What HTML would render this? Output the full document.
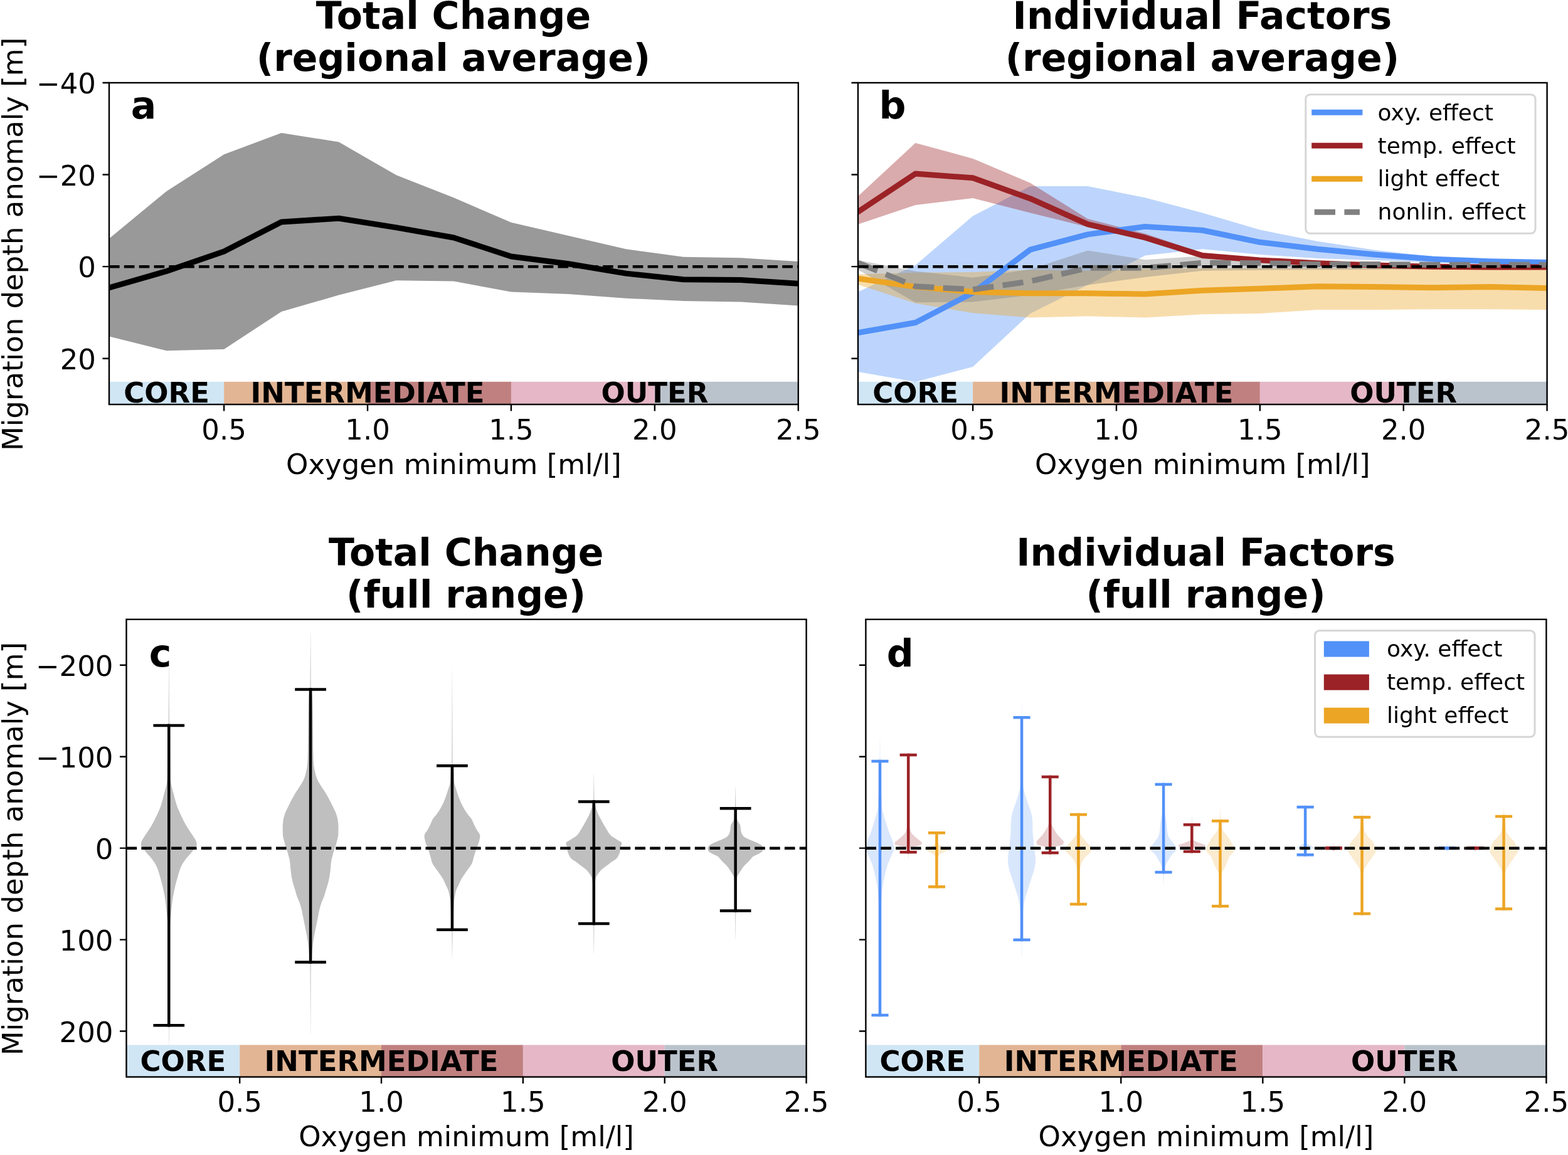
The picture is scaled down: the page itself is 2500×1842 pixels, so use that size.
<!DOCTYPE html>
<html><head><meta charset="utf-8"><title>Migration depth anomaly</title>
<style>html,body{margin:0;padding:0;background:#fff;overflow:hidden;width:2500px;height:1842px;}svg{display:block;}text{font-family:'DejaVu Sans', 'Liberation Sans', sans-serif;fill:#000;}</style>
</head><body>
<svg width="2500" height="1842" viewBox="0 0 2500 1842" font-family="'DejaVu Sans', 'Liberation Sans', sans-serif"><defs><clipPath id="clip_a"><rect x="174" y="132" width="1098.8" height="513"/></clipPath><clipPath id="clip_b"><rect x="1368" y="132" width="1098.6" height="513"/></clipPath><clipPath id="clip_c"><rect x="201.5" y="987.8" width="1084.1" height="729.7"/></clipPath><clipPath id="clip_d"><rect x="1380.4" y="987.8" width="1085" height="729.7"/></clipPath></defs><rect width="2500" height="1842" fill="#fff"/><g clip-path="url(#clip_a)">
<rect x="174" y="608.8" width="183.13" height="36.2" fill="#d0e6f5"/>
<rect x="357.13" y="608.8" width="228.92" height="36.2" fill="#e2b594"/>
<rect x="586.05" y="608.8" width="228.92" height="36.2" fill="#c08080"/>
<rect x="814.97" y="608.8" width="228.92" height="36.2" fill="#e5b7c7"/>
<rect x="1043.88" y="608.8" width="228.92" height="36.2" fill="#bac3cc"/>
<polygon points="174,380.44 265.57,304.95 357.13,246.33 448.7,211.88 540.27,226.54 631.83,279.3 723.4,315.21 814.97,354.79 906.53,376.04 998.1,397.29 1089.67,409.75 1181.23,411.22 1272.8,417.08 1272.8,487.44 1181.23,481.57 1089.67,480.11 998.1,475.71 906.53,469.11 814.97,465.45 723.4,448.59 631.83,447.13 540.27,470.58 448.7,496.96 357.13,557.06 265.57,559.26 174,536.54" fill="#999999" fill-opacity="1"/>
<polyline points="174,458.85 265.57,432.47 357.13,400.96 448.7,354.06 540.27,348.19 631.83,362.85 723.4,378.97 814.97,409.02 906.53,420.75 998.1,436.14 1089.67,445.66 1181.23,446.4 1272.8,452.26" fill="none" stroke="#000" stroke-width="9" stroke-linejoin="round" stroke-linecap="square"/>
<line x1="174" y1="425.14" x2="1272.8" y2="425.14" stroke="#000" stroke-width="4.5" stroke-dasharray="16.65 7.2"/>
<text x="265.57" y="642.3" font-size="45" text-anchor="middle" font-weight="bold">CORE</text>
<text x="586.05" y="642.3" font-size="45" text-anchor="middle" font-weight="bold">INTERMEDIATE</text>
<text x="1043.88" y="642.3" font-size="45" text-anchor="middle" font-weight="bold">OUTER</text>
</g>
<rect x="174" y="132" width="1098.8" height="513" fill="none" stroke="#000" stroke-width="2.4" stroke-linejoin="miter"/>
<path d="M357.13 645V655.5M586.05 645V655.5M814.97 645V655.5M1043.88 645V655.5M1272.8 645V655.5M174 132H163.5M174 278.57H163.5M174 425.14H163.5M174 571.71H163.5" stroke="#000" stroke-width="2.4" fill="none"/>
<text x="357.13" y="700.5" font-size="45" text-anchor="middle">0.5</text>
<text x="586.05" y="700.5" font-size="45" text-anchor="middle">1.0</text>
<text x="814.97" y="700.5" font-size="45" text-anchor="middle">1.5</text>
<text x="1043.88" y="700.5" font-size="45" text-anchor="middle">2.0</text>
<text x="1272.8" y="700.5" font-size="45" text-anchor="middle">2.5</text>
<text x="153" y="149" font-size="45" text-anchor="end">−40</text>
<text x="153" y="295.57" font-size="45" text-anchor="end">−20</text>
<text x="153" y="442.14" font-size="45" text-anchor="end">0</text>
<text x="153" y="588.71" font-size="45" text-anchor="end">20</text>
<text x="723.4" y="755.5" font-size="45" text-anchor="middle">Oxygen minimum [ml/l]</text>
<text x="36.2" y="389.4" font-size="45" text-anchor="middle" transform="rotate(-90 36.2 389.4)">Migration depth anomaly [m]</text>
<text x="723" y="46.1" font-size="60" text-anchor="middle" font-weight="bold">Total Change</text>
<text x="723" y="113.3" font-size="60" text-anchor="middle" font-weight="bold">(regional average)</text>
<text x="208.8" y="189.4" font-size="60" text-anchor="start" font-weight="bold">a</text>
<g clip-path="url(#clip_b)">
<rect x="1368" y="608.8" width="183.1" height="36.2" fill="#d0e6f5"/>
<rect x="1551.1" y="608.8" width="228.88" height="36.2" fill="#e2b594"/>
<rect x="1779.97" y="608.8" width="228.88" height="36.2" fill="#c08080"/>
<rect x="2008.85" y="608.8" width="228.88" height="36.2" fill="#e5b7c7"/>
<rect x="2237.72" y="608.8" width="228.88" height="36.2" fill="#bac3cc"/>
<polygon points="1368,465.45 1459.55,422.94 1551.1,344.53 1642.65,296.89 1734.2,296.89 1825.75,315.21 1917.3,339.4 2008.85,366.51 2100.4,384.84 2191.95,398.76 2283.5,409.02 2375.05,414.52 2466.6,416.35 2466.6,421.11 2375.05,419.65 2283.5,418.18 2191.95,414.88 2100.4,411.95 2008.85,406.09 1917.3,397.29 1825.75,407.55 1734.2,454.46 1642.65,499.89 1551.1,584.91 1459.55,609.09 1368,592.97" fill="#5291f8" fill-opacity="0.38"/>
<polygon points="1368,313.02 1459.55,228 1551.1,252.92 1642.65,291.76 1734.2,348.93 1825.75,372.38 1917.3,403.16 2008.85,411.95 2100.4,417.81 2191.95,421.48 2283.5,423.68 2375.05,424.41 2466.6,424.41 2466.6,426.61 2375.05,426.61 2283.5,425.88 2191.95,424.41 2100.4,421.48 2008.85,417.81 1917.3,411.95 1825.75,383.37 1734.2,362.12 1642.65,339.4 1551.1,315.95 1459.55,326.94 1368,357.72" fill="#9b2226" fill-opacity="0.38"/>
<polygon points="1368,437.6 1459.55,434.67 1551.1,433.94 1642.65,430.27 1734.2,431.74 1825.75,428.81 1917.3,428.07 2008.85,427.71 2100.4,427.71 2191.95,427.71 2283.5,427.71 2375.05,427.71 2466.6,427.71 2466.6,494.03 2375.05,493.3 2283.5,493.3 2191.95,494.03 2100.4,494.03 2008.85,499.89 1917.3,501.36 1825.75,506.49 1734.2,504.29 1642.65,506.49 1551.1,499.16 1459.55,483.77 1368,453.72" fill="#eca524" fill-opacity="0.38"/>
<polygon points="1368,414.88 1459.55,432.47 1551.1,442.73 1642.65,429.54 1734.2,399.49 1825.75,414.15 1917.3,408.29 2008.85,417.08 2100.4,419.28 2191.95,420.01 2283.5,420.75 2375.05,420.75 2466.6,420.75 2466.6,429.54 2375.05,429.54 2283.5,429.54 2191.95,429.91 2100.4,430.27 2008.85,430.64 1917.3,431.74 1825.75,442 1734.2,454.46 1642.65,470.58 1551.1,481.57 1459.55,482.31 1368,430.27" fill="#808080" fill-opacity="0.38"/>
<polyline points="1368,530.67 1459.55,514.55 1551.1,466.92 1642.65,398.03 1734.2,373.84 1825.75,361.38 1917.3,367.25 2008.85,386.3 2100.4,397.29 2191.95,406.09 2283.5,413.05 2375.05,416.72 2466.6,418.55" fill="none" stroke="#5291f8" stroke-width="9" stroke-linejoin="round" stroke-linecap="square"/>
<polyline points="1368,337.93 1459.55,277.11 1551.1,283.7 1642.65,316.68 1734.2,357.72 1825.75,378.97 1917.3,407.55 2008.85,414.88 2100.4,419.65 2191.95,422.94 2283.5,425.14 2375.05,425.88 2466.6,425.88" fill="none" stroke="#9b2226" stroke-width="9" stroke-linejoin="round" stroke-linecap="square"/>
<polyline points="1368,444.2 1459.55,457.39 1551.1,465.45 1642.65,467.65 1734.2,467.65 1825.75,469.11 1917.3,463.25 2008.85,460.32 2100.4,456.66 2191.95,457.39 2283.5,458.85 2375.05,457.39 2466.6,459.59" fill="none" stroke="#eca524" stroke-width="9" stroke-linejoin="round" stroke-linecap="square"/>
<polyline points="1368,419.28 1459.55,456.66 1551.1,461.79 1642.65,448.59 1734.2,427.34 1825.75,427.34 1917.3,419.28 2008.85,419.65 2100.4,421.48 2191.95,421.48 2283.5,422.21 2375.05,422.21 2466.6,422.21" fill="none" stroke="#808080" stroke-width="9" stroke-linejoin="round" stroke-dasharray="33.3 14.4" stroke-linecap="butt"/>
<line x1="1368" y1="425.14" x2="2466.6" y2="425.14" stroke="#000" stroke-width="4.5" stroke-dasharray="16.65 7.2"/>
<text x="1459.55" y="642.3" font-size="45" text-anchor="middle" font-weight="bold">CORE</text>
<text x="1779.97" y="642.3" font-size="45" text-anchor="middle" font-weight="bold">INTERMEDIATE</text>
<text x="2237.72" y="642.3" font-size="45" text-anchor="middle" font-weight="bold">OUTER</text>
</g>
<rect x="1368" y="132" width="1098.6" height="513" fill="none" stroke="#000" stroke-width="2.4" stroke-linejoin="miter"/>
<path d="M1551.1 645V655.5M1779.97 645V655.5M2008.85 645V655.5M2237.72 645V655.5M2466.6 645V655.5M1368 132H1357.5M1368 278.57H1357.5M1368 425.14H1357.5M1368 571.71H1357.5" stroke="#000" stroke-width="2.4" fill="none"/>
<text x="1551.1" y="700.5" font-size="45" text-anchor="middle">0.5</text>
<text x="1779.97" y="700.5" font-size="45" text-anchor="middle">1.0</text>
<text x="2008.85" y="700.5" font-size="45" text-anchor="middle">1.5</text>
<text x="2237.72" y="700.5" font-size="45" text-anchor="middle">2.0</text>
<text x="2466.6" y="700.5" font-size="45" text-anchor="middle">2.5</text>
<text x="1917.3" y="755.5" font-size="45" text-anchor="middle">Oxygen minimum [ml/l]</text>
<text x="1916.9" y="46.1" font-size="60" text-anchor="middle" font-weight="bold">Individual Factors</text>
<text x="1916.9" y="113.3" font-size="60" text-anchor="middle" font-weight="bold">(regional average)</text>
<text x="1401.6" y="189.4" font-size="60" text-anchor="start" font-weight="bold">b</text>
<g clip-path="url(#clip_c)">
<rect x="201.5" y="1666.5" width="180.68" height="51" fill="#d0e6f5"/>
<rect x="382.18" y="1666.5" width="225.85" height="51" fill="#e2b594"/>
<rect x="608.04" y="1666.5" width="225.85" height="51" fill="#c08080"/>
<rect x="833.89" y="1666.5" width="225.85" height="51" fill="#e5b7c7"/>
<rect x="1059.75" y="1666.5" width="225.85" height="51" fill="#bac3cc"/>
<polygon points="269.18,1056.39 269.17,1058.43 269.15,1060.47 269.14,1062.51 269.13,1064.55 269.12,1066.59 269.11,1068.63 269.1,1070.67 269.09,1072.71 269.08,1074.75 269.06,1076.79 269.05,1078.83 269.04,1080.87 269.03,1082.91 269.02,1084.96 269.01,1087 269,1089.04 268.99,1091.08 268.98,1093.12 268.96,1095.16 268.95,1097.2 268.94,1099.24 268.93,1101.28 268.92,1103.32 268.91,1105.36 268.9,1107.4 268.89,1109.44 268.87,1111.48 268.86,1113.52 268.85,1115.56 268.84,1117.6 268.83,1119.64 268.82,1121.68 268.81,1123.72 268.8,1125.76 268.79,1127.8 268.77,1129.84 268.76,1131.88 268.75,1133.92 268.74,1135.96 268.73,1138 268.72,1140.04 268.71,1142.08 268.7,1144.12 268.69,1146.16 268.67,1148.2 268.66,1150.24 268.65,1152.28 268.64,1154.32 268.63,1156.36 267.63,1158.4 267.6,1160.44 267.58,1162.48 267.56,1164.52 267.53,1166.56 267.51,1168.6 267.49,1170.64 267.47,1172.68 267.44,1174.73 267.42,1176.77 267.4,1178.81 267.38,1180.85 267.36,1182.89 267.33,1184.93 267.31,1186.97 267.29,1189.01 267.27,1191.05 267.25,1193.09 267.22,1195.13 267.2,1197.17 267.18,1199.21 267.16,1201.25 267.14,1203.29 267.12,1205.33 267.1,1207.37 267.08,1209.41 267.06,1211.45 267.04,1213.49 267.02,1215.53 267,1217.57 266.98,1219.61 266.95,1221.65 266.93,1223.69 266.91,1225.73 266.89,1227.77 266.87,1229.81 266.85,1231.85 266.83,1233.89 266.8,1235.93 266.76,1237.97 266.72,1240.01 266.66,1242.05 266.54,1244.09 266.28,1246.13 265.93,1248.17 265.56,1250.21 265.18,1252.25 264.75,1254.29 264.28,1256.33 263.77,1258.37 263.23,1260.41 262.68,1262.46 262.12,1264.5 261.57,1266.54 261.03,1268.58 260.51,1270.62 259.98,1272.66 259.45,1274.7 258.91,1276.74 258.35,1278.78 257.76,1280.82 257.14,1282.86 256.47,1284.9 255.75,1286.94 254.96,1288.98 254.13,1291.02 253.26,1293.06 252.36,1295.1 251.43,1297.14 250.48,1299.18 249.52,1301.22 248.55,1303.26 247.56,1305.3 246.54,1307.34 245.49,1309.38 244.42,1311.42 243.31,1313.46 242.18,1315.5 241.01,1317.54 239.81,1319.58 238.51,1321.62 237.16,1323.66 235.77,1325.7 234.37,1327.74 233.01,1329.78 231.71,1331.82 230.4,1333.86 229,1335.9 227.67,1337.94 226.53,1339.98 225.73,1342.02 225.21,1344.06 224.84,1346.1 224.86,1348.14 225.93,1350.19 227.46,1352.23 228.91,1354.27 230.55,1356.31 232.31,1358.35 234.07,1360.39 235.8,1362.43 237.58,1364.47 239.36,1366.51 241.06,1368.55 242.64,1370.59 244.18,1372.63 245.64,1374.67 246.97,1376.71 248.11,1378.75 249.13,1380.79 250.05,1382.83 250.89,1384.87 251.66,1386.91 252.37,1388.95 253.04,1390.99 253.68,1393.03 254.28,1395.07 254.86,1397.11 255.43,1399.15 255.99,1401.19 256.54,1403.23 257.09,1405.27 257.64,1407.31 258.18,1409.35 258.7,1411.39 259.21,1413.43 259.71,1415.47 260.17,1417.51 260.62,1419.55 261.04,1421.59 261.45,1423.63 261.85,1425.67 262.23,1427.71 262.6,1429.75 262.95,1431.79 263.27,1433.83 263.57,1435.87 263.83,1437.92 264.08,1439.96 264.3,1442 264.5,1444.04 264.69,1446.08 264.88,1448.12 265.07,1450.16 265.26,1452.2 265.46,1454.24 265.67,1456.28 265.9,1458.32 266.13,1460.36 266.36,1462.4 266.59,1464.44 266.79,1466.48 266.97,1468.52 267.12,1470.56 267.24,1472.6 267.35,1474.64 267.45,1476.68 267.55,1478.72 267.64,1480.76 267.72,1482.8 267.79,1484.84 267.86,1486.88 267.91,1488.92 267.95,1490.96 267.98,1493 268.02,1495.04 268.05,1497.08 268.08,1499.12 268.11,1501.16 268.13,1503.2 268.16,1505.24 268.18,1507.28 268.2,1509.32 268.22,1511.36 268.24,1513.4 268.26,1515.44 268.28,1517.48 268.3,1519.52 268.31,1521.56 268.33,1523.6 268.34,1525.65 268.36,1527.69 268.37,1529.73 268.39,1531.77 268.4,1533.81 268.41,1535.85 268.43,1537.89 268.44,1539.93 268.45,1541.97 268.47,1544.01 268.48,1546.05 268.49,1548.09 268.51,1550.13 268.52,1552.17 268.53,1554.21 268.54,1556.25 268.55,1558.29 268.56,1560.33 268.57,1562.37 268.59,1564.41 268.6,1566.45 268.61,1568.49 268.62,1570.53 268.63,1572.57 268.63,1574.61 268.64,1576.65 268.65,1578.69 268.66,1580.73 268.67,1582.77 268.68,1584.81 268.69,1586.85 268.7,1588.89 268.71,1590.93 268.72,1592.97 268.73,1595.01 268.74,1597.05 268.75,1599.09 268.76,1601.13 268.77,1603.17 268.78,1605.21 268.79,1607.25 268.8,1609.29 268.81,1611.33 268.82,1613.37 268.83,1615.42 268.84,1617.46 268.85,1619.5 268.86,1621.54 268.86,1623.58 268.87,1625.62 268.88,1627.66 268.89,1629.7 268.9,1631.74 268.91,1633.78 268.92,1635.82 268.93,1637.86 268.94,1639.9 268.95,1641.94 268.96,1643.98 268.97,1646.02 268.98,1648.06 268.99,1650.1 268.99,1652.14 269,1654.18 269.01,1656.22 269.03,1658.26 269.07,1660.3 269.1,1662.34 269.14,1664.38 269.18,1666.42 269.34,1666.42 269.37,1664.38 269.41,1662.34 269.44,1660.3 269.48,1658.26 269.5,1656.22 269.51,1654.18 269.52,1652.14 269.53,1650.1 269.54,1648.06 269.55,1646.02 269.55,1643.98 269.56,1641.94 269.57,1639.9 269.58,1637.86 269.59,1635.82 269.6,1633.78 269.61,1631.74 269.62,1629.7 269.63,1627.66 269.64,1625.62 269.65,1623.58 269.66,1621.54 269.67,1619.5 269.68,1617.46 269.69,1615.42 269.7,1613.37 269.71,1611.33 269.72,1609.29 269.72,1607.25 269.73,1605.21 269.74,1603.17 269.75,1601.13 269.76,1599.09 269.77,1597.05 269.78,1595.01 269.79,1592.97 269.8,1590.93 269.81,1588.89 269.82,1586.85 269.83,1584.81 269.84,1582.77 269.85,1580.73 269.86,1578.69 269.87,1576.65 269.88,1574.61 269.89,1572.57 269.9,1570.53 269.91,1568.49 269.92,1566.45 269.93,1564.41 269.94,1562.37 269.95,1560.33 269.96,1558.29 269.97,1556.25 269.98,1554.21 269.99,1552.17 270.01,1550.13 270.02,1548.09 270.03,1546.05 270.05,1544.01 270.06,1541.97 270.07,1539.93 270.09,1537.89 270.1,1535.85 270.11,1533.81 270.13,1531.77 270.14,1529.73 270.16,1527.69 270.17,1525.65 270.19,1523.6 270.2,1521.56 270.22,1519.52 270.23,1517.48 270.25,1515.44 270.27,1513.4 270.29,1511.36 270.31,1509.32 270.33,1507.28 270.36,1505.24 270.38,1503.2 270.41,1501.16 270.43,1499.12 270.46,1497.08 270.49,1495.04 270.53,1493 270.56,1490.96 270.6,1488.92 270.66,1486.88 270.72,1484.84 270.79,1482.8 270.87,1480.76 270.96,1478.72 271.06,1476.68 271.16,1474.64 271.27,1472.6 271.39,1470.56 271.54,1468.52 271.72,1466.48 271.93,1464.44 272.15,1462.4 272.38,1460.36 272.61,1458.32 272.84,1456.28 273.05,1454.24 273.25,1452.2 273.44,1450.16 273.63,1448.12 273.82,1446.08 274.01,1444.04 274.22,1442 274.44,1439.96 274.68,1437.92 274.95,1435.87 275.24,1433.83 275.57,1431.79 275.91,1429.75 276.28,1427.71 276.67,1425.67 277.06,1423.63 277.48,1421.59 277.9,1419.55 278.34,1417.51 278.81,1415.47 279.3,1413.43 279.81,1411.39 280.33,1409.35 280.87,1407.31 281.42,1405.27 281.97,1403.23 282.53,1401.19 283.08,1399.15 283.65,1397.11 284.23,1395.07 284.84,1393.03 285.47,1390.99 286.14,1388.95 286.86,1386.91 287.62,1384.87 288.46,1382.83 289.38,1380.79 290.4,1378.75 291.54,1376.71 292.87,1374.67 294.33,1372.63 295.87,1370.59 297.45,1368.55 299.15,1366.51 300.93,1364.47 302.72,1362.43 304.45,1360.39 306.21,1358.35 307.96,1356.31 309.6,1354.27 311.05,1352.23 312.58,1350.19 313.65,1348.14 313.67,1346.1 313.3,1344.06 312.78,1342.02 311.99,1339.98 310.85,1337.94 309.51,1335.9 308.12,1333.86 306.8,1331.82 305.5,1329.78 304.14,1327.74 302.75,1325.7 301.36,1323.66 300,1321.62 298.71,1319.58 297.5,1317.54 296.33,1315.5 295.2,1313.46 294.09,1311.42 293.02,1309.38 291.97,1307.34 290.95,1305.3 289.96,1303.26 288.99,1301.22 288.03,1299.18 287.09,1297.14 286.16,1295.1 285.25,1293.06 284.38,1291.02 283.55,1288.98 282.77,1286.94 282.04,1284.9 281.37,1282.86 280.75,1280.82 280.16,1278.78 279.6,1276.74 279.06,1274.7 278.53,1272.66 278.01,1270.62 277.48,1268.58 276.94,1266.54 276.39,1264.5 275.83,1262.46 275.28,1260.41 274.74,1258.37 274.23,1256.33 273.76,1254.29 273.33,1252.25 272.95,1250.21 272.58,1248.17 272.24,1246.13 271.97,1244.09 271.85,1242.05 271.8,1240.01 271.75,1237.97 271.72,1235.93 271.69,1233.89 271.66,1231.85 271.64,1229.81 271.62,1227.77 271.6,1225.73 271.58,1223.69 271.56,1221.65 271.54,1219.61 271.51,1217.57 271.49,1215.53 271.47,1213.49 271.45,1211.45 271.43,1209.41 271.41,1207.37 271.39,1205.33 271.37,1203.29 271.35,1201.25 271.33,1199.21 271.31,1197.17 271.29,1195.13 271.27,1193.09 271.24,1191.05 271.22,1189.01 271.2,1186.97 271.18,1184.93 271.16,1182.89 271.14,1180.85 271.11,1178.81 271.09,1176.77 271.07,1174.73 271.05,1172.68 271.02,1170.64 271,1168.6 270.98,1166.56 270.96,1164.52 270.93,1162.48 270.91,1160.44 270.88,1158.4 269.88,1156.36 269.87,1154.32 269.86,1152.28 269.85,1150.24 269.84,1148.2 269.83,1146.16 269.82,1144.12 269.8,1142.08 269.79,1140.04 269.78,1138 269.77,1135.96 269.76,1133.92 269.75,1131.88 269.74,1129.84 269.73,1127.8 269.72,1125.76 269.7,1123.72 269.69,1121.68 269.68,1119.64 269.67,1117.6 269.66,1115.56 269.65,1113.52 269.64,1111.48 269.63,1109.44 269.62,1107.4 269.6,1105.36 269.59,1103.32 269.58,1101.28 269.57,1099.24 269.56,1097.2 269.55,1095.16 269.54,1093.12 269.53,1091.08 269.51,1089.04 269.5,1087 269.49,1084.96 269.48,1082.91 269.47,1080.87 269.46,1078.83 269.45,1076.79 269.44,1074.75 269.43,1072.71 269.41,1070.67 269.4,1068.63 269.39,1066.59 269.38,1064.55 269.37,1062.51 269.36,1060.47 269.35,1058.43 269.34,1056.39" fill="#808080" fill-opacity="0.5"/>
<polygon points="495.03,1008.23 495.02,1010.37 495,1012.52 494.99,1014.66 494.98,1016.8 494.97,1018.94 494.95,1021.08 494.94,1023.22 494.93,1025.37 494.91,1027.51 494.9,1029.65 494.89,1031.79 494.88,1033.93 494.86,1036.07 494.85,1038.22 494.84,1040.36 494.82,1042.5 494.81,1044.64 494.8,1046.78 494.79,1048.92 494.77,1051.07 494.76,1053.21 494.75,1055.35 494.73,1057.49 494.72,1059.63 494.71,1061.78 494.69,1063.92 494.68,1066.06 494.67,1068.2 494.66,1070.34 494.64,1072.48 494.63,1074.63 494.62,1076.77 494.6,1078.91 494.59,1081.05 494.58,1083.19 494.57,1085.33 494.55,1087.48 494.54,1089.62 494.53,1091.76 494.51,1093.9 494.5,1096.04 494.49,1098.19 492.96,1100.33 492.83,1102.47 492.7,1104.61 492.56,1106.75 492.41,1108.89 492.28,1111.04 492.15,1113.18 492.05,1115.32 491.96,1117.46 491.9,1119.6 491.85,1121.74 491.81,1123.89 491.77,1126.03 491.73,1128.17 491.69,1130.31 491.66,1132.45 491.63,1134.6 491.6,1136.74 491.57,1138.88 491.55,1141.02 491.52,1143.16 491.5,1145.3 491.48,1147.45 491.46,1149.59 491.43,1151.73 491.41,1153.87 491.39,1156.01 491.37,1158.15 491.34,1160.3 491.32,1162.44 491.29,1164.58 491.27,1166.72 491.25,1168.86 491.23,1171 491.21,1173.15 491.19,1175.29 491.17,1177.43 491.15,1179.57 491.13,1181.71 491.12,1183.86 491.09,1186 491.07,1188.14 491.05,1190.28 491.02,1192.42 490.99,1194.56 490.96,1196.71 490.92,1198.85 490.88,1200.99 490.83,1203.13 490.76,1205.27 490.69,1207.41 490.6,1209.56 490.51,1211.7 490.39,1213.84 490.27,1215.98 490.13,1218.12 489.94,1220.27 489.67,1222.41 489.33,1224.55 488.92,1226.69 488.48,1228.83 488,1230.97 487.51,1233.12 486.96,1235.26 486.33,1237.4 485.62,1239.54 484.83,1241.68 483.97,1243.82 482.92,1245.97 481.7,1248.11 480.37,1250.25 479,1252.39 477.65,1254.53 476.28,1256.68 474.87,1258.82 473.43,1260.96 472.03,1263.1 470.69,1265.24 469.43,1267.38 468.21,1269.53 467.03,1271.67 465.87,1273.81 464.73,1275.95 463.61,1278.09 462.5,1280.23 461.42,1282.38 460.36,1284.52 459.33,1286.66 458.3,1288.8 457.25,1290.94 456.22,1293.09 455.27,1295.23 454.44,1297.37 453.75,1299.51 453.09,1301.65 452.49,1303.79 451.99,1305.94 451.61,1308.08 451.36,1310.22 451.13,1312.36 450.94,1314.5 450.8,1316.64 450.72,1318.79 450.71,1320.93 450.73,1323.07 450.76,1325.21 450.81,1327.35 450.87,1329.49 450.96,1331.64 451.23,1333.78 451.65,1335.92 452.18,1338.06 452.73,1340.2 453.27,1342.35 453.85,1344.49 454.5,1346.63 455.18,1348.77 455.87,1350.91 456.53,1353.05 457.21,1355.2 457.89,1357.34 458.57,1359.48 459.21,1361.62 459.79,1363.76 460.36,1365.9 460.92,1368.05 461.44,1370.19 461.88,1372.33 462.22,1374.47 462.47,1376.61 462.66,1378.76 462.83,1380.9 463,1383.04 463.21,1385.18 463.45,1387.32 463.7,1389.46 463.97,1391.61 464.26,1393.75 464.57,1395.89 464.92,1398.03 465.3,1400.17 465.72,1402.31 466.17,1404.46 466.66,1406.6 467.2,1408.74 467.83,1410.88 468.51,1413.02 469.21,1415.17 469.89,1417.31 470.52,1419.45 471.13,1421.59 471.72,1423.73 472.33,1425.87 472.99,1428.02 473.73,1430.16 474.59,1432.3 475.5,1434.44 476.42,1436.58 477.28,1438.72 478.03,1440.87 478.73,1443.01 479.4,1445.15 480.02,1447.29 480.59,1449.43 481.11,1451.57 481.57,1453.72 482,1455.86 482.4,1458 482.81,1460.14 483.23,1462.28 483.66,1464.43 484.09,1466.57 484.52,1468.71 484.95,1470.85 485.39,1472.99 485.82,1475.13 486.27,1477.28 486.71,1479.42 487.14,1481.56 487.57,1483.7 488,1485.84 488.43,1487.98 488.85,1490.13 489.25,1492.27 489.62,1494.41 489.97,1496.55 490.3,1498.69 490.61,1500.84 490.91,1502.98 491.19,1505.12 491.46,1507.26 491.72,1509.4 491.97,1511.54 492.19,1513.69 492.39,1515.83 492.56,1517.97 492.71,1520.11 492.86,1522.25 492.99,1524.39 493.11,1526.54 493.22,1528.68 493.32,1530.82 493.4,1532.96 494.48,1535.1 494.49,1537.25 494.5,1539.39 494.51,1541.53 494.52,1543.67 494.53,1545.81 494.55,1547.95 494.56,1550.1 494.57,1552.24 494.58,1554.38 494.59,1556.52 494.6,1558.66 494.61,1560.8 494.62,1562.95 494.63,1565.09 494.64,1567.23 494.65,1569.37 494.66,1571.51 494.67,1573.65 494.68,1575.8 494.69,1577.94 494.7,1580.08 494.71,1582.22 494.72,1584.36 494.73,1586.51 494.74,1588.65 494.75,1590.79 494.76,1592.93 494.77,1595.07 494.78,1597.21 494.79,1599.36 494.8,1601.5 494.81,1603.64 494.82,1605.78 494.83,1607.92 494.84,1610.06 494.85,1612.21 494.87,1614.35 494.88,1616.49 494.89,1618.63 494.9,1620.77 494.91,1622.92 494.92,1625.06 494.93,1627.2 494.94,1629.34 494.95,1631.48 494.96,1633.62 494.97,1635.77 494.98,1637.91 494.99,1640.05 495,1642.19 495.01,1644.33 495.02,1646.47 495.03,1648.62 495.19,1648.62 495.2,1646.47 495.21,1644.33 495.22,1642.19 495.23,1640.05 495.24,1637.91 495.25,1635.77 495.26,1633.62 495.27,1631.48 495.28,1629.34 495.29,1627.2 495.3,1625.06 495.31,1622.92 495.32,1620.77 495.33,1618.63 495.35,1616.49 495.36,1614.35 495.37,1612.21 495.38,1610.06 495.39,1607.92 495.4,1605.78 495.41,1603.64 495.42,1601.5 495.43,1599.36 495.44,1597.21 495.45,1595.07 495.46,1592.93 495.47,1590.79 495.48,1588.65 495.49,1586.51 495.5,1584.36 495.51,1582.22 495.52,1580.08 495.53,1577.94 495.54,1575.8 495.55,1573.65 495.56,1571.51 495.57,1569.37 495.58,1567.23 495.59,1565.09 495.6,1562.95 495.61,1560.8 495.62,1558.66 495.63,1556.52 495.64,1554.38 495.65,1552.24 495.67,1550.1 495.68,1547.95 495.69,1545.81 495.7,1543.67 495.71,1541.53 495.72,1539.39 495.73,1537.25 495.74,1535.1 496.82,1532.96 496.91,1530.82 497,1528.68 497.11,1526.54 497.23,1524.39 497.36,1522.25 497.51,1520.11 497.66,1517.97 497.83,1515.83 498.03,1513.69 498.25,1511.54 498.5,1509.4 498.76,1507.26 499.03,1505.12 499.31,1502.98 499.61,1500.84 499.92,1498.69 500.25,1496.55 500.6,1494.41 500.97,1492.27 501.38,1490.13 501.8,1487.98 502.22,1485.84 502.65,1483.7 503.08,1481.56 503.52,1479.42 503.96,1477.28 504.4,1475.13 504.83,1472.99 505.27,1470.85 505.7,1468.71 506.13,1466.57 506.56,1464.43 506.99,1462.28 507.41,1460.14 507.82,1458 508.22,1455.86 508.65,1453.72 509.11,1451.57 509.63,1449.43 510.2,1447.29 510.83,1445.15 511.49,1443.01 512.19,1440.87 512.94,1438.72 513.8,1436.58 514.72,1434.44 515.63,1432.3 516.49,1430.16 517.23,1428.02 517.89,1425.87 518.5,1423.73 519.1,1421.59 519.7,1419.45 520.33,1417.31 521.01,1415.17 521.71,1413.02 522.39,1410.88 523.02,1408.74 523.56,1406.6 524.05,1404.46 524.5,1402.31 524.92,1400.17 525.3,1398.03 525.65,1395.89 525.97,1393.75 526.26,1391.61 526.52,1389.46 526.78,1387.32 527.01,1385.18 527.22,1383.04 527.39,1380.9 527.56,1378.76 527.76,1376.61 528,1374.47 528.34,1372.33 528.78,1370.19 529.3,1368.05 529.86,1365.9 530.43,1363.76 531.01,1361.62 531.66,1359.48 532.33,1357.34 533.02,1355.2 533.69,1353.05 534.35,1350.91 535.04,1348.77 535.72,1346.63 536.37,1344.49 536.95,1342.35 537.49,1340.2 538.04,1338.06 538.57,1335.92 538.99,1333.78 539.26,1331.64 539.35,1329.49 539.41,1327.35 539.46,1325.21 539.49,1323.07 539.51,1320.93 539.5,1318.79 539.42,1316.64 539.28,1314.5 539.09,1312.36 538.86,1310.22 538.61,1308.08 538.23,1305.94 537.73,1303.79 537.13,1301.65 536.47,1299.51 535.78,1297.37 534.95,1295.23 534,1293.09 532.97,1290.94 531.92,1288.8 530.89,1286.66 529.86,1284.52 528.8,1282.38 527.72,1280.23 526.61,1278.09 525.49,1275.95 524.35,1273.81 523.19,1271.67 522.01,1269.53 520.79,1267.38 519.53,1265.24 518.19,1263.1 516.79,1260.96 515.35,1258.82 513.94,1256.68 512.57,1254.53 511.22,1252.39 509.85,1250.25 508.52,1248.11 507.3,1245.97 506.25,1243.82 505.39,1241.68 504.6,1239.54 503.89,1237.4 503.26,1235.26 502.71,1233.12 502.22,1230.97 501.74,1228.83 501.3,1226.69 500.89,1224.55 500.55,1222.41 500.28,1220.27 500.09,1218.12 499.95,1215.98 499.83,1213.84 499.71,1211.7 499.62,1209.56 499.53,1207.41 499.46,1205.27 499.39,1203.13 499.34,1200.99 499.3,1198.85 499.26,1196.71 499.23,1194.56 499.2,1192.42 499.17,1190.28 499.15,1188.14 499.13,1186 499.11,1183.86 499.09,1181.71 499.07,1179.57 499.05,1177.43 499.03,1175.29 499.01,1173.15 498.99,1171 498.97,1168.86 498.95,1166.72 498.93,1164.58 498.9,1162.44 498.88,1160.3 498.86,1158.15 498.83,1156.01 498.81,1153.87 498.79,1151.73 498.77,1149.59 498.74,1147.45 498.72,1145.3 498.7,1143.16 498.67,1141.02 498.65,1138.88 498.62,1136.74 498.59,1134.6 498.56,1132.45 498.53,1130.31 498.49,1128.17 498.45,1126.03 498.41,1123.89 498.37,1121.74 498.32,1119.6 498.26,1117.46 498.18,1115.32 498.07,1113.18 497.94,1111.04 497.81,1108.89 497.67,1106.75 497.52,1104.61 497.39,1102.47 497.26,1100.33 495.73,1098.19 495.72,1096.04 495.71,1093.9 495.69,1091.76 495.68,1089.62 495.67,1087.48 495.66,1085.33 495.64,1083.19 495.63,1081.05 495.62,1078.91 495.6,1076.77 495.59,1074.63 495.58,1072.48 495.56,1070.34 495.55,1068.2 495.54,1066.06 495.53,1063.92 495.51,1061.78 495.5,1059.63 495.49,1057.49 495.47,1055.35 495.46,1053.21 495.45,1051.07 495.44,1048.92 495.42,1046.78 495.41,1044.64 495.4,1042.5 495.38,1040.36 495.37,1038.22 495.36,1036.07 495.35,1033.93 495.33,1031.79 495.32,1029.65 495.31,1027.51 495.29,1025.37 495.28,1023.22 495.27,1021.08 495.25,1018.94 495.24,1016.8 495.23,1014.66 495.22,1012.52 495.2,1010.37 495.19,1008.23" fill="#808080" fill-opacity="0.5"/>
<polygon points="720.88,1069.53 720.88,1071.06 720.87,1072.6 720.87,1074.14 720.86,1075.68 720.86,1077.21 720.85,1078.75 720.85,1080.29 720.84,1081.83 720.83,1083.36 720.83,1084.9 720.82,1086.44 720.82,1087.98 720.81,1089.51 720.81,1091.05 720.8,1092.59 720.8,1094.13 720.79,1095.66 720.78,1097.2 720.78,1098.74 720.77,1100.28 720.77,1101.81 720.76,1103.35 720.76,1104.89 720.75,1106.43 720.75,1107.96 720.74,1109.5 720.73,1111.04 720.73,1112.58 720.72,1114.11 720.72,1115.65 720.71,1117.19 720.71,1118.73 720.7,1120.26 720.69,1121.8 720.69,1123.34 720.68,1124.88 720.68,1126.41 720.67,1127.95 720.67,1129.49 720.66,1131.03 720.66,1132.56 720.65,1134.1 720.64,1135.64 720.64,1137.18 720.63,1138.71 720.63,1140.25 720.62,1141.79 720.62,1143.33 720.61,1144.86 720.61,1146.4 720.6,1147.94 720.59,1149.48 720.59,1151.01 720.58,1152.55 720.58,1154.09 720.57,1155.63 720.57,1157.16 720.56,1158.7 720.56,1160.24 720.55,1161.78 720.54,1163.31 720.54,1164.85 720.53,1166.39 720.53,1167.93 720.52,1169.46 720.52,1171 720.51,1172.54 720.51,1174.08 720.5,1175.61 720.49,1177.15 720.49,1178.69 720.48,1180.23 720.48,1181.76 720.47,1183.3 720.47,1184.84 720.46,1186.38 720.46,1187.91 720.45,1189.45 720.44,1190.99 720.44,1192.53 720.43,1194.06 720.43,1195.6 720.42,1197.14 720.42,1198.68 720.41,1200.21 720.4,1201.75 720.4,1203.29 720.39,1204.83 720.39,1206.36 720.38,1207.9 720.38,1209.44 720.37,1210.98 720.37,1212.51 720.36,1214.05 720.35,1215.59 720.35,1217.13 720.34,1218.66 720.34,1220.2 718.75,1221.74 718.71,1223.28 718.68,1224.81 718.64,1226.35 718.6,1227.89 718.56,1229.43 718.52,1230.96 718.47,1232.5 718.43,1234.04 718.38,1235.58 718.32,1237.11 718.27,1238.65 718.22,1240.19 718.15,1241.73 718.08,1243.26 717.98,1244.8 717.85,1246.34 717.63,1247.88 717.34,1249.41 716.99,1250.95 716.59,1252.49 716.15,1254.03 715.68,1255.56 715.18,1257.1 714.68,1258.64 714.18,1260.18 713.69,1261.71 713.22,1263.25 712.74,1264.79 712.25,1266.33 711.73,1267.86 711.21,1269.4 710.66,1270.94 710.09,1272.48 709.51,1274.01 708.9,1275.55 708.27,1277.09 707.62,1278.63 706.94,1280.16 706.24,1281.7 705.49,1283.24 704.71,1284.78 703.9,1286.31 703.05,1287.85 702.17,1289.39 701.26,1290.93 700.32,1292.46 699.36,1294 698.36,1295.54 697.34,1297.08 696.25,1298.61 694.99,1300.15 693.64,1301.69 692.29,1303.23 691.05,1304.76 690.01,1306.3 689.19,1307.84 688.48,1309.38 687.83,1310.91 687.21,1312.45 686.56,1313.99 685.85,1315.53 685.09,1317.06 684.29,1318.6 683.48,1320.14 682.66,1321.68 681.83,1323.21 680.97,1324.75 679.91,1326.29 678.79,1327.83 677.76,1329.36 676.97,1330.9 676.58,1332.44 676.6,1333.98 676.76,1335.51 677,1337.05 677.31,1338.59 677.65,1340.13 677.99,1341.66 678.39,1343.2 678.88,1344.74 679.44,1346.28 680.03,1347.81 680.61,1349.35 681.17,1350.89 681.75,1352.43 682.34,1353.96 682.93,1355.5 683.51,1357.04 684.05,1358.58 684.54,1360.11 685.01,1361.65 685.45,1363.19 685.88,1364.73 686.31,1366.26 686.76,1367.8 687.19,1369.34 687.59,1370.88 688,1372.41 688.44,1373.95 688.95,1375.49 689.55,1377.03 690.35,1378.56 691.32,1380.1 692.4,1381.64 693.52,1383.18 694.63,1384.71 695.69,1386.25 696.78,1387.79 697.89,1389.33 699,1390.86 700.09,1392.4 701.16,1393.94 702.2,1395.48 703.24,1397.01 704.27,1398.55 705.26,1400.09 706.2,1401.63 707.05,1403.16 707.83,1404.7 708.55,1406.24 709.23,1407.78 709.89,1409.31 710.56,1410.85 711.26,1412.39 712,1413.93 712.76,1415.46 713.5,1417 714.17,1418.54 714.73,1420.08 715.17,1421.61 715.56,1423.15 715.91,1424.69 716.22,1426.23 716.5,1427.76 716.77,1429.3 717.03,1430.84 717.27,1432.38 717.51,1433.91 717.71,1435.45 717.88,1436.99 718,1438.53 718.11,1440.06 718.2,1441.6 718.28,1443.14 718.36,1444.68 718.43,1446.21 718.49,1447.75 718.55,1449.29 718.61,1450.83 718.67,1452.36 718.73,1453.9 718.79,1455.44 718.85,1456.98 718.91,1458.51 718.97,1460.05 719.03,1461.59 719.09,1463.13 719.14,1464.66 719.2,1466.2 719.25,1467.74 719.31,1469.28 719.36,1470.81 719.41,1472.35 719.46,1473.89 719.51,1475.43 719.56,1476.96 719.61,1478.5 719.65,1480.04 719.7,1481.58 720.34,1483.11 720.36,1484.65 720.37,1486.19 720.39,1487.73 720.41,1489.26 720.43,1490.8 720.45,1492.34 720.47,1493.88 720.48,1495.41 720.5,1496.95 720.52,1498.49 720.54,1500.02 720.56,1501.56 720.57,1503.1 720.59,1504.64 720.61,1506.17 720.63,1507.71 720.65,1509.25 720.67,1510.79 720.68,1512.32 720.7,1513.86 720.72,1515.4 720.74,1516.94 720.76,1518.47 720.78,1520.01 720.79,1521.55 720.81,1523.09 720.83,1524.62 720.85,1526.16 720.87,1527.7 720.88,1529.24 721.04,1529.24 721.06,1527.7 721.08,1526.16 721.1,1524.62 721.12,1523.09 721.14,1521.55 721.15,1520.01 721.17,1518.47 721.19,1516.94 721.21,1515.4 721.23,1513.86 721.25,1512.32 721.26,1510.79 721.28,1509.25 721.3,1507.71 721.32,1506.17 721.34,1504.64 721.35,1503.1 721.37,1501.56 721.39,1500.02 721.41,1498.49 721.43,1496.95 721.45,1495.41 721.46,1493.88 721.48,1492.34 721.5,1490.8 721.52,1489.26 721.54,1487.73 721.55,1486.19 721.57,1484.65 721.59,1483.11 722.23,1481.58 722.28,1480.04 722.32,1478.5 722.37,1476.96 722.42,1475.43 722.47,1473.89 722.52,1472.35 722.57,1470.81 722.62,1469.28 722.67,1467.74 722.73,1466.2 722.78,1464.66 722.84,1463.13 722.9,1461.59 722.96,1460.05 723.02,1458.51 723.08,1456.98 723.14,1455.44 723.2,1453.9 723.26,1452.36 723.32,1450.83 723.38,1449.29 723.44,1447.75 723.5,1446.21 723.57,1444.68 723.65,1443.14 723.73,1441.6 723.82,1440.06 723.93,1438.53 724.05,1436.99 724.22,1435.45 724.42,1433.91 724.65,1432.38 724.9,1430.84 725.16,1429.3 725.42,1427.76 725.71,1426.23 726.02,1424.69 726.37,1423.15 726.76,1421.61 727.2,1420.08 727.76,1418.54 728.43,1417 729.17,1415.46 729.93,1413.93 730.67,1412.39 731.37,1410.85 732.04,1409.31 732.7,1407.78 733.38,1406.24 734.1,1404.7 734.88,1403.16 735.73,1401.63 736.67,1400.09 737.66,1398.55 738.69,1397.01 739.73,1395.48 740.77,1393.94 741.83,1392.4 742.93,1390.86 744.04,1389.33 745.15,1387.79 746.24,1386.25 747.3,1384.71 748.41,1383.18 749.53,1381.64 750.6,1380.1 751.57,1378.56 752.37,1377.03 752.98,1375.49 753.49,1373.95 753.93,1372.41 754.34,1370.88 754.74,1369.34 755.17,1367.8 755.62,1366.26 756.05,1364.73 756.48,1363.19 756.92,1361.65 757.39,1360.11 757.88,1358.58 758.42,1357.04 758.99,1355.5 759.59,1353.96 760.18,1352.43 760.76,1350.89 761.32,1349.35 761.9,1347.81 762.49,1346.28 763.05,1344.74 763.54,1343.2 763.94,1341.66 764.28,1340.13 764.62,1338.59 764.93,1337.05 765.17,1335.51 765.33,1333.98 765.35,1332.44 764.96,1330.9 764.17,1329.36 763.14,1327.83 762.02,1326.29 760.96,1324.75 760.1,1323.21 759.27,1321.68 758.45,1320.14 757.64,1318.6 756.84,1317.06 756.08,1315.53 755.37,1313.99 754.72,1312.45 754.1,1310.91 753.45,1309.38 752.74,1307.84 751.91,1306.3 750.88,1304.76 749.64,1303.23 748.29,1301.69 746.94,1300.15 745.68,1298.61 744.59,1297.08 743.57,1295.54 742.57,1294 741.6,1292.46 740.67,1290.93 739.76,1289.39 738.88,1287.85 738.03,1286.31 737.22,1284.78 736.44,1283.24 735.69,1281.7 734.98,1280.16 734.31,1278.63 733.66,1277.09 733.03,1275.55 732.42,1274.01 731.84,1272.48 731.27,1270.94 730.72,1269.4 730.2,1267.86 729.68,1266.33 729.19,1264.79 728.71,1263.25 728.23,1261.71 727.75,1260.18 727.25,1258.64 726.74,1257.1 726.25,1255.56 725.78,1254.03 725.34,1252.49 724.94,1250.95 724.59,1249.41 724.3,1247.88 724.08,1246.34 723.94,1244.8 723.85,1243.26 723.78,1241.73 723.71,1240.19 723.66,1238.65 723.61,1237.11 723.55,1235.58 723.5,1234.04 723.46,1232.5 723.41,1230.96 723.37,1229.43 723.33,1227.89 723.29,1226.35 723.25,1224.81 723.21,1223.28 723.18,1221.74 721.59,1220.2 721.59,1218.66 721.58,1217.13 721.57,1215.59 721.57,1214.05 721.56,1212.51 721.56,1210.98 721.55,1209.44 721.55,1207.9 721.54,1206.36 721.54,1204.83 721.53,1203.29 721.52,1201.75 721.52,1200.21 721.51,1198.68 721.51,1197.14 721.5,1195.6 721.5,1194.06 721.49,1192.53 721.49,1190.99 721.48,1189.45 721.47,1187.91 721.47,1186.38 721.46,1184.84 721.46,1183.3 721.45,1181.76 721.45,1180.23 721.44,1178.69 721.43,1177.15 721.43,1175.61 721.42,1174.08 721.42,1172.54 721.41,1171 721.41,1169.46 721.4,1167.93 721.4,1166.39 721.39,1164.85 721.38,1163.31 721.38,1161.78 721.37,1160.24 721.37,1158.7 721.36,1157.16 721.36,1155.63 721.35,1154.09 721.35,1152.55 721.34,1151.01 721.33,1149.48 721.33,1147.94 721.32,1146.4 721.32,1144.86 721.31,1143.33 721.31,1141.79 721.3,1140.25 721.3,1138.71 721.29,1137.18 721.28,1135.64 721.28,1134.1 721.27,1132.56 721.27,1131.03 721.26,1129.49 721.26,1127.95 721.25,1126.41 721.25,1124.88 721.24,1123.34 721.23,1121.8 721.23,1120.26 721.22,1118.73 721.22,1117.19 721.21,1115.65 721.21,1114.11 721.2,1112.58 721.2,1111.04 721.19,1109.5 721.18,1107.96 721.18,1106.43 721.17,1104.89 721.17,1103.35 721.16,1101.81 721.16,1100.28 721.15,1098.74 721.14,1097.2 721.14,1095.66 721.13,1094.13 721.13,1092.59 721.12,1091.05 721.12,1089.51 721.11,1087.98 721.11,1086.44 721.1,1084.9 721.09,1083.36 721.09,1081.83 721.08,1080.29 721.08,1078.75 721.07,1077.21 721.07,1075.68 721.06,1074.14 721.06,1072.6 721.05,1071.06 721.04,1069.53" fill="#808080" fill-opacity="0.5"/>
<polygon points="946.74,1232.98 946.73,1233.94 946.72,1234.9 946.7,1235.86 946.69,1236.83 946.68,1237.79 946.67,1238.75 946.66,1239.71 946.65,1240.67 946.63,1241.63 946.62,1242.59 946.61,1243.56 946.6,1244.52 946.59,1245.48 946.58,1246.44 946.56,1247.4 946.55,1248.36 946.54,1249.33 946.53,1250.29 946.52,1251.25 946.51,1252.21 946.49,1253.17 946.48,1254.13 946.47,1255.09 946.46,1256.06 946.45,1257.02 946.44,1257.98 946.43,1258.94 946.41,1259.9 946.4,1260.86 946.39,1261.83 946.38,1262.79 946.37,1263.75 946.36,1264.71 946.34,1265.67 946.33,1266.63 946.32,1267.59 946.31,1268.56 946.3,1269.52 946.29,1270.48 946.27,1271.44 946.26,1272.4 946.25,1273.36 946.24,1274.33 946.23,1275.29 946.22,1276.25 946.2,1277.21 946.19,1278.17 944.84,1279.13 944.76,1280.09 944.67,1281.06 944.57,1282.02 944.46,1282.98 944.33,1283.94 944.19,1284.9 944.01,1285.86 943.81,1286.83 943.57,1287.79 943.32,1288.75 943.04,1289.71 942.74,1290.67 942.43,1291.63 942.1,1292.59 941.77,1293.56 941.42,1294.52 941.07,1295.48 940.72,1296.44 940.34,1297.4 939.93,1298.36 939.48,1299.33 939.02,1300.29 938.53,1301.25 938.03,1302.21 937.52,1303.17 936.99,1304.13 936.46,1305.1 935.93,1306.06 935.4,1307.02 934.88,1307.98 934.37,1308.94 933.85,1309.9 933.33,1310.86 932.8,1311.83 932.27,1312.79 931.73,1313.75 931.19,1314.71 930.64,1315.67 930.08,1316.63 929.51,1317.6 928.94,1318.56 928.36,1319.52 927.77,1320.48 927.19,1321.44 926.62,1322.4 926.07,1323.36 925.52,1324.33 924.95,1325.29 924.38,1326.25 923.77,1327.21 923.14,1328.17 922.46,1329.13 921.73,1330.1 920.94,1331.06 920.09,1332.02 919.13,1332.98 917.91,1333.94 916.49,1334.9 914.94,1335.86 913.35,1336.83 911.8,1337.79 910.36,1338.75 908.8,1339.71 907.06,1340.67 905.35,1341.63 903.86,1342.6 902.78,1343.56 902.32,1344.52 902.4,1345.48 902.64,1346.44 902.98,1347.4 903.37,1348.36 903.73,1349.33 904.02,1350.29 904.19,1351.25 904.31,1352.21 904.41,1353.17 904.49,1354.13 904.58,1355.1 904.69,1356.06 904.84,1357.02 905.05,1357.98 905.32,1358.94 905.64,1359.9 905.99,1360.86 906.38,1361.83 906.79,1362.79 907.21,1363.75 907.68,1364.71 908.2,1365.67 908.78,1366.63 909.43,1367.6 910.16,1368.56 911.02,1369.52 912.16,1370.48 913.54,1371.44 915.05,1372.4 916.6,1373.36 918.09,1374.33 919.44,1375.29 920.72,1376.25 921.98,1377.21 923.23,1378.17 924.46,1379.13 925.7,1380.1 926.94,1381.06 928.23,1382.02 929.55,1382.98 930.87,1383.94 932.15,1384.9 933.36,1385.86 934.44,1386.83 935.41,1387.79 936.3,1388.75 937.15,1389.71 937.94,1390.67 938.68,1391.63 939.38,1392.6 940.05,1393.56 940.72,1394.52 941.37,1395.48 941.99,1396.44 942.54,1397.4 943.01,1398.36 943.36,1399.33 943.64,1400.29 943.9,1401.25 944.13,1402.21 944.33,1403.17 944.48,1404.13 944.6,1405.1 944.68,1406.06 944.75,1407.02 944.82,1407.98 944.88,1408.94 944.94,1409.9 945,1410.86 945.05,1411.83 945.1,1412.79 945.14,1413.75 945.19,1414.71 945.22,1415.67 945.26,1416.63 945.29,1417.6 945.33,1418.56 945.36,1419.52 945.38,1420.48 945.41,1421.44 945.44,1422.4 945.46,1423.37 945.49,1424.33 945.51,1425.29 945.53,1426.25 945.56,1427.21 945.58,1428.17 945.6,1429.13 945.62,1430.1 945.65,1431.06 945.67,1432.02 945.69,1432.98 945.71,1433.94 945.73,1434.9 945.75,1435.87 945.76,1436.83 945.78,1437.79 945.8,1438.75 945.82,1439.71 945.84,1440.67 945.85,1441.63 945.87,1442.6 945.88,1443.56 945.9,1444.52 945.92,1445.48 945.93,1446.44 945.95,1447.4 945.96,1448.37 945.97,1449.33 945.99,1450.29 946,1451.25 946.01,1452.21 946.03,1453.17 946.04,1454.13 946.05,1455.1 946.07,1456.06 946.08,1457.02 946.09,1457.98 946.1,1458.94 946.11,1459.9 946.12,1460.87 946.14,1461.83 946.15,1462.79 946.16,1463.75 946.17,1464.71 946.18,1465.67 946.19,1466.63 946.2,1467.6 946.21,1468.56 946.22,1469.52 946.23,1470.48 946.24,1471.44 946.25,1472.4 946.26,1473.37 946.27,1474.33 946.28,1475.29 946.29,1476.25 946.3,1477.21 946.31,1478.17 946.32,1479.13 946.33,1480.1 946.34,1481.06 946.35,1482.02 946.36,1482.98 946.37,1483.94 946.38,1484.9 946.38,1485.87 946.39,1486.83 946.4,1487.79 946.41,1488.75 946.42,1489.71 946.43,1490.67 946.44,1491.63 946.44,1492.6 946.45,1493.56 946.46,1494.52 946.47,1495.48 946.48,1496.44 946.48,1497.4 946.49,1498.37 946.5,1499.33 946.51,1500.29 946.52,1501.25 946.53,1502.21 946.54,1503.17 946.55,1504.13 946.56,1505.1 946.57,1506.06 946.58,1507.02 946.59,1507.98 946.6,1508.94 946.62,1509.9 946.63,1510.87 946.64,1511.83 946.65,1512.79 946.66,1513.75 946.67,1514.71 946.68,1515.67 946.69,1516.63 946.71,1517.6 946.72,1518.56 946.73,1519.52 946.74,1520.48 946.9,1520.48 946.91,1519.52 946.92,1518.56 946.93,1517.6 946.94,1516.63 946.95,1515.67 946.97,1514.71 946.98,1513.75 946.99,1512.79 947,1511.83 947.01,1510.87 947.02,1509.9 947.03,1508.94 947.04,1507.98 947.05,1507.02 947.07,1506.06 947.08,1505.1 947.09,1504.13 947.1,1503.17 947.11,1502.21 947.12,1501.25 947.13,1500.29 947.14,1499.33 947.15,1498.37 947.15,1497.4 947.16,1496.44 947.17,1495.48 947.18,1494.52 947.18,1493.56 947.19,1492.6 947.2,1491.63 947.21,1490.67 947.22,1489.71 947.23,1488.75 947.24,1487.79 947.24,1486.83 947.25,1485.87 947.26,1484.9 947.27,1483.94 947.28,1482.98 947.29,1482.02 947.3,1481.06 947.31,1480.1 947.32,1479.13 947.33,1478.17 947.34,1477.21 947.35,1476.25 947.36,1475.29 947.37,1474.33 947.38,1473.37 947.39,1472.4 947.4,1471.44 947.41,1470.48 947.42,1469.52 947.43,1468.56 947.44,1467.6 947.45,1466.63 947.46,1465.67 947.47,1464.71 947.48,1463.75 947.49,1462.79 947.5,1461.83 947.51,1460.87 947.52,1459.9 947.54,1458.94 947.55,1457.98 947.56,1457.02 947.57,1456.06 947.58,1455.1 947.6,1454.13 947.61,1453.17 947.62,1452.21 947.64,1451.25 947.65,1450.29 947.66,1449.33 947.68,1448.37 947.69,1447.4 947.71,1446.44 947.72,1445.48 947.74,1444.52 947.75,1443.56 947.77,1442.6 947.79,1441.63 947.8,1440.67 947.82,1439.71 947.84,1438.75 947.85,1437.79 947.87,1436.83 947.89,1435.87 947.91,1434.9 947.93,1433.94 947.95,1432.98 947.97,1432.02 947.99,1431.06 948.01,1430.1 948.03,1429.13 948.06,1428.17 948.08,1427.21 948.1,1426.25 948.13,1425.29 948.15,1424.33 948.18,1423.37 948.2,1422.4 948.23,1421.44 948.25,1420.48 948.28,1419.52 948.31,1418.56 948.34,1417.6 948.38,1416.63 948.41,1415.67 948.45,1414.71 948.49,1413.75 948.54,1412.79 948.59,1411.83 948.64,1410.86 948.69,1409.9 948.75,1408.94 948.82,1407.98 948.89,1407.02 948.96,1406.06 949.04,1405.1 949.15,1404.13 949.31,1403.17 949.51,1402.21 949.74,1401.25 950,1400.29 950.28,1399.33 950.63,1398.36 951.09,1397.4 951.65,1396.44 952.26,1395.48 952.92,1394.52 953.59,1393.56 954.26,1392.6 954.96,1391.63 955.7,1390.67 956.49,1389.71 957.33,1388.75 958.23,1387.79 959.19,1386.83 960.28,1385.86 961.48,1384.9 962.77,1383.94 964.09,1382.98 965.41,1382.02 966.7,1381.06 967.94,1380.1 969.17,1379.13 970.41,1378.17 971.66,1377.21 972.92,1376.25 974.2,1375.29 975.55,1374.33 977.04,1373.36 978.59,1372.4 980.1,1371.44 981.47,1370.48 982.62,1369.52 983.48,1368.56 984.21,1367.6 984.86,1366.63 985.44,1365.67 985.96,1364.71 986.42,1363.75 986.85,1362.79 987.26,1361.83 987.65,1360.86 988,1359.9 988.32,1358.94 988.59,1357.98 988.79,1357.02 988.94,1356.06 989.05,1355.1 989.15,1354.13 989.23,1353.17 989.32,1352.21 989.44,1351.25 989.61,1350.29 989.9,1349.33 990.27,1348.36 990.66,1347.4 991,1346.44 991.24,1345.48 991.31,1344.52 990.85,1343.56 989.78,1342.6 988.29,1341.63 986.58,1340.67 984.84,1339.71 983.28,1338.75 981.84,1337.79 980.28,1336.83 978.69,1335.86 977.15,1334.9 975.73,1333.94 974.51,1332.98 973.55,1332.02 972.7,1331.06 971.91,1330.1 971.18,1329.13 970.5,1328.17 969.86,1327.21 969.26,1326.25 968.68,1325.29 968.12,1324.33 967.57,1323.36 967.01,1322.4 966.45,1321.44 965.87,1320.48 965.28,1319.52 964.7,1318.56 964.12,1317.6 963.56,1316.63 963,1315.67 962.45,1314.71 961.91,1313.75 961.37,1312.79 960.84,1311.83 960.31,1310.86 959.79,1309.9 959.27,1308.94 958.76,1307.98 958.23,1307.02 957.71,1306.06 957.17,1305.1 956.65,1304.13 956.12,1303.17 955.61,1302.21 955.1,1301.25 954.62,1300.29 954.15,1299.33 953.71,1298.36 953.3,1297.4 952.92,1296.44 952.57,1295.48 952.22,1294.52 951.87,1293.56 951.53,1292.59 951.21,1291.63 950.9,1290.67 950.6,1289.71 950.32,1288.75 950.06,1287.79 949.83,1286.83 949.63,1285.86 949.45,1284.9 949.3,1283.94 949.18,1282.98 949.07,1282.02 948.97,1281.06 948.88,1280.09 948.8,1279.13 947.44,1278.17 947.43,1277.21 947.42,1276.25 947.41,1275.29 947.4,1274.33 947.39,1273.36 947.37,1272.4 947.36,1271.44 947.35,1270.48 947.34,1269.52 947.33,1268.56 947.32,1267.59 947.31,1266.63 947.29,1265.67 947.28,1264.71 947.27,1263.75 947.26,1262.79 947.25,1261.83 947.24,1260.86 947.22,1259.9 947.21,1258.94 947.2,1257.98 947.19,1257.02 947.18,1256.06 947.17,1255.09 947.15,1254.13 947.14,1253.17 947.13,1252.21 947.12,1251.25 947.11,1250.29 947.1,1249.33 947.08,1248.36 947.07,1247.4 947.06,1246.44 947.05,1245.48 947.04,1244.52 947.03,1243.56 947.01,1242.59 947,1241.63 946.99,1240.67 946.98,1239.71 946.97,1238.75 946.96,1237.79 946.95,1236.83 946.93,1235.86 946.92,1234.9 946.91,1233.94 946.9,1232.98" fill="#808080" fill-opacity="0.5"/>
<polygon points="1172.59,1254.87 1172.58,1255.68 1172.57,1256.5 1172.55,1257.31 1172.54,1258.12 1172.53,1258.94 1172.51,1259.75 1172.5,1260.56 1172.49,1261.38 1172.48,1262.19 1172.46,1263 1172.45,1263.82 1172.44,1264.63 1172.42,1265.44 1172.41,1266.25 1172.4,1267.07 1172.38,1267.88 1172.37,1268.69 1172.36,1269.51 1172.35,1270.32 1172.33,1271.13 1172.32,1271.95 1172.31,1272.76 1172.29,1273.57 1172.28,1274.39 1172.27,1275.2 1172.25,1276.01 1172.24,1276.83 1172.23,1277.64 1172.21,1278.45 1172.2,1279.27 1172.19,1280.08 1172.18,1280.89 1172.16,1281.7 1172.15,1282.52 1172.14,1283.33 1172.12,1284.14 1172.11,1284.96 1172.1,1285.77 1172.08,1286.58 1172.07,1287.4 1172.06,1288.21 1172.05,1289.02 1171.37,1289.84 1171.32,1290.65 1171.27,1291.46 1171.21,1292.28 1171.16,1293.09 1171.1,1293.9 1171.05,1294.72 1170.99,1295.53 1170.93,1296.34 1170.88,1297.15 1170.82,1297.97 1170.76,1298.78 1170.71,1299.59 1170.66,1300.41 1170.6,1301.22 1170.54,1302.03 1170.47,1302.85 1170.4,1303.66 1170.32,1304.47 1170.22,1305.29 1170.12,1306.1 1170,1306.91 1169.84,1307.73 1169.54,1308.54 1169.15,1309.35 1168.67,1310.17 1168.14,1310.98 1167.58,1311.79 1167.02,1312.6 1166.49,1313.42 1166,1314.23 1165.6,1315.04 1165.29,1315.86 1165.1,1316.67 1164.96,1317.48 1164.84,1318.3 1164.74,1319.11 1164.65,1319.92 1164.57,1320.74 1164.49,1321.55 1164.41,1322.36 1164.31,1323.18 1164.21,1323.99 1164.08,1324.8 1163.92,1325.62 1163.72,1326.43 1163.49,1327.24 1163.22,1328.05 1162.91,1328.87 1162.56,1329.68 1162.18,1330.49 1161.74,1331.31 1161.22,1332.12 1160.62,1332.93 1159.92,1333.75 1159.11,1334.56 1157.97,1335.37 1156.49,1336.19 1154.79,1337 1152.97,1337.81 1151.14,1338.63 1149.34,1339.44 1147.37,1340.25 1145.3,1341.07 1143.24,1341.88 1141.26,1342.69 1139.47,1343.51 1137.75,1344.32 1136.03,1345.13 1134.4,1345.94 1132.97,1346.76 1131.81,1347.57 1130.99,1348.38 1130.23,1349.2 1129.55,1350.01 1128.98,1350.82 1128.57,1351.64 1128.38,1352.45 1128.4,1353.26 1128.52,1354.08 1128.71,1354.89 1128.98,1355.7 1129.29,1356.52 1129.65,1357.33 1130.31,1358.14 1131.33,1358.96 1132.58,1359.77 1133.96,1360.58 1135.37,1361.39 1136.79,1362.21 1138.51,1363.02 1140.38,1363.83 1142.21,1364.65 1143.83,1365.46 1145.03,1366.27 1145.91,1367.09 1146.63,1367.9 1147.27,1368.71 1147.88,1369.53 1148.52,1370.34 1149.24,1371.15 1149.99,1371.97 1150.75,1372.78 1151.53,1373.59 1152.32,1374.41 1153.12,1375.22 1153.95,1376.03 1154.82,1376.84 1155.7,1377.66 1156.57,1378.47 1157.39,1379.28 1158.15,1380.1 1158.87,1380.91 1159.56,1381.72 1160.22,1382.54 1160.86,1383.35 1161.46,1384.16 1162.03,1384.98 1162.57,1385.79 1163.09,1386.6 1163.6,1387.42 1164.09,1388.23 1164.6,1389.04 1165.09,1389.86 1165.58,1390.67 1166.06,1391.48 1166.54,1392.29 1167.03,1393.11 1167.54,1393.92 1168.13,1394.73 1168.74,1395.55 1169.31,1396.36 1169.75,1397.17 1169.99,1397.99 1170.13,1398.8 1170.26,1399.61 1170.37,1400.43 1170.48,1401.24 1170.57,1402.05 1170.65,1402.87 1170.73,1403.68 1170.8,1404.49 1170.86,1405.31 1170.92,1406.12 1170.97,1406.93 1171.01,1407.75 1171.06,1408.56 1171.1,1409.37 1171.13,1410.18 1171.17,1411 1171.21,1411.81 1171.24,1412.62 1171.28,1413.44 1171.31,1414.25 1171.34,1415.06 1171.38,1415.88 1171.41,1416.69 1171.44,1417.5 1171.46,1418.32 1171.49,1419.13 1171.52,1419.94 1171.55,1420.76 1171.57,1421.57 1171.6,1422.38 1171.62,1423.2 1171.64,1424.01 1171.67,1424.82 1171.69,1425.63 1171.71,1426.45 1171.73,1427.26 1171.75,1428.07 1171.77,1428.89 1171.79,1429.7 1171.8,1430.51 1171.82,1431.33 1171.84,1432.14 1171.85,1432.95 1171.87,1433.77 1171.88,1434.58 1171.9,1435.39 1171.91,1436.21 1171.93,1437.02 1171.94,1437.83 1171.95,1438.65 1171.96,1439.46 1171.97,1440.27 1171.99,1441.08 1172,1441.9 1172.01,1442.71 1172.02,1443.52 1172.03,1444.34 1172.04,1445.15 1172.05,1445.96 1172.06,1446.78 1172.07,1447.59 1172.08,1448.4 1172.1,1449.22 1172.11,1450.03 1172.12,1450.84 1172.13,1451.66 1172.14,1452.47 1172.15,1453.28 1172.16,1454.1 1172.17,1454.91 1172.18,1455.72 1172.19,1456.53 1172.2,1457.35 1172.21,1458.16 1172.22,1458.97 1172.23,1459.79 1172.23,1460.6 1172.24,1461.41 1172.25,1462.23 1172.26,1463.04 1172.27,1463.85 1172.28,1464.67 1172.29,1465.48 1172.3,1466.29 1172.3,1467.11 1172.31,1467.92 1172.32,1468.73 1172.33,1469.55 1172.34,1470.36 1172.34,1471.17 1172.35,1471.98 1172.36,1472.8 1172.36,1473.61 1172.37,1474.42 1172.38,1475.24 1172.38,1476.05 1172.39,1476.86 1172.4,1477.68 1172.4,1478.49 1172.41,1479.3 1172.41,1480.12 1172.42,1480.93 1172.42,1481.74 1172.43,1482.56 1172.43,1483.37 1172.44,1484.18 1172.44,1485 1172.45,1485.81 1172.45,1486.62 1172.46,1487.44 1172.47,1488.25 1172.48,1489.06 1172.49,1489.87 1172.5,1490.69 1172.51,1491.5 1172.52,1492.31 1172.53,1493.13 1172.54,1493.94 1172.55,1494.75 1172.56,1495.57 1172.57,1496.38 1172.58,1497.19 1172.59,1498.01 1172.75,1498.01 1172.76,1497.19 1172.77,1496.38 1172.78,1495.57 1172.79,1494.75 1172.8,1493.94 1172.81,1493.13 1172.82,1492.31 1172.83,1491.5 1172.84,1490.69 1172.85,1489.87 1172.86,1489.06 1172.87,1488.25 1172.88,1487.44 1172.89,1486.62 1172.9,1485.81 1172.91,1485 1172.91,1484.18 1172.91,1483.37 1172.92,1482.56 1172.92,1481.74 1172.93,1480.93 1172.93,1480.12 1172.94,1479.3 1172.94,1478.49 1172.95,1477.68 1172.96,1476.86 1172.96,1476.05 1172.97,1475.24 1172.98,1474.42 1172.98,1473.61 1172.99,1472.8 1173,1471.98 1173,1471.17 1173.01,1470.36 1173.02,1469.55 1173.03,1468.73 1173.03,1467.92 1173.04,1467.11 1173.05,1466.29 1173.06,1465.48 1173.07,1464.67 1173.08,1463.85 1173.08,1463.04 1173.09,1462.23 1173.1,1461.41 1173.11,1460.6 1173.12,1459.79 1173.13,1458.97 1173.14,1458.16 1173.15,1457.35 1173.16,1456.53 1173.17,1455.72 1173.18,1454.91 1173.19,1454.1 1173.2,1453.28 1173.21,1452.47 1173.22,1451.66 1173.23,1450.84 1173.24,1450.03 1173.25,1449.22 1173.26,1448.4 1173.27,1447.59 1173.28,1446.78 1173.29,1445.96 1173.31,1445.15 1173.32,1444.34 1173.33,1443.52 1173.34,1442.71 1173.35,1441.9 1173.36,1441.08 1173.37,1440.27 1173.38,1439.46 1173.4,1438.65 1173.41,1437.83 1173.42,1437.02 1173.43,1436.21 1173.45,1435.39 1173.46,1434.58 1173.48,1433.77 1173.49,1432.95 1173.51,1432.14 1173.53,1431.33 1173.54,1430.51 1173.56,1429.7 1173.58,1428.89 1173.6,1428.07 1173.62,1427.26 1173.64,1426.45 1173.66,1425.63 1173.68,1424.82 1173.7,1424.01 1173.73,1423.2 1173.75,1422.38 1173.77,1421.57 1173.8,1420.76 1173.83,1419.94 1173.85,1419.13 1173.88,1418.32 1173.91,1417.5 1173.94,1416.69 1173.97,1415.88 1174,1415.06 1174.03,1414.25 1174.07,1413.44 1174.1,1412.62 1174.14,1411.81 1174.17,1411 1174.21,1410.18 1174.25,1409.37 1174.29,1408.56 1174.33,1407.75 1174.38,1406.93 1174.43,1406.12 1174.48,1405.31 1174.55,1404.49 1174.61,1403.68 1174.69,1402.87 1174.78,1402.05 1174.87,1401.24 1174.97,1400.43 1175.09,1399.61 1175.22,1398.8 1175.36,1397.99 1175.6,1397.17 1176.04,1396.36 1176.6,1395.55 1177.22,1394.73 1177.81,1393.92 1178.32,1393.11 1178.8,1392.29 1179.29,1391.48 1179.77,1390.67 1180.25,1389.86 1180.75,1389.04 1181.25,1388.23 1181.75,1387.42 1182.25,1386.6 1182.77,1385.79 1183.31,1384.98 1183.89,1384.16 1184.49,1383.35 1185.12,1382.54 1185.79,1381.72 1186.48,1380.91 1187.2,1380.1 1187.96,1379.28 1188.78,1378.47 1189.64,1377.66 1190.52,1376.84 1191.39,1376.03 1192.22,1375.22 1193.03,1374.41 1193.81,1373.59 1194.59,1372.78 1195.35,1371.97 1196.1,1371.15 1196.83,1370.34 1197.47,1369.53 1198.08,1368.71 1198.71,1367.9 1199.44,1367.09 1200.31,1366.27 1201.52,1365.46 1203.13,1364.65 1204.97,1363.83 1206.83,1363.02 1208.55,1362.21 1209.98,1361.39 1211.39,1360.58 1212.77,1359.77 1214.02,1358.96 1215.03,1358.14 1215.7,1357.33 1216.06,1356.52 1216.37,1355.7 1216.63,1354.89 1216.83,1354.08 1216.94,1353.26 1216.96,1352.45 1216.77,1351.64 1216.37,1350.82 1215.8,1350.01 1215.11,1349.2 1214.36,1348.38 1213.53,1347.57 1212.38,1346.76 1210.94,1345.94 1209.32,1345.13 1207.6,1344.32 1205.88,1343.51 1204.08,1342.69 1202.11,1341.88 1200.04,1341.07 1197.98,1340.25 1196.01,1339.44 1194.21,1338.63 1192.38,1337.81 1190.55,1337 1188.85,1336.19 1187.38,1335.37 1186.24,1334.56 1185.43,1333.75 1184.73,1332.93 1184.12,1332.12 1183.61,1331.31 1183.16,1330.49 1182.78,1329.68 1182.44,1328.87 1182.13,1328.05 1181.86,1327.24 1181.62,1326.43 1181.43,1325.62 1181.27,1324.8 1181.14,1323.99 1181.03,1323.18 1180.94,1322.36 1180.86,1321.55 1180.78,1320.74 1180.7,1319.92 1180.61,1319.11 1180.51,1318.3 1180.39,1317.48 1180.25,1316.67 1180.06,1315.86 1179.75,1315.04 1179.34,1314.23 1178.86,1313.42 1178.32,1312.6 1177.76,1311.79 1177.21,1310.98 1176.68,1310.17 1176.2,1309.35 1175.8,1308.54 1175.51,1307.73 1175.34,1306.91 1175.23,1306.1 1175.12,1305.29 1175.03,1304.47 1174.95,1303.66 1174.88,1302.85 1174.81,1302.03 1174.75,1301.22 1174.69,1300.41 1174.64,1299.59 1174.58,1298.78 1174.53,1297.97 1174.47,1297.15 1174.41,1296.34 1174.35,1295.53 1174.3,1294.72 1174.24,1293.9 1174.19,1293.09 1174.13,1292.28 1174.08,1291.46 1174.03,1290.65 1173.98,1289.84 1173.3,1289.02 1173.29,1288.21 1173.27,1287.4 1173.26,1286.58 1173.25,1285.77 1173.24,1284.96 1173.22,1284.14 1173.21,1283.33 1173.2,1282.52 1173.18,1281.7 1173.17,1280.89 1173.16,1280.08 1173.14,1279.27 1173.13,1278.45 1173.12,1277.64 1173.11,1276.83 1173.09,1276.01 1173.08,1275.2 1173.07,1274.39 1173.05,1273.57 1173.04,1272.76 1173.03,1271.95 1173.01,1271.13 1173,1270.32 1172.99,1269.51 1172.97,1268.69 1172.96,1267.88 1172.95,1267.07 1172.94,1266.25 1172.92,1265.44 1172.91,1264.63 1172.9,1263.82 1172.88,1263 1172.87,1262.19 1172.86,1261.38 1172.84,1260.56 1172.83,1259.75 1172.82,1258.94 1172.81,1258.12 1172.79,1257.31 1172.78,1256.5 1172.77,1255.68 1172.75,1254.87" fill="#808080" fill-opacity="0.5"/>
<g stroke="#000" stroke-width="4.5" stroke-linecap="square">
<line x1="269.26" y1="1156.94" x2="269.26" y2="1635.34"/>
<line x1="246.66" y1="1156.94" x2="291.86" y2="1156.94"/>
<line x1="246.66" y1="1635.34" x2="291.86" y2="1635.34"/>
</g>
<g stroke="#000" stroke-width="4.5" stroke-linecap="square">
<line x1="495.11" y1="1099.44" x2="495.11" y2="1534.49"/>
<line x1="472.51" y1="1099.44" x2="517.71" y2="1099.44"/>
<line x1="472.51" y1="1534.49" x2="517.71" y2="1534.49"/>
</g>
<g stroke="#000" stroke-width="4.5" stroke-linecap="square">
<line x1="720.96" y1="1221.16" x2="720.96" y2="1482.83"/>
<line x1="698.36" y1="1221.16" x2="743.56" y2="1221.16"/>
<line x1="698.36" y1="1482.83" x2="743.56" y2="1482.83"/>
</g>
<g stroke="#000" stroke-width="4.5" stroke-linecap="square">
<line x1="946.82" y1="1278.51" x2="946.82" y2="1473.05"/>
<line x1="924.22" y1="1278.51" x2="969.42" y2="1278.51"/>
<line x1="924.22" y1="1473.05" x2="969.42" y2="1473.05"/>
</g>
<g stroke="#000" stroke-width="4.5" stroke-linecap="square">
<line x1="1172.67" y1="1289.17" x2="1172.67" y2="1452.62"/>
<line x1="1150.07" y1="1289.17" x2="1195.27" y2="1289.17"/>
<line x1="1150.07" y1="1452.62" x2="1195.27" y2="1452.62"/>
</g>
<line x1="201.5" y1="1352.65" x2="1285.6" y2="1352.65" stroke="#000" stroke-width="4.5" stroke-dasharray="16.65 7.2"/>
<text x="291.84" y="1708.3" font-size="45" text-anchor="middle" font-weight="bold">CORE</text>
<text x="608.04" y="1708.3" font-size="45" text-anchor="middle" font-weight="bold">INTERMEDIATE</text>
<text x="1059.75" y="1708.3" font-size="45" text-anchor="middle" font-weight="bold">OUTER</text>
</g>
<rect x="201.5" y="987.8" width="1084.1" height="729.7" fill="none" stroke="#000" stroke-width="2.4" stroke-linejoin="miter"/>
<path d="M382.18 1717.5V1728M608.04 1717.5V1728M833.89 1717.5V1728M1059.75 1717.5V1728M1285.6 1717.5V1728M201.5 1060.77H191M201.5 1206.71H191M201.5 1352.65H191M201.5 1498.59H191M201.5 1644.53H191" stroke="#000" stroke-width="2.4" fill="none"/>
<text x="382.18" y="1773" font-size="45" text-anchor="middle">0.5</text>
<text x="608.04" y="1773" font-size="45" text-anchor="middle">1.0</text>
<text x="833.89" y="1773" font-size="45" text-anchor="middle">1.5</text>
<text x="1059.75" y="1773" font-size="45" text-anchor="middle">2.0</text>
<text x="1285.6" y="1773" font-size="45" text-anchor="middle">2.5</text>
<text x="180.5" y="1077.77" font-size="45" text-anchor="end">−200</text>
<text x="180.5" y="1223.71" font-size="45" text-anchor="end">−100</text>
<text x="180.5" y="1369.65" font-size="45" text-anchor="end">0</text>
<text x="180.5" y="1515.59" font-size="45" text-anchor="end">100</text>
<text x="180.5" y="1661.53" font-size="45" text-anchor="end">200</text>
<text x="743.55" y="1828" font-size="45" text-anchor="middle">Oxygen minimum [ml/l]</text>
<text x="36.2" y="1353.55" font-size="45" text-anchor="middle" transform="rotate(-90 36.2 1353.55)">Migration depth anomaly [m]</text>
<text x="743.15" y="901.9" font-size="60" text-anchor="middle" font-weight="bold">Total Change</text>
<text x="743.15" y="969.1" font-size="60" text-anchor="middle" font-weight="bold">(full range)</text>
<text x="237.8" y="1062.8" font-size="60" text-anchor="start" font-weight="bold">c</text>
<g clip-path="url(#clip_d)">
<rect x="1380.4" y="1666.5" width="180.83" height="51" fill="#d0e6f5"/>
<rect x="1561.23" y="1666.5" width="226.04" height="51" fill="#e2b594"/>
<rect x="1787.28" y="1666.5" width="226.04" height="51" fill="#c08080"/>
<rect x="2013.32" y="1666.5" width="226.04" height="51" fill="#e5b7c7"/>
<rect x="2239.36" y="1666.5" width="226.04" height="51" fill="#bac3cc"/>
<polygon points="1402.92,1177.52 1402.89,1178.99 1402.86,1180.45 1402.83,1181.91 1402.8,1183.38 1402.79,1184.84 1402.79,1186.31 1402.78,1187.77 1402.77,1189.24 1402.77,1190.7 1402.76,1192.16 1402.75,1193.63 1402.74,1195.09 1402.73,1196.56 1402.72,1198.02 1402.7,1199.49 1402.69,1200.95 1402.67,1202.41 1402.66,1203.88 1402.64,1205.34 1402.63,1206.81 1402.61,1208.27 1402.59,1209.74 1402.57,1211.2 1402.55,1212.66 1402.53,1214.13 1402.51,1215.59 1402.49,1217.06 1402.46,1218.52 1402.44,1219.99 1402.42,1221.45 1402.39,1222.91 1402.37,1224.38 1402.34,1225.84 1402.31,1227.31 1402.29,1228.77 1402.26,1230.24 1402.23,1231.7 1402.2,1233.16 1402.17,1234.63 1402.14,1236.09 1402.11,1237.56 1402.07,1239.02 1402.04,1240.49 1402.01,1241.95 1401.98,1243.41 1401.94,1244.88 1401.91,1246.34 1401.87,1247.81 1401.83,1249.27 1401.8,1250.74 1401.75,1252.2 1401.69,1253.66 1401.63,1255.13 1401.55,1256.59 1401.46,1258.06 1401.37,1259.52 1401.27,1260.99 1401.17,1262.45 1401.07,1263.91 1400.97,1265.38 1400.86,1266.84 1400.76,1268.31 1400.67,1269.77 1400.57,1271.24 1400.49,1272.7 1400.41,1274.16 1400.34,1275.63 1400.27,1277.09 1400.21,1278.56 1400.14,1280.02 1400.07,1281.49 1400,1282.95 1399.91,1284.41 1399.81,1285.88 1399.7,1287.34 1399.57,1288.81 1399.37,1290.27 1399.1,1291.74 1398.79,1293.2 1398.45,1294.66 1398.09,1296.13 1397.73,1297.59 1397.34,1299.06 1396.91,1300.52 1396.45,1301.99 1396,1303.45 1395.54,1304.91 1395.1,1306.38 1394.65,1307.84 1394.21,1309.31 1393.76,1310.77 1393.3,1312.24 1392.84,1313.7 1392.39,1315.16 1391.93,1316.63 1391.47,1318.09 1391,1319.56 1390.53,1321.02 1390.04,1322.49 1389.55,1323.95 1389.05,1325.41 1388.53,1326.88 1388.01,1328.34 1387.47,1329.81 1386.9,1331.27 1386.27,1332.74 1385.59,1334.2 1384.92,1335.66 1384.28,1337.13 1383.71,1338.59 1383.25,1340.06 1382.85,1341.52 1382.49,1342.99 1382.15,1344.45 1381.82,1345.91 1381.48,1347.38 1381.08,1348.84 1380.63,1350.31 1380.29,1351.77 1380.22,1353.24 1380.52,1354.7 1380.96,1356.16 1381.46,1357.63 1382.09,1359.09 1382.8,1360.56 1383.55,1362.02 1384.28,1363.49 1384.95,1364.95 1385.59,1366.41 1386.23,1367.88 1386.86,1369.34 1387.48,1370.81 1388.08,1372.27 1388.66,1373.74 1389.24,1375.2 1389.82,1376.66 1390.37,1378.13 1390.9,1379.59 1391.4,1381.06 1391.86,1382.52 1392.29,1383.99 1392.7,1385.45 1393.09,1386.91 1393.46,1388.38 1393.83,1389.84 1394.18,1391.31 1394.52,1392.77 1394.85,1394.24 1395.18,1395.7 1395.49,1397.16 1395.81,1398.63 1396.12,1400.09 1396.44,1401.56 1396.75,1403.02 1397.04,1404.49 1397.33,1405.95 1397.59,1407.41 1397.83,1408.88 1398.07,1410.34 1398.3,1411.81 1398.51,1413.27 1398.7,1414.74 1398.88,1416.2 1399.05,1417.66 1399.22,1419.13 1399.38,1420.59 1399.54,1422.06 1399.68,1423.52 1399.83,1424.99 1399.96,1426.45 1400.09,1427.91 1400.22,1429.38 1400.34,1430.84 1400.46,1432.31 1400.57,1433.77 1400.68,1435.24 1400.79,1436.7 1400.9,1438.16 1401,1439.63 1401.1,1441.09 1401.2,1442.56 1401.28,1444.02 1401.36,1445.49 1401.43,1446.95 1401.49,1448.41 1401.53,1449.88 1401.58,1451.34 1401.62,1452.81 1401.66,1454.27 1401.7,1455.74 1401.74,1457.2 1401.78,1458.66 1401.82,1460.13 1401.85,1461.59 1401.89,1463.06 1401.92,1464.52 1401.95,1465.99 1401.98,1467.45 1402.01,1468.91 1402.04,1470.38 1402.07,1471.84 1402.1,1473.31 1402.12,1474.77 1402.15,1476.24 1402.17,1477.7 1402.2,1479.16 1402.22,1480.63 1402.24,1482.09 1402.26,1483.56 1402.28,1485.02 1402.29,1486.49 1402.31,1487.95 1402.33,1489.41 1402.34,1490.88 1402.36,1492.34 1402.37,1493.81 1402.38,1495.27 1402.39,1496.74 1402.4,1498.2 1402.41,1499.66 1402.42,1501.13 1402.43,1502.59 1402.44,1504.06 1402.45,1505.52 1402.46,1506.99 1402.46,1508.45 1402.47,1509.91 1402.48,1511.38 1402.49,1512.84 1402.5,1514.31 1402.51,1515.77 1402.52,1517.24 1402.52,1518.7 1402.53,1520.16 1402.54,1521.63 1402.55,1523.09 1402.55,1524.56 1402.56,1526.02 1402.57,1527.49 1402.58,1528.95 1402.58,1530.41 1402.59,1531.88 1402.6,1533.34 1402.61,1534.81 1402.61,1536.27 1402.62,1537.74 1402.63,1539.2 1402.63,1540.66 1402.64,1542.13 1402.64,1543.59 1402.65,1545.06 1402.66,1546.52 1402.66,1547.99 1402.67,1549.45 1402.67,1550.91 1402.68,1552.38 1402.69,1553.84 1402.69,1555.31 1402.7,1556.77 1402.7,1558.24 1402.71,1559.7 1402.71,1561.16 1402.72,1562.63 1402.72,1564.09 1402.73,1565.56 1402.73,1567.02 1402.73,1568.49 1402.74,1569.95 1402.74,1571.41 1402.75,1572.88 1402.75,1574.34 1402.75,1575.81 1402.76,1577.27 1402.76,1578.73 1402.76,1580.2 1402.77,1581.66 1402.77,1583.13 1402.77,1584.59 1402.78,1586.06 1402.78,1587.52 1402.78,1588.98 1402.78,1590.45 1402.79,1591.91 1402.79,1593.38 1402.79,1594.84 1402.79,1596.31 1402.79,1597.77 1402.8,1599.23 1402.8,1600.7 1402.8,1602.16 1402.8,1603.63 1402.8,1605.09 1402.8,1606.56 1402.8,1608.02 1402.8,1609.48 1402.8,1610.95 1402.8,1612.41 1402.8,1613.88 1402.8,1615.34 1403.2,1615.34 1403.2,1613.88 1403.2,1612.41 1403.2,1610.95 1403.21,1609.48 1403.21,1608.02 1403.21,1606.56 1403.21,1605.09 1403.21,1603.63 1403.21,1602.16 1403.21,1600.7 1403.21,1599.23 1403.21,1597.77 1403.22,1596.31 1403.22,1594.84 1403.22,1593.38 1403.22,1591.91 1403.22,1590.45 1403.23,1588.98 1403.23,1587.52 1403.23,1586.06 1403.23,1584.59 1403.24,1583.13 1403.24,1581.66 1403.24,1580.2 1403.25,1578.73 1403.25,1577.27 1403.25,1575.81 1403.26,1574.34 1403.26,1572.88 1403.27,1571.41 1403.27,1569.95 1403.27,1568.49 1403.28,1567.02 1403.28,1565.56 1403.29,1564.09 1403.29,1562.63 1403.3,1561.16 1403.3,1559.7 1403.31,1558.24 1403.31,1556.77 1403.32,1555.31 1403.32,1553.84 1403.33,1552.38 1403.33,1550.91 1403.34,1549.45 1403.35,1547.99 1403.35,1546.52 1403.36,1545.06 1403.36,1543.59 1403.37,1542.13 1403.38,1540.66 1403.38,1539.2 1403.39,1537.74 1403.4,1536.27 1403.4,1534.81 1403.41,1533.34 1403.42,1531.88 1403.42,1530.41 1403.43,1528.95 1403.44,1527.49 1403.45,1526.02 1403.45,1524.56 1403.46,1523.09 1403.47,1521.63 1403.48,1520.16 1403.49,1518.7 1403.49,1517.24 1403.5,1515.77 1403.51,1514.31 1403.52,1512.84 1403.53,1511.38 1403.54,1509.91 1403.54,1508.45 1403.55,1506.99 1403.56,1505.52 1403.57,1504.06 1403.58,1502.59 1403.59,1501.13 1403.6,1499.66 1403.61,1498.2 1403.62,1496.74 1403.63,1495.27 1403.64,1493.81 1403.65,1492.34 1403.67,1490.88 1403.68,1489.41 1403.7,1487.95 1403.71,1486.49 1403.73,1485.02 1403.75,1483.56 1403.77,1482.09 1403.79,1480.63 1403.81,1479.16 1403.84,1477.7 1403.86,1476.24 1403.88,1474.77 1403.91,1473.31 1403.94,1471.84 1403.96,1470.38 1403.99,1468.91 1404.02,1467.45 1404.06,1465.99 1404.09,1464.52 1404.12,1463.06 1404.16,1461.59 1404.19,1460.13 1404.23,1458.66 1404.27,1457.2 1404.31,1455.74 1404.35,1454.27 1404.39,1452.81 1404.43,1451.34 1404.48,1449.88 1404.52,1448.41 1404.58,1446.95 1404.65,1445.49 1404.72,1444.02 1404.81,1442.56 1404.9,1441.09 1405,1439.63 1405.11,1438.16 1405.22,1436.7 1405.33,1435.24 1405.44,1433.77 1405.55,1432.31 1405.67,1430.84 1405.79,1429.38 1405.91,1427.91 1406.05,1426.45 1406.18,1424.99 1406.32,1423.52 1406.47,1422.06 1406.63,1420.59 1406.79,1419.13 1406.95,1417.66 1407.13,1416.2 1407.31,1414.74 1407.5,1413.27 1407.71,1411.81 1407.94,1410.34 1408.17,1408.88 1408.42,1407.41 1408.68,1405.95 1408.96,1404.49 1409.26,1403.02 1409.57,1401.56 1409.89,1400.09 1410.2,1398.63 1410.52,1397.16 1410.83,1395.7 1411.15,1394.24 1411.48,1392.77 1411.83,1391.31 1412.18,1389.84 1412.55,1388.38 1412.92,1386.91 1413.31,1385.45 1413.72,1383.99 1414.15,1382.52 1414.61,1381.06 1415.11,1379.59 1415.64,1378.13 1416.19,1376.66 1416.76,1375.2 1417.34,1373.74 1417.93,1372.27 1418.53,1370.81 1419.15,1369.34 1419.78,1367.88 1420.41,1366.41 1421.06,1364.95 1421.73,1363.49 1422.46,1362.02 1423.21,1360.56 1423.92,1359.09 1424.55,1357.63 1425.04,1356.16 1425.49,1354.7 1425.78,1353.24 1425.72,1351.77 1425.38,1350.31 1424.93,1348.84 1424.53,1347.38 1424.19,1345.91 1423.86,1344.45 1423.52,1342.99 1423.16,1341.52 1422.76,1340.06 1422.29,1338.59 1421.73,1337.13 1421.09,1335.66 1420.41,1334.2 1419.74,1332.74 1419.11,1331.27 1418.54,1329.81 1418,1328.34 1417.47,1326.88 1416.96,1325.41 1416.46,1323.95 1415.97,1322.49 1415.48,1321.02 1415.01,1319.56 1414.54,1318.09 1414.08,1316.63 1413.62,1315.16 1413.16,1313.7 1412.71,1312.24 1412.25,1310.77 1411.8,1309.31 1411.35,1307.84 1410.91,1306.38 1410.47,1304.91 1410.01,1303.45 1409.55,1301.99 1409.1,1300.52 1408.67,1299.06 1408.28,1297.59 1407.92,1296.13 1407.56,1294.66 1407.22,1293.2 1406.9,1291.74 1406.64,1290.27 1406.44,1288.81 1406.31,1287.34 1406.19,1285.88 1406.1,1284.41 1406.01,1282.95 1405.93,1281.49 1405.87,1280.02 1405.8,1278.56 1405.74,1277.09 1405.67,1275.63 1405.6,1274.16 1405.52,1272.7 1405.44,1271.24 1405.34,1269.77 1405.25,1268.31 1405.14,1266.84 1405.04,1265.38 1404.94,1263.91 1404.84,1262.45 1404.73,1260.99 1404.64,1259.52 1404.55,1258.06 1404.46,1256.59 1404.38,1255.13 1404.31,1253.66 1404.26,1252.2 1404.21,1250.74 1404.17,1249.27 1404.14,1247.81 1404.1,1246.34 1404.07,1244.88 1404.03,1243.41 1404,1241.95 1403.97,1240.49 1403.93,1239.02 1403.9,1237.56 1403.87,1236.09 1403.84,1234.63 1403.81,1233.16 1403.78,1231.7 1403.75,1230.24 1403.72,1228.77 1403.69,1227.31 1403.67,1225.84 1403.64,1224.38 1403.62,1222.91 1403.59,1221.45 1403.57,1219.99 1403.54,1218.52 1403.52,1217.06 1403.5,1215.59 1403.48,1214.13 1403.46,1212.66 1403.44,1211.2 1403.42,1209.74 1403.4,1208.27 1403.38,1206.81 1403.36,1205.34 1403.35,1203.88 1403.33,1202.41 1403.32,1200.95 1403.31,1199.49 1403.29,1198.02 1403.28,1196.56 1403.27,1195.09 1403.26,1193.63 1403.25,1192.16 1403.24,1190.7 1403.23,1189.24 1403.23,1187.77 1403.22,1186.31 1403.22,1184.84 1403.21,1183.38 1403.18,1181.91 1403.15,1180.45 1403.12,1178.99 1403.08,1177.52" fill="#5291f8" fill-opacity="0.22"/>
<polygon points="1448.01,1294.27 1448.01,1294.53 1448,1294.78 1447.99,1295.04 1447.99,1295.29 1447.98,1295.54 1447.97,1295.8 1447.96,1296.05 1447.96,1296.3 1447.95,1296.56 1447.94,1296.81 1447.93,1297.07 1447.92,1297.32 1447.91,1297.57 1447.9,1297.83 1447.89,1298.08 1447.88,1298.33 1447.86,1298.59 1447.85,1298.84 1447.84,1299.1 1447.83,1299.35 1447.82,1299.6 1447.8,1299.86 1447.79,1300.11 1447.78,1300.37 1447.76,1300.62 1447.75,1300.87 1447.73,1301.13 1447.72,1301.38 1447.71,1301.63 1447.69,1301.89 1447.68,1302.14 1447.66,1302.4 1447.64,1302.65 1447.63,1302.9 1447.61,1303.16 1447.6,1303.41 1447.58,1303.66 1447.56,1303.92 1447.55,1304.17 1447.53,1304.43 1447.51,1304.68 1447.5,1304.93 1447.48,1305.19 1447.46,1305.44 1447.44,1305.7 1447.43,1305.95 1447.41,1306.2 1447.39,1306.46 1447.37,1306.71 1447.35,1306.96 1447.33,1307.22 1447.32,1307.47 1447.3,1307.73 1447.28,1307.98 1447.26,1308.23 1447.24,1308.49 1447.22,1308.74 1447.2,1308.99 1447.18,1309.25 1447.16,1309.5 1447.14,1309.76 1447.12,1310.01 1447.1,1310.26 1447.08,1310.52 1447.06,1310.77 1447.04,1311.03 1447.01,1311.28 1446.99,1311.53 1446.97,1311.79 1446.94,1312.04 1446.92,1312.29 1446.89,1312.55 1446.87,1312.8 1446.84,1313.06 1446.82,1313.31 1446.79,1313.56 1446.76,1313.82 1446.73,1314.07 1446.7,1314.32 1446.67,1314.58 1446.64,1314.83 1446.61,1315.09 1446.58,1315.34 1446.55,1315.59 1446.52,1315.85 1446.49,1316.1 1446.45,1316.36 1446.42,1316.61 1446.38,1316.86 1446.35,1317.12 1446.31,1317.37 1446.28,1317.62 1446.24,1317.88 1446.2,1318.13 1446.16,1318.39 1446.12,1318.64 1446.08,1318.89 1446.04,1319.15 1446,1319.4 1445.96,1319.65 1445.92,1319.91 1445.87,1320.16 1445.82,1320.42 1445.78,1320.67 1445.73,1320.92 1445.68,1321.18 1445.63,1321.43 1445.58,1321.69 1445.52,1321.94 1445.47,1322.19 1445.41,1322.45 1445.35,1322.7 1445.29,1322.95 1445.23,1323.21 1445.16,1323.46 1445.1,1323.72 1445.03,1323.97 1444.96,1324.22 1444.88,1324.48 1444.81,1324.73 1444.73,1324.98 1444.65,1325.24 1444.57,1325.49 1444.49,1325.75 1444.4,1326 1444.31,1326.25 1444.22,1326.51 1444.12,1326.76 1444.01,1327.02 1443.89,1327.27 1443.75,1327.52 1443.61,1327.78 1443.46,1328.03 1443.3,1328.28 1443.13,1328.54 1442.95,1328.79 1442.76,1329.05 1442.58,1329.3 1442.38,1329.55 1442.18,1329.81 1441.98,1330.06 1441.78,1330.31 1441.57,1330.57 1441.36,1330.82 1441.14,1331.08 1440.91,1331.33 1440.66,1331.58 1440.41,1331.84 1440.15,1332.09 1439.87,1332.35 1439.59,1332.6 1439.31,1332.85 1439.02,1333.11 1438.72,1333.36 1438.42,1333.61 1438.13,1333.87 1437.83,1334.12 1437.53,1334.38 1437.23,1334.63 1436.94,1334.88 1436.64,1335.14 1436.35,1335.39 1436.05,1335.64 1435.75,1335.9 1435.44,1336.15 1435.13,1336.41 1434.82,1336.66 1434.51,1336.91 1434.2,1337.17 1433.89,1337.42 1433.57,1337.68 1433.26,1337.93 1432.95,1338.18 1432.64,1338.44 1432.34,1338.69 1432.04,1338.94 1431.74,1339.2 1431.44,1339.45 1431.12,1339.71 1430.79,1339.96 1430.45,1340.21 1430.11,1340.47 1429.76,1340.72 1429.41,1340.97 1429.07,1341.23 1428.74,1341.48 1428.42,1341.74 1428.12,1341.99 1427.84,1342.24 1427.58,1342.5 1427.35,1342.75 1427.15,1343.01 1426.98,1343.26 1426.85,1343.51 1426.75,1343.77 1426.66,1344.02 1426.57,1344.27 1426.49,1344.53 1426.41,1344.78 1426.35,1345.04 1426.29,1345.29 1426.25,1345.54 1426.22,1345.8 1426.21,1346.05 1426.31,1346.3 1426.61,1346.56 1427.07,1346.81 1427.65,1347.07 1428.29,1347.32 1428.93,1347.57 1429.57,1347.83 1430.29,1348.08 1431.09,1348.34 1431.97,1348.59 1432.91,1348.84 1433.88,1349.1 1434.86,1349.35 1435.9,1349.6 1437.08,1349.86 1438.35,1350.11 1439.65,1350.37 1440.9,1350.62 1442.04,1350.87 1443.01,1351.13 1443.82,1351.38 1444.63,1351.63 1445.38,1351.89 1446.03,1352.14 1446.49,1352.4 1446.71,1352.65 1446.79,1352.9 1446.87,1353.16 1446.94,1353.41 1447,1353.67 1447.06,1353.92 1447.12,1354.17 1447.17,1354.43 1447.22,1354.68 1447.27,1354.93 1447.31,1355.19 1447.35,1355.44 1447.39,1355.7 1447.42,1355.95 1447.45,1356.2 1447.48,1356.46 1447.5,1356.71 1447.53,1356.96 1447.55,1357.22 1447.57,1357.47 1447.59,1357.73 1447.61,1357.98 1447.62,1358.23 1447.64,1358.49 1447.65,1358.74 1447.66,1359 1447.68,1359.25 1447.69,1359.5 1447.7,1359.76 1447.72,1360.01 1447.73,1360.26 1447.74,1360.52 1447.75,1360.77 1447.77,1361.03 1447.78,1361.28 1447.79,1361.53 1447.8,1361.79 1447.81,1362.04 1447.82,1362.29 1447.83,1362.55 1447.84,1362.8 1447.85,1363.06 1447.86,1363.31 1447.87,1363.56 1447.88,1363.82 1447.89,1364.07 1447.9,1364.33 1447.91,1364.58 1447.92,1364.83 1447.93,1365.09 1447.94,1365.34 1447.94,1365.59 1447.95,1365.85 1447.96,1366.1 1447.96,1366.36 1447.97,1366.61 1447.98,1366.86 1447.98,1367.12 1447.99,1367.37 1447.99,1367.62 1447.99,1367.88 1448,1368.13 1448,1368.39 1448.02,1368.64 1448.04,1368.89 1448.06,1369.15 1448.08,1369.4 1448.1,1369.66 1448.11,1369.91 1448.13,1370.16 1448.29,1370.16 1448.31,1369.91 1448.33,1369.66 1448.35,1369.4 1448.37,1369.15 1448.38,1368.89 1448.4,1368.64 1448.42,1368.39 1448.43,1368.13 1448.43,1367.88 1448.44,1367.62 1448.44,1367.37 1448.44,1367.12 1448.45,1366.86 1448.46,1366.61 1448.46,1366.36 1448.47,1366.1 1448.48,1365.85 1448.48,1365.59 1448.49,1365.34 1448.5,1365.09 1448.51,1364.83 1448.51,1364.58 1448.52,1364.33 1448.53,1364.07 1448.54,1363.82 1448.55,1363.56 1448.56,1363.31 1448.57,1363.06 1448.58,1362.8 1448.59,1362.55 1448.6,1362.29 1448.61,1362.04 1448.62,1361.79 1448.64,1361.53 1448.65,1361.28 1448.66,1361.03 1448.67,1360.77 1448.68,1360.52 1448.7,1360.26 1448.71,1360.01 1448.72,1359.76 1448.73,1359.5 1448.75,1359.25 1448.76,1359 1448.77,1358.74 1448.79,1358.49 1448.8,1358.23 1448.82,1357.98 1448.84,1357.73 1448.85,1357.47 1448.87,1357.22 1448.9,1356.96 1448.92,1356.71 1448.95,1356.46 1448.97,1356.2 1449,1355.95 1449.04,1355.7 1449.07,1355.44 1449.11,1355.19 1449.16,1354.93 1449.2,1354.68 1449.25,1354.43 1449.3,1354.17 1449.36,1353.92 1449.42,1353.67 1449.49,1353.41 1449.56,1353.16 1449.63,1352.9 1449.71,1352.65 1449.94,1352.4 1450.4,1352.14 1451.04,1351.89 1451.8,1351.63 1452.61,1351.38 1453.42,1351.13 1454.38,1350.87 1455.53,1350.62 1456.78,1350.37 1458.08,1350.11 1459.35,1349.86 1460.53,1349.6 1461.56,1349.35 1462.55,1349.1 1463.52,1348.84 1464.45,1348.59 1465.33,1348.34 1466.14,1348.08 1466.86,1347.83 1467.49,1347.57 1468.14,1347.32 1468.78,1347.07 1469.35,1346.81 1469.82,1346.56 1470.12,1346.3 1470.21,1346.05 1470.2,1345.8 1470.17,1345.54 1470.13,1345.29 1470.08,1345.04 1470.01,1344.78 1469.94,1344.53 1469.86,1344.27 1469.77,1344.02 1469.67,1343.77 1469.58,1343.51 1469.45,1343.26 1469.28,1343.01 1469.08,1342.75 1468.84,1342.5 1468.59,1342.24 1468.3,1341.99 1468,1341.74 1467.68,1341.48 1467.35,1341.23 1467.01,1340.97 1466.67,1340.72 1466.32,1340.47 1465.97,1340.21 1465.63,1339.96 1465.3,1339.71 1464.99,1339.45 1464.68,1339.2 1464.39,1338.94 1464.08,1338.69 1463.78,1338.44 1463.47,1338.18 1463.16,1337.93 1462.85,1337.68 1462.54,1337.42 1462.23,1337.17 1461.91,1336.91 1461.6,1336.66 1461.29,1336.41 1460.98,1336.15 1460.68,1335.9 1460.37,1335.64 1460.08,1335.39 1459.78,1335.14 1459.49,1334.88 1459.19,1334.63 1458.9,1334.38 1458.6,1334.12 1458.3,1333.87 1458,1333.61 1457.7,1333.36 1457.41,1333.11 1457.12,1332.85 1456.83,1332.6 1456.55,1332.35 1456.28,1332.09 1456.02,1331.84 1455.76,1331.58 1455.52,1331.33 1455.28,1331.08 1455.07,1330.82 1454.86,1330.57 1454.65,1330.31 1454.44,1330.06 1454.24,1329.81 1454.04,1329.55 1453.85,1329.3 1453.66,1329.05 1453.48,1328.79 1453.3,1328.54 1453.13,1328.28 1452.97,1328.03 1452.82,1327.78 1452.67,1327.52 1452.54,1327.27 1452.42,1327.02 1452.3,1326.76 1452.21,1326.51 1452.11,1326.25 1452.02,1326 1451.94,1325.75 1451.85,1325.49 1451.77,1325.24 1451.69,1324.98 1451.62,1324.73 1451.54,1324.48 1451.47,1324.22 1451.4,1323.97 1451.33,1323.72 1451.26,1323.46 1451.2,1323.21 1451.14,1322.95 1451.08,1322.7 1451.02,1322.45 1450.96,1322.19 1450.9,1321.94 1450.85,1321.69 1450.8,1321.43 1450.75,1321.18 1450.7,1320.92 1450.65,1320.67 1450.6,1320.42 1450.55,1320.16 1450.51,1319.91 1450.47,1319.65 1450.42,1319.4 1450.38,1319.15 1450.34,1318.89 1450.3,1318.64 1450.26,1318.39 1450.22,1318.13 1450.19,1317.88 1450.15,1317.62 1450.11,1317.37 1450.08,1317.12 1450.04,1316.86 1450.01,1316.61 1449.97,1316.36 1449.94,1316.1 1449.91,1315.85 1449.87,1315.59 1449.84,1315.34 1449.81,1315.09 1449.78,1314.83 1449.75,1314.58 1449.72,1314.32 1449.69,1314.07 1449.66,1313.82 1449.64,1313.56 1449.61,1313.31 1449.58,1313.06 1449.56,1312.8 1449.53,1312.55 1449.51,1312.29 1449.48,1312.04 1449.46,1311.79 1449.43,1311.53 1449.41,1311.28 1449.39,1311.03 1449.37,1310.77 1449.34,1310.52 1449.32,1310.26 1449.3,1310.01 1449.28,1309.76 1449.26,1309.5 1449.24,1309.25 1449.22,1308.99 1449.2,1308.74 1449.18,1308.49 1449.17,1308.23 1449.15,1307.98 1449.13,1307.73 1449.11,1307.47 1449.09,1307.22 1449.07,1306.96 1449.05,1306.71 1449.04,1306.46 1449.02,1306.2 1449,1305.95 1448.98,1305.7 1448.96,1305.44 1448.95,1305.19 1448.93,1304.93 1448.91,1304.68 1448.9,1304.43 1448.88,1304.17 1448.86,1303.92 1448.84,1303.66 1448.83,1303.41 1448.81,1303.16 1448.8,1302.9 1448.78,1302.65 1448.76,1302.4 1448.75,1302.14 1448.73,1301.89 1448.72,1301.63 1448.7,1301.38 1448.69,1301.13 1448.68,1300.87 1448.66,1300.62 1448.65,1300.37 1448.64,1300.11 1448.62,1299.86 1448.61,1299.6 1448.6,1299.35 1448.58,1299.1 1448.57,1298.84 1448.56,1298.59 1448.55,1298.33 1448.54,1298.08 1448.53,1297.83 1448.52,1297.57 1448.51,1297.32 1448.5,1297.07 1448.49,1296.81 1448.48,1296.56 1448.47,1296.3 1448.46,1296.05 1448.45,1295.8 1448.45,1295.54 1448.44,1295.29 1448.43,1295.04 1448.42,1294.78 1448.42,1294.53 1448.41,1294.27" fill="#9b2226" fill-opacity="0.22"/>
<polygon points="1493.34,1323.46 1493.29,1323.78 1493.23,1324.1 1493.22,1324.41 1493.21,1324.73 1493.21,1325.05 1493.2,1325.37 1493.2,1325.68 1493.19,1326 1493.18,1326.32 1493.17,1326.63 1493.16,1326.95 1493.15,1327.27 1493.14,1327.59 1493.12,1327.9 1493.11,1328.22 1493.1,1328.54 1493.08,1328.86 1493.06,1329.17 1493.05,1329.49 1493.03,1329.81 1493.01,1330.12 1492.99,1330.44 1492.97,1330.76 1492.95,1331.08 1492.92,1331.39 1492.9,1331.71 1492.88,1332.03 1492.85,1332.35 1492.83,1332.66 1492.8,1332.98 1492.77,1333.3 1492.75,1333.61 1492.72,1333.93 1492.69,1334.25 1492.66,1334.57 1492.63,1334.88 1492.6,1335.2 1492.56,1335.52 1492.53,1335.84 1492.5,1336.15 1492.47,1336.47 1492.43,1336.79 1492.4,1337.1 1492.36,1337.42 1492.32,1337.74 1492.29,1338.06 1492.25,1338.37 1492.21,1338.69 1492.17,1339.01 1492.13,1339.33 1492.09,1339.64 1492.05,1339.96 1492.01,1340.28 1491.97,1340.59 1491.93,1340.91 1491.89,1341.23 1491.84,1341.55 1491.78,1341.86 1491.72,1342.18 1491.66,1342.5 1491.59,1342.81 1491.51,1343.13 1491.43,1343.45 1491.33,1343.77 1491.23,1344.08 1491.13,1344.4 1491.01,1344.72 1490.89,1345.04 1490.76,1345.35 1490.62,1345.67 1490.47,1345.99 1490.29,1346.3 1490.05,1346.62 1489.75,1346.94 1489.4,1347.26 1488.99,1347.57 1488.55,1347.89 1488.07,1348.21 1487.55,1348.53 1487.02,1348.84 1486.47,1349.16 1485.91,1349.48 1485.34,1349.79 1484.78,1350.11 1484.21,1350.43 1483.53,1350.75 1482.74,1351.06 1481.86,1351.38 1480.92,1351.7 1479.95,1352.02 1478.99,1352.33 1478.06,1352.65 1477.19,1352.97 1476.41,1353.28 1475.76,1353.6 1475.25,1353.92 1474.93,1354.24 1474.82,1354.55 1474.91,1354.87 1475.14,1355.19 1475.5,1355.51 1475.96,1355.82 1476.5,1356.14 1477.1,1356.46 1477.74,1356.77 1478.38,1357.09 1479.01,1357.41 1479.61,1357.73 1480.16,1358.04 1480.75,1358.36 1481.37,1358.68 1482.02,1359 1482.69,1359.31 1483.36,1359.63 1484.03,1359.95 1484.67,1360.26 1485.28,1360.58 1485.84,1360.9 1486.35,1361.22 1486.79,1361.53 1487.22,1361.85 1487.63,1362.17 1488.03,1362.49 1488.41,1362.8 1488.77,1363.12 1489.1,1363.44 1489.4,1363.75 1489.66,1364.07 1489.89,1364.39 1490.07,1364.71 1490.24,1365.02 1490.4,1365.34 1490.56,1365.66 1490.71,1365.97 1490.86,1366.29 1490.99,1366.61 1491.13,1366.93 1491.25,1367.24 1491.36,1367.56 1491.47,1367.88 1491.56,1368.2 1491.65,1368.51 1491.73,1368.83 1491.79,1369.15 1491.85,1369.46 1491.89,1369.78 1491.92,1370.1 1491.94,1370.42 1491.96,1370.73 1491.98,1371.05 1492,1371.37 1492.02,1371.69 1492.04,1372 1492.06,1372.32 1492.07,1372.64 1492.09,1372.95 1492.11,1373.27 1492.13,1373.59 1492.15,1373.91 1492.17,1374.22 1492.19,1374.54 1492.2,1374.86 1492.22,1375.18 1492.24,1375.49 1492.25,1375.81 1492.27,1376.13 1492.29,1376.44 1492.31,1376.76 1492.32,1377.08 1492.34,1377.4 1492.35,1377.71 1492.37,1378.03 1492.39,1378.35 1492.4,1378.67 1492.42,1378.98 1492.43,1379.3 1492.45,1379.62 1492.46,1379.93 1492.48,1380.25 1492.49,1380.57 1492.5,1380.89 1492.52,1381.2 1492.53,1381.52 1492.55,1381.84 1492.56,1382.16 1492.57,1382.47 1492.59,1382.79 1492.6,1383.11 1492.61,1383.42 1492.63,1383.74 1492.64,1384.06 1492.65,1384.38 1492.66,1384.69 1492.67,1385.01 1492.69,1385.33 1492.7,1385.65 1492.71,1385.96 1492.72,1386.28 1492.73,1386.6 1492.74,1386.91 1492.75,1387.23 1492.77,1387.55 1492.78,1387.87 1492.79,1388.18 1492.8,1388.5 1492.81,1388.82 1492.82,1389.13 1492.83,1389.45 1492.84,1389.77 1492.85,1390.09 1492.86,1390.4 1492.87,1390.72 1492.87,1391.04 1492.88,1391.36 1492.89,1391.67 1492.9,1391.99 1492.91,1392.31 1492.92,1392.62 1492.93,1392.94 1492.94,1393.26 1492.94,1393.58 1492.95,1393.89 1492.96,1394.21 1492.97,1394.53 1492.97,1394.85 1492.98,1395.16 1492.99,1395.48 1493,1395.8 1493,1396.11 1493.01,1396.43 1493.02,1396.75 1493.02,1397.07 1493.03,1397.38 1493.04,1397.7 1493.04,1398.02 1493.05,1398.34 1493.05,1398.65 1493.06,1398.97 1493.07,1399.29 1493.07,1399.6 1493.08,1399.92 1493.08,1400.24 1493.09,1400.56 1493.09,1400.87 1493.1,1401.19 1493.1,1401.51 1493.11,1401.83 1493.11,1402.14 1493.12,1402.46 1493.12,1402.78 1493.13,1403.09 1493.13,1403.41 1493.13,1403.73 1493.14,1404.05 1493.14,1404.36 1493.15,1404.68 1493.15,1405 1493.15,1405.32 1493.16,1405.63 1493.16,1405.95 1493.16,1406.27 1493.17,1406.58 1493.17,1406.9 1493.17,1407.22 1493.18,1407.54 1493.18,1407.85 1493.18,1408.17 1493.18,1408.49 1493.19,1408.81 1493.19,1409.12 1493.19,1409.44 1493.19,1409.76 1493.2,1410.07 1493.2,1410.39 1493.2,1410.71 1493.2,1411.03 1493.2,1411.34 1493.2,1411.66 1493.21,1411.98 1493.21,1412.3 1493.21,1412.61 1493.21,1412.93 1493.21,1413.25 1493.21,1413.56 1493.21,1413.88 1493.21,1414.2 1493.22,1414.52 1493.22,1414.83 1493.22,1415.15 1493.22,1415.47 1493.22,1415.78 1493.22,1416.1 1493.22,1416.42 1493.22,1416.74 1493.22,1417.05 1493.22,1417.37 1493.22,1417.69 1493.28,1418.01 1493.34,1418.32 1493.5,1418.32 1493.56,1418.01 1493.62,1417.69 1493.62,1417.37 1493.62,1417.05 1493.62,1416.74 1493.62,1416.42 1493.62,1416.1 1493.62,1415.78 1493.62,1415.47 1493.62,1415.15 1493.63,1414.83 1493.63,1414.52 1493.63,1414.2 1493.63,1413.88 1493.63,1413.56 1493.63,1413.25 1493.63,1412.93 1493.63,1412.61 1493.63,1412.3 1493.64,1411.98 1493.64,1411.66 1493.64,1411.34 1493.64,1411.03 1493.64,1410.71 1493.64,1410.39 1493.65,1410.07 1493.65,1409.76 1493.65,1409.44 1493.65,1409.12 1493.66,1408.81 1493.66,1408.49 1493.66,1408.17 1493.66,1407.85 1493.67,1407.54 1493.67,1407.22 1493.67,1406.9 1493.68,1406.58 1493.68,1406.27 1493.68,1405.95 1493.68,1405.63 1493.69,1405.32 1493.69,1405 1493.7,1404.68 1493.7,1404.36 1493.7,1404.05 1493.71,1403.73 1493.71,1403.41 1493.72,1403.09 1493.72,1402.78 1493.72,1402.46 1493.73,1402.14 1493.73,1401.83 1493.74,1401.51 1493.74,1401.19 1493.75,1400.87 1493.75,1400.56 1493.76,1400.24 1493.76,1399.92 1493.77,1399.6 1493.78,1399.29 1493.78,1398.97 1493.79,1398.65 1493.79,1398.34 1493.8,1398.02 1493.81,1397.7 1493.81,1397.38 1493.82,1397.07 1493.82,1396.75 1493.83,1396.43 1493.84,1396.11 1493.85,1395.8 1493.85,1395.48 1493.86,1395.16 1493.87,1394.85 1493.87,1394.53 1493.88,1394.21 1493.89,1393.89 1493.9,1393.58 1493.91,1393.26 1493.91,1392.94 1493.92,1392.62 1493.93,1392.31 1493.94,1391.99 1493.95,1391.67 1493.96,1391.36 1493.97,1391.04 1493.98,1390.72 1493.99,1390.4 1493.99,1390.09 1494,1389.77 1494.01,1389.45 1494.02,1389.13 1494.03,1388.82 1494.04,1388.5 1494.05,1388.18 1494.07,1387.87 1494.08,1387.55 1494.09,1387.23 1494.1,1386.91 1494.11,1386.6 1494.12,1386.28 1494.13,1385.96 1494.14,1385.65 1494.16,1385.33 1494.17,1385.01 1494.18,1384.69 1494.19,1384.38 1494.2,1384.06 1494.22,1383.74 1494.23,1383.42 1494.24,1383.11 1494.26,1382.79 1494.27,1382.47 1494.28,1382.16 1494.3,1381.84 1494.31,1381.52 1494.32,1381.2 1494.34,1380.89 1494.35,1380.57 1494.37,1380.25 1494.38,1379.93 1494.4,1379.62 1494.41,1379.3 1494.43,1378.98 1494.44,1378.67 1494.46,1378.35 1494.47,1378.03 1494.49,1377.71 1494.5,1377.4 1494.52,1377.08 1494.54,1376.76 1494.55,1376.44 1494.57,1376.13 1494.59,1375.81 1494.6,1375.49 1494.62,1375.18 1494.64,1374.86 1494.66,1374.54 1494.67,1374.22 1494.69,1373.91 1494.71,1373.59 1494.73,1373.27 1494.75,1372.95 1494.77,1372.64 1494.79,1372.32 1494.81,1372 1494.82,1371.69 1494.84,1371.37 1494.86,1371.05 1494.88,1370.73 1494.9,1370.42 1494.93,1370.1 1494.95,1369.78 1495,1369.46 1495.05,1369.15 1495.11,1368.83 1495.19,1368.51 1495.28,1368.2 1495.37,1367.88 1495.48,1367.56 1495.59,1367.24 1495.72,1366.93 1495.85,1366.61 1495.99,1366.29 1496.13,1365.97 1496.28,1365.66 1496.44,1365.34 1496.6,1365.02 1496.77,1364.71 1496.96,1364.39 1497.18,1364.07 1497.45,1363.75 1497.74,1363.44 1498.08,1363.12 1498.43,1362.8 1498.81,1362.49 1499.21,1362.17 1499.62,1361.85 1500.05,1361.53 1500.49,1361.22 1501,1360.9 1501.56,1360.58 1502.17,1360.26 1502.82,1359.95 1503.48,1359.63 1504.15,1359.31 1504.82,1359 1505.47,1358.68 1506.09,1358.36 1506.68,1358.04 1507.23,1357.73 1507.83,1357.41 1508.46,1357.09 1509.11,1356.77 1509.74,1356.46 1510.34,1356.14 1510.88,1355.82 1511.34,1355.51 1511.7,1355.19 1511.94,1354.87 1512.02,1354.55 1511.91,1354.24 1511.59,1353.92 1511.08,1353.6 1510.43,1353.28 1509.65,1352.97 1508.78,1352.65 1507.85,1352.33 1506.89,1352.02 1505.92,1351.7 1504.98,1351.38 1504.1,1351.06 1503.31,1350.75 1502.63,1350.43 1502.06,1350.11 1501.5,1349.79 1500.93,1349.48 1500.37,1349.16 1499.82,1348.84 1499.29,1348.53 1498.78,1348.21 1498.29,1347.89 1497.85,1347.57 1497.44,1347.26 1497.09,1346.94 1496.79,1346.62 1496.55,1346.3 1496.37,1345.99 1496.22,1345.67 1496.08,1345.35 1495.95,1345.04 1495.83,1344.72 1495.71,1344.4 1495.61,1344.08 1495.51,1343.77 1495.42,1343.45 1495.33,1343.13 1495.25,1342.81 1495.18,1342.5 1495.12,1342.18 1495.06,1341.86 1495,1341.55 1494.96,1341.23 1494.91,1340.91 1494.87,1340.59 1494.83,1340.28 1494.79,1339.96 1494.75,1339.64 1494.71,1339.33 1494.67,1339.01 1494.63,1338.69 1494.59,1338.37 1494.55,1338.06 1494.52,1337.74 1494.48,1337.42 1494.45,1337.1 1494.41,1336.79 1494.38,1336.47 1494.34,1336.15 1494.31,1335.84 1494.28,1335.52 1494.25,1335.2 1494.21,1334.88 1494.18,1334.57 1494.15,1334.25 1494.12,1333.93 1494.1,1333.61 1494.07,1333.3 1494.04,1332.98 1494.02,1332.66 1493.99,1332.35 1493.96,1332.03 1493.94,1331.71 1493.92,1331.39 1493.9,1331.08 1493.87,1330.76 1493.85,1330.44 1493.83,1330.12 1493.81,1329.81 1493.8,1329.49 1493.78,1329.17 1493.76,1328.86 1493.75,1328.54 1493.73,1328.22 1493.72,1327.9 1493.7,1327.59 1493.69,1327.27 1493.68,1326.95 1493.67,1326.63 1493.66,1326.32 1493.65,1326 1493.65,1325.68 1493.64,1325.37 1493.63,1325.05 1493.63,1324.73 1493.63,1324.41 1493.61,1324.1 1493.56,1323.78 1493.5,1323.46" fill="#eca524" fill-opacity="0.22"/>
<polygon points="1628.97,1119.15 1628.92,1120.51 1628.88,1121.88 1628.84,1123.25 1628.84,1124.61 1628.84,1125.98 1628.84,1127.35 1628.84,1128.71 1628.83,1130.08 1628.83,1131.45 1628.83,1132.81 1628.82,1134.18 1628.82,1135.55 1628.82,1136.91 1628.81,1138.28 1628.81,1139.65 1628.8,1141.01 1628.79,1142.38 1628.79,1143.75 1628.78,1145.11 1628.78,1146.48 1628.77,1147.85 1628.76,1149.21 1628.75,1150.58 1628.75,1151.95 1628.74,1153.31 1628.73,1154.68 1628.72,1156.05 1628.71,1157.41 1628.7,1158.78 1628.69,1160.15 1628.68,1161.51 1628.67,1162.88 1628.66,1164.25 1628.65,1165.61 1628.64,1166.98 1628.63,1168.35 1628.62,1169.71 1628.61,1171.08 1628.6,1172.45 1628.59,1173.81 1628.57,1175.18 1628.56,1176.55 1628.55,1177.91 1628.54,1179.28 1628.52,1180.65 1628.51,1182.01 1628.5,1183.38 1628.48,1184.75 1628.47,1186.11 1628.46,1187.48 1628.44,1188.85 1628.43,1190.21 1628.42,1191.58 1628.4,1192.95 1628.39,1194.31 1628.37,1195.68 1628.36,1197.05 1628.34,1198.41 1628.33,1199.78 1628.31,1201.15 1628.29,1202.51 1628.28,1203.88 1628.26,1205.25 1628.25,1206.61 1628.23,1207.98 1628.21,1209.35 1628.19,1210.71 1628.17,1212.08 1628.14,1213.45 1628.12,1214.81 1628.09,1216.18 1628.06,1217.55 1628.03,1218.91 1627.99,1220.28 1627.96,1221.65 1627.93,1223.01 1627.89,1224.38 1627.85,1225.75 1627.81,1227.11 1627.77,1228.48 1627.73,1229.85 1627.69,1231.21 1627.65,1232.58 1627.61,1233.95 1627.56,1235.31 1627.52,1236.68 1627.48,1238.05 1627.44,1239.41 1627.39,1240.78 1627.34,1242.15 1627.29,1243.51 1627.24,1244.88 1627.18,1246.25 1627.11,1247.61 1627.04,1248.98 1626.96,1250.35 1626.86,1251.71 1626.74,1253.08 1626.57,1254.45 1626.36,1255.81 1626.11,1257.18 1625.83,1258.55 1625.52,1259.91 1625.21,1261.28 1624.88,1262.65 1624.56,1264.01 1624.22,1265.38 1623.85,1266.75 1623.45,1268.11 1623.04,1269.48 1622.6,1270.85 1622.15,1272.21 1621.7,1273.58 1621.25,1274.95 1620.8,1276.31 1620.35,1277.68 1619.87,1279.05 1619.39,1280.41 1618.9,1281.78 1618.41,1283.15 1617.93,1284.51 1617.45,1285.88 1616.99,1287.25 1616.54,1288.61 1616.09,1289.98 1615.62,1291.35 1615.15,1292.71 1614.69,1294.08 1614.25,1295.45 1613.85,1296.81 1613.49,1298.18 1613.2,1299.55 1612.97,1300.91 1612.75,1302.28 1612.55,1303.65 1612.36,1305.01 1612.19,1306.38 1612.04,1307.75 1611.91,1309.11 1611.82,1310.48 1611.76,1311.85 1611.74,1313.21 1611.72,1314.58 1611.71,1315.95 1611.7,1317.31 1611.69,1318.68 1611.69,1320.05 1611.68,1321.41 1611.67,1322.78 1611.65,1324.15 1611.62,1325.51 1611.55,1326.88 1611.45,1328.25 1611.32,1329.61 1611.17,1330.98 1611.02,1332.35 1610.86,1333.71 1610.71,1335.08 1610.58,1336.45 1610.47,1337.81 1610.37,1339.18 1610.28,1340.55 1610.19,1341.91 1610.1,1343.28 1610.01,1344.65 1609.91,1346.01 1609.8,1347.38 1609.67,1348.75 1609.52,1350.11 1609.34,1351.48 1609.12,1352.85 1608.89,1354.21 1608.66,1355.58 1608.42,1356.95 1608.2,1358.31 1608.01,1359.68 1607.85,1361.05 1607.71,1362.41 1607.57,1363.78 1607.44,1365.15 1607.3,1366.51 1607.19,1367.88 1607.09,1369.25 1607.01,1370.61 1606.96,1371.98 1606.95,1373.35 1606.99,1374.71 1607.1,1376.08 1607.27,1377.45 1607.48,1378.81 1607.72,1380.18 1607.99,1381.55 1608.27,1382.91 1608.56,1384.28 1608.84,1385.65 1609.16,1387.01 1609.53,1388.38 1609.94,1389.75 1610.38,1391.11 1610.84,1392.48 1611.3,1393.85 1611.76,1395.21 1612.21,1396.58 1612.65,1397.95 1613.08,1399.31 1613.52,1400.68 1613.96,1402.05 1614.4,1403.41 1614.84,1404.78 1615.29,1406.15 1615.73,1407.51 1616.17,1408.88 1616.61,1410.25 1617.05,1411.61 1617.5,1412.98 1617.94,1414.35 1618.38,1415.71 1618.83,1417.08 1619.27,1418.45 1619.7,1419.81 1620.13,1421.18 1620.57,1422.55 1621.02,1423.91 1621.48,1425.28 1621.93,1426.64 1622.38,1428.01 1622.81,1429.38 1623.21,1430.74 1623.58,1432.11 1623.91,1433.48 1624.2,1434.84 1624.48,1436.21 1624.74,1437.58 1625,1438.94 1625.23,1440.31 1625.46,1441.68 1625.67,1443.04 1625.86,1444.41 1626.04,1445.78 1626.2,1447.14 1626.36,1448.51 1626.5,1449.88 1626.64,1451.24 1626.78,1452.61 1626.9,1453.98 1627.02,1455.34 1627.13,1456.71 1627.23,1458.08 1627.32,1459.44 1627.39,1460.81 1627.45,1462.18 1627.5,1463.54 1627.55,1464.91 1627.6,1466.28 1627.65,1467.64 1627.7,1469.01 1627.75,1470.38 1627.8,1471.74 1627.85,1473.11 1627.89,1474.48 1627.94,1475.84 1627.98,1477.21 1628.02,1478.58 1628.07,1479.94 1628.11,1481.31 1628.15,1482.68 1628.19,1484.04 1628.22,1485.41 1628.26,1486.78 1628.3,1488.14 1628.33,1489.51 1628.37,1490.88 1628.4,1492.24 1628.43,1493.61 1628.46,1494.98 1628.49,1496.34 1628.52,1497.71 1628.55,1499.08 1628.58,1500.44 1628.6,1501.81 1628.63,1503.18 1628.65,1504.54 1628.67,1505.91 1628.69,1507.28 1628.71,1508.64 1628.73,1510.01 1628.75,1511.38 1628.76,1512.74 1628.78,1514.11 1628.79,1515.48 1628.8,1516.84 1628.81,1518.21 1628.82,1519.58 1628.83,1520.94 1628.83,1522.31 1628.85,1523.68 1628.89,1525.04 1628.93,1526.41 1628.97,1527.78 1629.13,1527.78 1629.16,1526.41 1629.2,1525.04 1629.24,1523.68 1629.26,1522.31 1629.26,1520.94 1629.27,1519.58 1629.28,1518.21 1629.29,1516.84 1629.3,1515.48 1629.32,1514.11 1629.33,1512.74 1629.35,1511.38 1629.36,1510.01 1629.38,1508.64 1629.4,1507.28 1629.42,1505.91 1629.44,1504.54 1629.47,1503.18 1629.49,1501.81 1629.51,1500.44 1629.54,1499.08 1629.57,1497.71 1629.6,1496.34 1629.63,1494.98 1629.66,1493.61 1629.69,1492.24 1629.72,1490.88 1629.76,1489.51 1629.79,1488.14 1629.83,1486.78 1629.87,1485.41 1629.91,1484.04 1629.94,1482.68 1629.98,1481.31 1630.03,1479.94 1630.07,1478.58 1630.11,1477.21 1630.16,1475.84 1630.2,1474.48 1630.25,1473.11 1630.29,1471.74 1630.34,1470.38 1630.39,1469.01 1630.44,1467.64 1630.49,1466.28 1630.54,1464.91 1630.59,1463.54 1630.64,1462.18 1630.7,1460.81 1630.78,1459.44 1630.86,1458.08 1630.96,1456.71 1631.07,1455.34 1631.19,1453.98 1631.32,1452.61 1631.45,1451.24 1631.59,1449.88 1631.74,1448.51 1631.89,1447.14 1632.05,1445.78 1632.23,1444.41 1632.42,1443.04 1632.63,1441.68 1632.86,1440.31 1633.1,1438.94 1633.35,1437.58 1633.61,1436.21 1633.89,1434.84 1634.18,1433.48 1634.51,1432.11 1634.88,1430.74 1635.28,1429.38 1635.71,1428.01 1636.16,1426.64 1636.62,1425.28 1637.07,1423.91 1637.52,1422.55 1637.96,1421.18 1638.39,1419.81 1638.83,1418.45 1639.27,1417.08 1639.71,1415.71 1640.15,1414.35 1640.59,1412.98 1641.04,1411.61 1641.48,1410.25 1641.92,1408.88 1642.36,1407.51 1642.81,1406.15 1643.25,1404.78 1643.69,1403.41 1644.14,1402.05 1644.58,1400.68 1645.01,1399.31 1645.45,1397.95 1645.88,1396.58 1646.33,1395.21 1646.79,1393.85 1647.26,1392.48 1647.71,1391.11 1648.15,1389.75 1648.56,1388.38 1648.93,1387.01 1649.25,1385.65 1649.53,1384.28 1649.82,1382.91 1650.1,1381.55 1650.37,1380.18 1650.62,1378.81 1650.83,1377.45 1650.99,1376.08 1651.1,1374.71 1651.15,1373.35 1651.13,1371.98 1651.08,1370.61 1651.01,1369.25 1650.9,1367.88 1650.79,1366.51 1650.66,1365.15 1650.52,1363.78 1650.38,1362.41 1650.24,1361.05 1650.08,1359.68 1649.89,1358.31 1649.67,1356.95 1649.44,1355.58 1649.2,1354.21 1648.97,1352.85 1648.76,1351.48 1648.57,1350.11 1648.42,1348.75 1648.3,1347.38 1648.19,1346.01 1648.08,1344.65 1647.99,1343.28 1647.9,1341.91 1647.81,1340.55 1647.72,1339.18 1647.62,1337.81 1647.51,1336.45 1647.38,1335.08 1647.23,1333.71 1647.07,1332.35 1646.92,1330.98 1646.77,1329.61 1646.64,1328.25 1646.54,1326.88 1646.47,1325.51 1646.44,1324.15 1646.42,1322.78 1646.41,1321.41 1646.4,1320.05 1646.4,1318.68 1646.39,1317.31 1646.38,1315.95 1646.37,1314.58 1646.36,1313.21 1646.33,1311.85 1646.27,1310.48 1646.18,1309.11 1646.05,1307.75 1645.9,1306.38 1645.73,1305.01 1645.54,1303.65 1645.34,1302.28 1645.13,1300.91 1644.9,1299.55 1644.6,1298.18 1644.24,1296.81 1643.84,1295.45 1643.4,1294.08 1642.94,1292.71 1642.47,1291.35 1642,1289.98 1641.55,1288.61 1641.1,1287.25 1640.64,1285.88 1640.17,1284.51 1639.68,1283.15 1639.19,1281.78 1638.7,1280.41 1638.22,1279.05 1637.75,1277.68 1637.29,1276.31 1636.84,1274.95 1636.39,1273.58 1635.94,1272.21 1635.49,1270.85 1635.06,1269.48 1634.64,1268.11 1634.24,1266.75 1633.87,1265.38 1633.53,1264.01 1633.21,1262.65 1632.89,1261.28 1632.57,1259.91 1632.27,1258.55 1631.98,1257.18 1631.73,1255.81 1631.52,1254.45 1631.35,1253.08 1631.23,1251.71 1631.14,1250.35 1631.05,1248.98 1630.98,1247.61 1630.91,1246.25 1630.85,1244.88 1630.8,1243.51 1630.75,1242.15 1630.7,1240.78 1630.66,1239.41 1630.61,1238.05 1630.57,1236.68 1630.53,1235.31 1630.48,1233.95 1630.44,1232.58 1630.4,1231.21 1630.36,1229.85 1630.32,1228.48 1630.28,1227.11 1630.24,1225.75 1630.2,1224.38 1630.17,1223.01 1630.13,1221.65 1630.1,1220.28 1630.06,1218.91 1630.03,1217.55 1630,1216.18 1629.98,1214.81 1629.95,1213.45 1629.92,1212.08 1629.9,1210.71 1629.88,1209.35 1629.86,1207.98 1629.84,1206.61 1629.83,1205.25 1629.81,1203.88 1629.8,1202.51 1629.78,1201.15 1629.77,1199.78 1629.75,1198.41 1629.74,1197.05 1629.72,1195.68 1629.71,1194.31 1629.69,1192.95 1629.68,1191.58 1629.66,1190.21 1629.65,1188.85 1629.63,1187.48 1629.62,1186.11 1629.61,1184.75 1629.59,1183.38 1629.58,1182.01 1629.57,1180.65 1629.55,1179.28 1629.54,1177.91 1629.53,1176.55 1629.52,1175.18 1629.5,1173.81 1629.49,1172.45 1629.48,1171.08 1629.47,1169.71 1629.46,1168.35 1629.45,1166.98 1629.44,1165.61 1629.43,1164.25 1629.42,1162.88 1629.41,1161.51 1629.4,1160.15 1629.39,1158.78 1629.38,1157.41 1629.37,1156.05 1629.36,1154.68 1629.35,1153.31 1629.35,1151.95 1629.34,1150.58 1629.33,1149.21 1629.32,1147.85 1629.32,1146.48 1629.31,1145.11 1629.3,1143.75 1629.3,1142.38 1629.29,1141.01 1629.29,1139.65 1629.28,1138.28 1629.28,1136.91 1629.27,1135.55 1629.27,1134.18 1629.26,1132.81 1629.26,1131.45 1629.26,1130.08 1629.25,1128.71 1629.25,1127.35 1629.25,1125.98 1629.25,1124.61 1629.25,1123.25 1629.21,1121.88 1629.17,1120.51 1629.13,1119.15" fill="#5291f8" fill-opacity="0.22"/>
<polygon points="1674.05,1286.98 1674.05,1287.26 1674.05,1287.53 1674.05,1287.81 1674.05,1288.09 1674.05,1288.37 1674.05,1288.65 1674.04,1288.92 1674.04,1289.2 1674.04,1289.48 1674.04,1289.76 1674.03,1290.04 1674.03,1290.32 1674.02,1290.59 1674.02,1290.87 1674.01,1291.15 1674.01,1291.43 1674,1291.71 1673.99,1291.98 1673.99,1292.26 1673.98,1292.54 1673.97,1292.82 1673.97,1293.1 1673.96,1293.38 1673.95,1293.65 1673.94,1293.93 1673.93,1294.21 1673.92,1294.49 1673.91,1294.77 1673.91,1295.05 1673.9,1295.32 1673.89,1295.6 1673.88,1295.88 1673.86,1296.16 1673.85,1296.44 1673.84,1296.71 1673.83,1296.99 1673.82,1297.27 1673.81,1297.55 1673.8,1297.83 1673.78,1298.11 1673.77,1298.38 1673.76,1298.66 1673.75,1298.94 1673.73,1299.22 1673.72,1299.5 1673.71,1299.77 1673.69,1300.05 1673.68,1300.33 1673.67,1300.61 1673.65,1300.89 1673.64,1301.17 1673.62,1301.44 1673.61,1301.72 1673.59,1302 1673.58,1302.28 1673.56,1302.56 1673.55,1302.84 1673.53,1303.11 1673.52,1303.39 1673.5,1303.67 1673.49,1303.95 1673.47,1304.23 1673.45,1304.5 1673.44,1304.78 1673.42,1305.06 1673.4,1305.34 1673.38,1305.62 1673.36,1305.9 1673.33,1306.17 1673.31,1306.45 1673.28,1306.73 1673.26,1307.01 1673.23,1307.29 1673.2,1307.56 1673.17,1307.84 1673.13,1308.12 1673.1,1308.4 1673.06,1308.68 1673.03,1308.96 1672.99,1309.23 1672.95,1309.51 1672.91,1309.79 1672.87,1310.07 1672.83,1310.35 1672.79,1310.63 1672.74,1310.9 1672.69,1311.18 1672.65,1311.46 1672.6,1311.74 1672.55,1312.02 1672.5,1312.29 1672.44,1312.57 1672.39,1312.85 1672.32,1313.13 1672.25,1313.41 1672.18,1313.69 1672.1,1313.96 1672.01,1314.24 1671.92,1314.52 1671.82,1314.8 1671.72,1315.08 1671.61,1315.35 1671.5,1315.63 1671.39,1315.91 1671.27,1316.19 1671.15,1316.47 1671.02,1316.75 1670.89,1317.02 1670.76,1317.3 1670.62,1317.58 1670.48,1317.86 1670.34,1318.14 1670.19,1318.42 1670.04,1318.69 1669.89,1318.97 1669.74,1319.25 1669.59,1319.53 1669.43,1319.81 1669.27,1320.08 1669.11,1320.36 1668.96,1320.64 1668.79,1320.92 1668.63,1321.2 1668.47,1321.48 1668.31,1321.75 1668.15,1322.03 1667.98,1322.31 1667.82,1322.59 1667.66,1322.87 1667.5,1323.14 1667.34,1323.42 1667.18,1323.7 1667.02,1323.98 1666.86,1324.26 1666.71,1324.54 1666.55,1324.81 1666.4,1325.09 1666.24,1325.37 1666.08,1325.65 1665.92,1325.93 1665.75,1326.21 1665.59,1326.48 1665.42,1326.76 1665.26,1327.04 1665.08,1327.32 1664.91,1327.6 1664.74,1327.87 1664.56,1328.15 1664.38,1328.43 1664.19,1328.71 1664.01,1328.99 1663.82,1329.27 1663.63,1329.54 1663.43,1329.82 1663.24,1330.1 1663.03,1330.38 1662.83,1330.66 1662.62,1330.93 1662.4,1331.21 1662.18,1331.49 1661.95,1331.77 1661.71,1332.05 1661.46,1332.33 1661.21,1332.6 1660.96,1332.88 1660.7,1333.16 1660.44,1333.44 1660.18,1333.72 1659.91,1334 1659.65,1334.27 1659.38,1334.55 1659.12,1334.83 1658.85,1335.11 1658.59,1335.39 1658.33,1335.66 1658.08,1335.94 1657.83,1336.22 1657.59,1336.5 1657.35,1336.78 1657.11,1337.06 1656.86,1337.33 1656.6,1337.61 1656.33,1337.89 1656.04,1338.17 1655.76,1338.45 1655.47,1338.72 1655.18,1339 1654.89,1339.28 1654.6,1339.56 1654.33,1339.84 1654.06,1340.12 1653.8,1340.39 1653.56,1340.67 1653.34,1340.95 1653.13,1341.23 1652.95,1341.51 1652.79,1341.79 1652.66,1342.06 1652.56,1342.34 1652.49,1342.62 1652.46,1342.9 1652.46,1343.18 1652.48,1343.45 1652.51,1343.73 1652.56,1344.01 1652.63,1344.29 1652.71,1344.57 1652.8,1344.85 1652.91,1345.12 1653.04,1345.4 1653.17,1345.68 1653.32,1345.96 1653.48,1346.24 1653.65,1346.51 1653.92,1346.79 1654.37,1347.07 1654.96,1347.35 1655.68,1347.63 1656.48,1347.91 1657.36,1348.18 1658.27,1348.46 1659.2,1348.74 1660.11,1349.02 1661.12,1349.3 1662.29,1349.58 1663.56,1349.85 1664.88,1350.13 1666.18,1350.41 1667.41,1350.69 1668.51,1350.97 1669.42,1351.24 1670.29,1351.52 1671.15,1351.8 1671.91,1352.08 1672.47,1352.36 1672.75,1352.64 1672.84,1352.91 1672.92,1353.19 1672.99,1353.47 1673.06,1353.75 1673.13,1354.03 1673.19,1354.3 1673.25,1354.58 1673.3,1354.86 1673.35,1355.14 1673.39,1355.42 1673.43,1355.7 1673.46,1355.97 1673.5,1356.25 1673.53,1356.53 1673.56,1356.81 1673.58,1357.09 1673.6,1357.36 1673.62,1357.64 1673.64,1357.92 1673.66,1358.2 1673.68,1358.48 1673.69,1358.76 1673.71,1359.03 1673.72,1359.31 1673.74,1359.59 1673.75,1359.87 1673.76,1360.15 1673.78,1360.43 1673.79,1360.7 1673.8,1360.98 1673.82,1361.26 1673.83,1361.54 1673.84,1361.82 1673.86,1362.09 1673.87,1362.37 1673.88,1362.65 1673.89,1362.93 1673.9,1363.21 1673.91,1363.49 1673.92,1363.76 1673.93,1364.04 1673.94,1364.32 1673.95,1364.6 1673.96,1364.88 1673.97,1365.15 1673.98,1365.43 1673.99,1365.71 1674,1365.99 1674,1366.27 1674.01,1366.55 1674.02,1366.82 1674.02,1367.1 1674.03,1367.38 1674.03,1367.66 1674.04,1367.94 1674.04,1368.22 1674.04,1368.49 1674.06,1368.77 1674.09,1369.05 1674.11,1369.33 1674.13,1369.61 1674.15,1369.88 1674.17,1370.16 1674.33,1370.16 1674.36,1369.88 1674.38,1369.61 1674.4,1369.33 1674.42,1369.05 1674.44,1368.77 1674.46,1368.49 1674.47,1368.22 1674.47,1367.94 1674.48,1367.66 1674.48,1367.38 1674.49,1367.1 1674.49,1366.82 1674.5,1366.55 1674.51,1366.27 1674.51,1365.99 1674.52,1365.71 1674.53,1365.43 1674.54,1365.15 1674.55,1364.88 1674.55,1364.6 1674.56,1364.32 1674.57,1364.04 1674.58,1363.76 1674.6,1363.49 1674.61,1363.21 1674.62,1362.93 1674.63,1362.65 1674.64,1362.37 1674.65,1362.09 1674.67,1361.82 1674.68,1361.54 1674.69,1361.26 1674.7,1360.98 1674.72,1360.7 1674.73,1360.43 1674.74,1360.15 1674.76,1359.87 1674.77,1359.59 1674.79,1359.31 1674.8,1359.03 1674.81,1358.76 1674.83,1358.48 1674.85,1358.2 1674.86,1357.92 1674.88,1357.64 1674.9,1357.36 1674.93,1357.09 1674.95,1356.81 1674.98,1356.53 1675.01,1356.25 1675.04,1355.97 1675.08,1355.7 1675.12,1355.42 1675.16,1355.14 1675.21,1354.86 1675.26,1354.58 1675.32,1354.3 1675.38,1354.03 1675.44,1353.75 1675.51,1353.47 1675.59,1353.19 1675.67,1352.91 1675.76,1352.64 1676.04,1352.36 1676.6,1352.08 1677.36,1351.8 1678.22,1351.52 1679.09,1351.24 1680,1350.97 1681.1,1350.69 1682.32,1350.41 1683.63,1350.13 1684.95,1349.85 1686.22,1349.58 1687.39,1349.3 1688.4,1349.02 1689.31,1348.74 1690.23,1348.46 1691.15,1348.18 1692.02,1347.91 1692.83,1347.63 1693.55,1347.35 1694.14,1347.07 1694.59,1346.79 1694.86,1346.51 1695.03,1346.24 1695.19,1345.96 1695.34,1345.68 1695.47,1345.4 1695.59,1345.12 1695.7,1344.85 1695.8,1344.57 1695.88,1344.29 1695.95,1344.01 1696,1343.73 1696.03,1343.45 1696.05,1343.18 1696.05,1342.9 1696.02,1342.62 1695.95,1342.34 1695.85,1342.06 1695.72,1341.79 1695.56,1341.51 1695.38,1341.23 1695.17,1340.95 1694.95,1340.67 1694.71,1340.39 1694.45,1340.12 1694.18,1339.84 1693.91,1339.56 1693.62,1339.28 1693.33,1339 1693.04,1338.72 1692.75,1338.45 1692.46,1338.17 1692.18,1337.89 1691.91,1337.61 1691.65,1337.33 1691.4,1337.06 1691.16,1336.78 1690.92,1336.5 1690.68,1336.22 1690.43,1335.94 1690.17,1335.66 1689.92,1335.39 1689.66,1335.11 1689.39,1334.83 1689.13,1334.55 1688.86,1334.27 1688.6,1334 1688.33,1333.72 1688.07,1333.44 1687.81,1333.16 1687.55,1332.88 1687.3,1332.6 1687.05,1332.33 1686.8,1332.05 1686.56,1331.77 1686.33,1331.49 1686.1,1331.21 1685.89,1330.93 1685.68,1330.66 1685.47,1330.38 1685.27,1330.1 1685.08,1329.82 1684.88,1329.54 1684.69,1329.27 1684.5,1328.99 1684.31,1328.71 1684.13,1328.43 1683.95,1328.15 1683.77,1327.87 1683.6,1327.6 1683.42,1327.32 1683.25,1327.04 1683.08,1326.76 1682.92,1326.48 1682.75,1326.21 1682.59,1325.93 1682.43,1325.65 1682.27,1325.37 1682.11,1325.09 1681.96,1324.81 1681.8,1324.54 1681.65,1324.26 1681.49,1323.98 1681.33,1323.7 1681.17,1323.42 1681.01,1323.14 1680.85,1322.87 1680.69,1322.59 1680.52,1322.31 1680.36,1322.03 1680.2,1321.75 1680.04,1321.48 1679.88,1321.2 1679.71,1320.92 1679.55,1320.64 1679.39,1320.36 1679.24,1320.08 1679.08,1319.81 1678.92,1319.53 1678.77,1319.25 1678.62,1318.97 1678.47,1318.69 1678.32,1318.42 1678.17,1318.14 1678.03,1317.86 1677.89,1317.58 1677.75,1317.3 1677.62,1317.02 1677.49,1316.75 1677.36,1316.47 1677.24,1316.19 1677.12,1315.91 1677,1315.63 1676.89,1315.35 1676.79,1315.08 1676.69,1314.8 1676.59,1314.52 1676.5,1314.24 1676.41,1313.96 1676.33,1313.69 1676.26,1313.41 1676.19,1313.13 1676.12,1312.85 1676.06,1312.57 1676.01,1312.29 1675.96,1312.02 1675.91,1311.74 1675.86,1311.46 1675.81,1311.18 1675.77,1310.9 1675.72,1310.63 1675.68,1310.35 1675.64,1310.07 1675.6,1309.79 1675.56,1309.51 1675.52,1309.23 1675.48,1308.96 1675.44,1308.68 1675.41,1308.4 1675.37,1308.12 1675.34,1307.84 1675.31,1307.56 1675.28,1307.29 1675.25,1307.01 1675.23,1306.73 1675.2,1306.45 1675.18,1306.17 1675.15,1305.9 1675.13,1305.62 1675.11,1305.34 1675.09,1305.06 1675.07,1304.78 1675.06,1304.5 1675.04,1304.23 1675.02,1303.95 1675.01,1303.67 1674.99,1303.39 1674.98,1303.11 1674.96,1302.84 1674.95,1302.56 1674.93,1302.28 1674.92,1302 1674.9,1301.72 1674.89,1301.44 1674.87,1301.17 1674.86,1300.89 1674.84,1300.61 1674.83,1300.33 1674.82,1300.05 1674.8,1299.77 1674.79,1299.5 1674.77,1299.22 1674.76,1298.94 1674.75,1298.66 1674.74,1298.38 1674.72,1298.11 1674.71,1297.83 1674.7,1297.55 1674.69,1297.27 1674.68,1296.99 1674.67,1296.71 1674.65,1296.44 1674.64,1296.16 1674.63,1295.88 1674.62,1295.6 1674.61,1295.32 1674.6,1295.05 1674.59,1294.77 1674.58,1294.49 1674.58,1294.21 1674.57,1293.93 1674.56,1293.65 1674.55,1293.38 1674.54,1293.1 1674.53,1292.82 1674.53,1292.54 1674.52,1292.26 1674.51,1291.98 1674.51,1291.71 1674.5,1291.43 1674.5,1291.15 1674.49,1290.87 1674.49,1290.59 1674.48,1290.32 1674.48,1290.04 1674.47,1289.76 1674.47,1289.48 1674.47,1289.2 1674.46,1288.92 1674.46,1288.65 1674.46,1288.37 1674.46,1288.09 1674.46,1287.81 1674.45,1287.53 1674.45,1287.26 1674.45,1286.98" fill="#9b2226" fill-opacity="0.22"/>
<polygon points="1719.38,1294.27 1719.3,1294.79 1719.26,1295.3 1719.26,1295.81 1719.25,1296.32 1719.25,1296.84 1719.24,1297.35 1719.24,1297.86 1719.23,1298.37 1719.22,1298.89 1719.21,1299.4 1719.2,1299.91 1719.19,1300.42 1719.18,1300.94 1719.17,1301.45 1719.16,1301.96 1719.14,1302.47 1719.13,1302.99 1719.11,1303.5 1719.1,1304.01 1719.08,1304.52 1719.06,1305.04 1719.05,1305.55 1719.03,1306.06 1719.01,1306.57 1718.99,1307.09 1718.97,1307.6 1718.95,1308.11 1718.93,1308.62 1718.91,1309.14 1718.88,1309.65 1718.86,1310.16 1718.84,1310.67 1718.81,1311.19 1718.79,1311.7 1718.76,1312.21 1718.74,1312.72 1718.71,1313.24 1718.69,1313.75 1718.66,1314.26 1718.64,1314.77 1718.61,1315.29 1718.58,1315.8 1718.55,1316.31 1718.52,1316.82 1718.49,1317.34 1718.46,1317.85 1718.42,1318.36 1718.37,1318.87 1718.33,1319.39 1718.28,1319.9 1718.23,1320.41 1718.17,1320.92 1718.11,1321.44 1718.05,1321.95 1717.98,1322.46 1717.91,1322.97 1717.84,1323.49 1717.76,1324 1717.68,1324.51 1717.59,1325.02 1717.49,1325.54 1717.38,1326.05 1717.25,1326.56 1717.11,1327.07 1716.96,1327.59 1716.8,1328.1 1716.63,1328.61 1716.44,1329.12 1716.25,1329.64 1716.04,1330.15 1715.83,1330.66 1715.61,1331.17 1715.37,1331.69 1715.13,1332.2 1714.84,1332.71 1714.5,1333.22 1714.13,1333.74 1713.74,1334.25 1713.32,1334.76 1712.89,1335.27 1712.46,1335.79 1712.04,1336.3 1711.62,1336.81 1711.22,1337.32 1710.8,1337.84 1710.39,1338.35 1709.96,1338.86 1709.53,1339.37 1709.1,1339.89 1708.67,1340.4 1708.23,1340.91 1707.8,1341.42 1707.36,1341.94 1706.94,1342.45 1706.51,1342.96 1706.08,1343.47 1705.65,1343.99 1705.21,1344.5 1704.77,1345.01 1704.33,1345.52 1703.89,1346.04 1703.46,1346.55 1703.04,1347.06 1702.63,1347.57 1702.23,1348.09 1701.85,1348.6 1701.49,1349.11 1701.11,1349.62 1700.71,1350.14 1700.29,1350.65 1699.88,1351.16 1699.48,1351.67 1699.11,1352.19 1698.76,1352.7 1698.47,1353.21 1698.23,1353.72 1698.06,1354.24 1697.97,1354.75 1697.98,1355.26 1698.09,1355.77 1698.3,1356.29 1698.59,1356.8 1698.95,1357.31 1699.36,1357.82 1699.82,1358.34 1700.3,1358.85 1700.81,1359.36 1701.31,1359.87 1701.8,1360.39 1702.27,1360.9 1702.72,1361.41 1703.21,1361.92 1703.72,1362.44 1704.26,1362.95 1704.82,1363.46 1705.39,1363.97 1705.96,1364.49 1706.52,1365 1707.06,1365.51 1707.59,1366.02 1708.07,1366.54 1708.52,1367.05 1708.94,1367.56 1709.34,1368.07 1709.73,1368.59 1710.11,1369.1 1710.48,1369.61 1710.84,1370.12 1711.18,1370.64 1711.52,1371.15 1711.84,1371.66 1712.15,1372.17 1712.46,1372.69 1712.75,1373.2 1713.03,1373.71 1713.31,1374.22 1713.58,1374.74 1713.85,1375.25 1714.11,1375.76 1714.36,1376.27 1714.6,1376.79 1714.83,1377.3 1715.05,1377.81 1715.25,1378.32 1715.44,1378.84 1715.61,1379.35 1715.77,1379.86 1715.93,1380.37 1716.08,1380.89 1716.22,1381.4 1716.36,1381.91 1716.49,1382.42 1716.61,1382.94 1716.73,1383.45 1716.83,1383.96 1716.93,1384.47 1717.03,1384.99 1717.11,1385.5 1717.2,1386.01 1717.28,1386.52 1717.36,1387.04 1717.44,1387.55 1717.51,1388.06 1717.58,1388.57 1717.65,1389.09 1717.72,1389.6 1717.78,1390.11 1717.84,1390.62 1717.89,1391.14 1717.94,1391.65 1717.98,1392.16 1718.02,1392.67 1718.05,1393.19 1718.07,1393.7 1718.09,1394.21 1718.12,1394.72 1718.14,1395.24 1718.16,1395.75 1718.18,1396.26 1718.2,1396.77 1718.23,1397.29 1718.25,1397.8 1718.27,1398.31 1718.29,1398.82 1718.31,1399.34 1718.33,1399.85 1718.35,1400.36 1718.37,1400.87 1718.39,1401.39 1718.41,1401.9 1718.43,1402.41 1718.45,1402.92 1718.47,1403.44 1718.49,1403.95 1718.5,1404.46 1718.52,1404.97 1718.54,1405.49 1718.56,1406 1718.58,1406.51 1718.59,1407.02 1718.61,1407.54 1718.63,1408.05 1718.64,1408.56 1718.66,1409.07 1718.68,1409.59 1718.69,1410.1 1718.71,1410.61 1718.72,1411.12 1718.74,1411.64 1718.75,1412.15 1718.77,1412.66 1718.78,1413.17 1718.8,1413.69 1718.81,1414.2 1718.82,1414.71 1718.84,1415.22 1718.85,1415.74 1718.87,1416.25 1718.88,1416.76 1718.89,1417.27 1718.9,1417.79 1718.92,1418.3 1718.93,1418.81 1718.94,1419.32 1718.95,1419.84 1718.96,1420.35 1718.97,1420.86 1718.99,1421.37 1719,1421.89 1719.01,1422.4 1719.02,1422.91 1719.03,1423.42 1719.04,1423.94 1719.05,1424.45 1719.06,1424.96 1719.07,1425.47 1719.08,1425.99 1719.08,1426.5 1719.09,1427.01 1719.1,1427.52 1719.11,1428.04 1719.12,1428.55 1719.13,1429.06 1719.13,1429.57 1719.14,1430.09 1719.15,1430.6 1719.15,1431.11 1719.16,1431.62 1719.17,1432.14 1719.17,1432.65 1719.18,1433.16 1719.19,1433.67 1719.19,1434.19 1719.2,1434.7 1719.2,1435.21 1719.21,1435.72 1719.21,1436.24 1719.22,1436.75 1719.22,1437.26 1719.22,1437.77 1719.23,1438.29 1719.23,1438.8 1719.24,1439.31 1719.24,1439.82 1719.24,1440.34 1719.24,1440.85 1719.25,1441.36 1719.25,1441.87 1719.25,1442.39 1719.25,1442.9 1719.26,1443.41 1719.26,1443.92 1719.26,1444.44 1719.26,1444.95 1719.26,1445.46 1719.26,1445.97 1719.26,1446.49 1719.31,1447 1719.38,1447.51 1719.54,1447.51 1719.62,1447 1719.66,1446.49 1719.66,1445.97 1719.66,1445.46 1719.67,1444.95 1719.67,1444.44 1719.67,1443.92 1719.67,1443.41 1719.67,1442.9 1719.67,1442.39 1719.68,1441.87 1719.68,1441.36 1719.68,1440.85 1719.68,1440.34 1719.69,1439.82 1719.69,1439.31 1719.69,1438.8 1719.7,1438.29 1719.7,1437.77 1719.7,1437.26 1719.71,1436.75 1719.71,1436.24 1719.72,1435.72 1719.72,1435.21 1719.73,1434.7 1719.73,1434.19 1719.74,1433.67 1719.75,1433.16 1719.75,1432.65 1719.76,1432.14 1719.76,1431.62 1719.77,1431.11 1719.78,1430.6 1719.79,1430.09 1719.79,1429.57 1719.8,1429.06 1719.81,1428.55 1719.82,1428.04 1719.82,1427.52 1719.83,1427.01 1719.84,1426.5 1719.85,1425.99 1719.86,1425.47 1719.87,1424.96 1719.88,1424.45 1719.89,1423.94 1719.9,1423.42 1719.91,1422.91 1719.92,1422.4 1719.93,1421.89 1719.94,1421.37 1719.95,1420.86 1719.96,1420.35 1719.97,1419.84 1719.98,1419.32 1720,1418.81 1720.01,1418.3 1720.02,1417.79 1720.03,1417.27 1720.05,1416.76 1720.06,1416.25 1720.07,1415.74 1720.09,1415.22 1720.1,1414.71 1720.11,1414.2 1720.13,1413.69 1720.14,1413.17 1720.16,1412.66 1720.17,1412.15 1720.19,1411.64 1720.2,1411.12 1720.22,1410.61 1720.23,1410.1 1720.25,1409.59 1720.27,1409.07 1720.28,1408.56 1720.3,1408.05 1720.32,1407.54 1720.33,1407.02 1720.35,1406.51 1720.37,1406 1720.38,1405.49 1720.4,1404.97 1720.42,1404.46 1720.44,1403.95 1720.46,1403.44 1720.48,1402.92 1720.5,1402.41 1720.51,1401.9 1720.53,1401.39 1720.55,1400.87 1720.57,1400.36 1720.59,1399.85 1720.61,1399.34 1720.64,1398.82 1720.66,1398.31 1720.68,1397.8 1720.7,1397.29 1720.72,1396.77 1720.74,1396.26 1720.76,1395.75 1720.79,1395.24 1720.81,1394.72 1720.83,1394.21 1720.85,1393.7 1720.88,1393.19 1720.91,1392.67 1720.95,1392.16 1720.99,1391.65 1721.04,1391.14 1721.09,1390.62 1721.14,1390.11 1721.21,1389.6 1721.27,1389.09 1721.34,1388.57 1721.41,1388.06 1721.49,1387.55 1721.57,1387.04 1721.65,1386.52 1721.73,1386.01 1721.81,1385.5 1721.9,1384.99 1721.99,1384.47 1722.09,1383.96 1722.2,1383.45 1722.31,1382.94 1722.44,1382.42 1722.57,1381.91 1722.7,1381.4 1722.85,1380.89 1723,1380.37 1723.16,1379.86 1723.32,1379.35 1723.49,1378.84 1723.68,1378.32 1723.88,1377.81 1724.1,1377.3 1724.32,1376.79 1724.56,1376.27 1724.82,1375.76 1725.07,1375.25 1725.34,1374.74 1725.62,1374.22 1725.9,1373.71 1726.18,1373.2 1726.47,1372.69 1726.77,1372.17 1727.08,1371.66 1727.41,1371.15 1727.74,1370.64 1728.09,1370.12 1728.44,1369.61 1728.81,1369.1 1729.19,1368.59 1729.58,1368.07 1729.99,1367.56 1730.4,1367.05 1730.85,1366.54 1731.34,1366.02 1731.86,1365.51 1732.41,1365 1732.97,1364.49 1733.53,1363.97 1734.1,1363.46 1734.66,1362.95 1735.2,1362.44 1735.72,1361.92 1736.2,1361.41 1736.65,1360.9 1737.12,1360.39 1737.62,1359.87 1738.12,1359.36 1738.62,1358.85 1739.11,1358.34 1739.56,1357.82 1739.98,1357.31 1740.34,1356.8 1740.63,1356.29 1740.83,1355.77 1740.95,1355.26 1740.95,1354.75 1740.86,1354.24 1740.7,1353.72 1740.46,1353.21 1740.16,1352.7 1739.82,1352.19 1739.44,1351.67 1739.04,1351.16 1738.63,1350.65 1738.22,1350.14 1737.82,1349.62 1737.44,1349.11 1737.08,1348.6 1736.7,1348.09 1736.3,1347.57 1735.89,1347.06 1735.46,1346.55 1735.03,1346.04 1734.6,1345.52 1734.16,1345.01 1733.72,1344.5 1733.28,1343.99 1732.84,1343.47 1732.42,1342.96 1731.99,1342.45 1731.56,1341.94 1731.13,1341.42 1730.69,1340.91 1730.26,1340.4 1729.83,1339.89 1729.39,1339.37 1728.96,1338.86 1728.54,1338.35 1728.12,1337.84 1727.71,1337.32 1727.3,1336.81 1726.89,1336.3 1726.46,1335.79 1726.03,1335.27 1725.6,1334.76 1725.19,1334.25 1724.79,1333.74 1724.42,1333.22 1724.09,1332.71 1723.8,1332.2 1723.55,1331.69 1723.32,1331.17 1723.1,1330.66 1722.88,1330.15 1722.68,1329.64 1722.48,1329.12 1722.3,1328.61 1722.12,1328.1 1721.96,1327.59 1721.81,1327.07 1721.67,1326.56 1721.55,1326.05 1721.43,1325.54 1721.33,1325.02 1721.24,1324.51 1721.16,1324 1721.09,1323.49 1721.01,1322.97 1720.94,1322.46 1720.88,1321.95 1720.81,1321.44 1720.75,1320.92 1720.7,1320.41 1720.65,1319.9 1720.6,1319.39 1720.55,1318.87 1720.51,1318.36 1720.47,1317.85 1720.43,1317.34 1720.4,1316.82 1720.37,1316.31 1720.34,1315.8 1720.32,1315.29 1720.29,1314.77 1720.26,1314.26 1720.24,1313.75 1720.21,1313.24 1720.19,1312.72 1720.16,1312.21 1720.14,1311.7 1720.11,1311.19 1720.09,1310.67 1720.06,1310.16 1720.04,1309.65 1720.02,1309.14 1720,1308.62 1719.98,1308.11 1719.96,1307.6 1719.94,1307.09 1719.92,1306.57 1719.9,1306.06 1719.88,1305.55 1719.86,1305.04 1719.84,1304.52 1719.83,1304.01 1719.81,1303.5 1719.8,1302.99 1719.78,1302.47 1719.77,1301.96 1719.75,1301.45 1719.74,1300.94 1719.73,1300.42 1719.72,1299.91 1719.71,1299.4 1719.7,1298.89 1719.69,1298.37 1719.69,1297.86 1719.68,1297.35 1719.67,1296.84 1719.67,1296.32 1719.67,1295.81 1719.66,1295.3 1719.63,1294.79 1719.54,1294.27" fill="#eca524" fill-opacity="0.22"/>
<polygon points="1855.01,1235.9 1854.98,1236.48 1854.95,1237.07 1854.91,1237.66 1854.88,1238.24 1854.88,1238.83 1854.88,1239.41 1854.87,1240 1854.87,1240.58 1854.87,1241.17 1854.86,1241.76 1854.86,1242.34 1854.85,1242.93 1854.85,1243.51 1854.84,1244.1 1854.83,1244.68 1854.82,1245.27 1854.82,1245.86 1854.81,1246.44 1854.8,1247.03 1854.79,1247.61 1854.78,1248.2 1854.77,1248.78 1854.76,1249.37 1854.75,1249.96 1854.74,1250.54 1854.73,1251.13 1854.72,1251.71 1854.71,1252.3 1854.69,1252.88 1854.68,1253.47 1854.67,1254.06 1854.65,1254.64 1854.64,1255.23 1854.63,1255.81 1854.61,1256.4 1854.6,1256.98 1854.58,1257.57 1854.57,1258.16 1854.55,1258.74 1854.54,1259.33 1854.52,1259.91 1854.51,1260.5 1854.49,1261.08 1854.47,1261.67 1854.46,1262.26 1854.44,1262.84 1854.42,1263.43 1854.4,1264.01 1854.39,1264.6 1854.37,1265.18 1854.35,1265.77 1854.33,1266.36 1854.31,1266.94 1854.3,1267.53 1854.28,1268.11 1854.26,1268.7 1854.24,1269.28 1854.22,1269.87 1854.2,1270.46 1854.18,1271.04 1854.16,1271.63 1854.14,1272.21 1854.12,1272.8 1854.1,1273.38 1854.08,1273.97 1854.06,1274.56 1854.04,1275.14 1854.02,1275.73 1854,1276.31 1853.98,1276.9 1853.96,1277.48 1853.94,1278.07 1853.92,1278.66 1853.9,1279.24 1853.88,1279.83 1853.86,1280.41 1853.84,1281 1853.82,1281.58 1853.8,1282.17 1853.77,1282.75 1853.75,1283.34 1853.73,1283.93 1853.7,1284.51 1853.68,1285.1 1853.65,1285.68 1853.62,1286.27 1853.6,1286.85 1853.57,1287.44 1853.54,1288.03 1853.51,1288.61 1853.47,1289.2 1853.44,1289.78 1853.4,1290.37 1853.37,1290.95 1853.33,1291.54 1853.29,1292.13 1853.25,1292.71 1853.21,1293.3 1853.17,1293.88 1853.12,1294.47 1853.07,1295.05 1853.03,1295.64 1852.97,1296.23 1852.92,1296.81 1852.87,1297.4 1852.8,1297.98 1852.72,1298.57 1852.62,1299.15 1852.52,1299.74 1852.41,1300.33 1852.29,1300.91 1852.16,1301.5 1852.04,1302.08 1851.91,1302.67 1851.78,1303.25 1851.65,1303.84 1851.53,1304.43 1851.41,1305.01 1851.3,1305.6 1851.2,1306.18 1851.1,1306.77 1851.01,1307.35 1850.91,1307.94 1850.82,1308.53 1850.72,1309.11 1850.63,1309.7 1850.54,1310.28 1850.45,1310.87 1850.36,1311.45 1850.28,1312.04 1850.2,1312.63 1850.12,1313.21 1850.05,1313.8 1849.98,1314.38 1849.92,1314.97 1849.86,1315.55 1849.81,1316.14 1849.76,1316.73 1849.72,1317.31 1849.68,1317.9 1849.64,1318.48 1849.6,1319.07 1849.57,1319.65 1849.53,1320.24 1849.49,1320.83 1849.46,1321.41 1849.41,1322 1849.37,1322.58 1849.32,1323.17 1849.26,1323.75 1849.2,1324.34 1849.14,1324.93 1849.06,1325.51 1848.97,1326.1 1848.88,1326.68 1848.78,1327.27 1848.67,1327.85 1848.56,1328.44 1848.43,1329.03 1848.3,1329.61 1848.16,1330.2 1848.01,1330.78 1847.85,1331.37 1847.68,1331.95 1847.51,1332.54 1847.32,1333.13 1847.12,1333.71 1846.89,1334.3 1846.61,1334.88 1846.29,1335.47 1845.94,1336.05 1845.55,1336.64 1845.14,1337.23 1844.71,1337.81 1844.26,1338.4 1843.8,1338.98 1843.34,1339.57 1842.87,1340.15 1842.4,1340.74 1841.93,1341.33 1841.48,1341.91 1841.05,1342.5 1840.62,1343.08 1840.18,1343.67 1839.74,1344.25 1839.29,1344.84 1838.84,1345.43 1838.39,1346.01 1837.94,1346.6 1837.49,1347.18 1837.05,1347.77 1836.58,1348.35 1836.03,1348.94 1835.46,1349.53 1834.92,1350.11 1834.49,1350.7 1834.23,1351.28 1834.19,1351.87 1834.23,1352.45 1834.29,1353.04 1834.4,1353.63 1834.52,1354.21 1834.67,1354.8 1834.84,1355.38 1835.03,1355.97 1835.27,1356.55 1835.7,1357.14 1836.27,1357.73 1836.95,1358.31 1837.67,1358.9 1838.4,1359.48 1839.08,1360.07 1839.67,1360.65 1840.19,1361.24 1840.69,1361.83 1841.18,1362.41 1841.66,1363 1842.12,1363.58 1842.56,1364.17 1842.98,1364.75 1843.38,1365.34 1843.75,1365.93 1844.11,1366.51 1844.44,1367.1 1844.77,1367.68 1845.09,1368.27 1845.41,1368.85 1845.74,1369.44 1846.08,1370.03 1846.43,1370.61 1846.78,1371.2 1847.13,1371.78 1847.49,1372.37 1847.84,1372.95 1848.19,1373.54 1848.53,1374.13 1848.87,1374.71 1849.23,1375.3 1849.59,1375.88 1849.96,1376.47 1850.3,1377.05 1850.63,1377.64 1850.91,1378.23 1851.15,1378.81 1851.35,1379.4 1851.53,1379.98 1851.7,1380.57 1851.86,1381.15 1852,1381.74 1852.14,1382.33 1852.26,1382.91 1852.38,1383.5 1852.48,1384.08 1852.57,1384.67 1852.66,1385.25 1852.75,1385.84 1852.83,1386.43 1852.91,1387.01 1852.98,1387.6 1853.06,1388.18 1853.13,1388.77 1853.2,1389.35 1853.26,1389.94 1853.33,1390.53 1854.21,1391.11 1854.23,1391.7 1854.26,1392.28 1854.28,1392.87 1854.3,1393.45 1854.33,1394.04 1854.35,1394.63 1854.37,1395.21 1854.4,1395.8 1854.42,1396.38 1854.45,1396.97 1854.47,1397.55 1854.49,1398.14 1854.52,1398.73 1854.54,1399.31 1854.56,1399.9 1854.59,1400.48 1854.61,1401.07 1854.63,1401.65 1854.66,1402.24 1854.68,1402.83 1854.7,1403.41 1854.73,1404 1854.75,1404.58 1854.77,1405.17 1854.8,1405.75 1854.82,1406.34 1854.84,1406.93 1854.87,1407.51 1854.89,1408.1 1854.91,1408.68 1854.94,1409.27 1854.96,1409.85 1854.98,1410.44 1855.01,1411.03 1855.17,1411.03 1855.19,1410.44 1855.21,1409.85 1855.24,1409.27 1855.26,1408.68 1855.28,1408.1 1855.31,1407.51 1855.33,1406.93 1855.35,1406.34 1855.38,1405.75 1855.4,1405.17 1855.43,1404.58 1855.45,1404 1855.47,1403.41 1855.5,1402.83 1855.52,1402.24 1855.54,1401.65 1855.57,1401.07 1855.59,1400.48 1855.61,1399.9 1855.64,1399.31 1855.66,1398.73 1855.68,1398.14 1855.71,1397.55 1855.73,1396.97 1855.75,1396.38 1855.78,1395.8 1855.8,1395.21 1855.82,1394.63 1855.85,1394.04 1855.87,1393.45 1855.89,1392.87 1855.92,1392.28 1855.94,1391.7 1855.96,1391.11 1856.85,1390.53 1856.91,1389.94 1856.98,1389.35 1857.05,1388.77 1857.12,1388.18 1857.19,1387.6 1857.27,1387.01 1857.35,1386.43 1857.43,1385.84 1857.51,1385.25 1857.6,1384.67 1857.7,1384.08 1857.8,1383.5 1857.91,1382.91 1858.04,1382.33 1858.17,1381.74 1858.32,1381.15 1858.48,1380.57 1858.65,1379.98 1858.83,1379.4 1859.03,1378.81 1859.26,1378.23 1859.55,1377.64 1859.87,1377.05 1860.22,1376.47 1860.58,1375.88 1860.95,1375.3 1861.3,1374.71 1861.64,1374.13 1861.99,1373.54 1862.33,1372.95 1862.69,1372.37 1863.04,1371.78 1863.4,1371.2 1863.75,1370.61 1864.1,1370.03 1864.44,1369.44 1864.76,1368.85 1865.09,1368.27 1865.41,1367.68 1865.73,1367.1 1866.07,1366.51 1866.42,1365.93 1866.79,1365.34 1867.19,1364.75 1867.61,1364.17 1868.05,1363.58 1868.51,1363 1868.99,1362.41 1869.48,1361.83 1869.99,1361.24 1870.51,1360.65 1871.1,1360.07 1871.78,1359.48 1872.51,1358.9 1873.23,1358.31 1873.9,1357.73 1874.47,1357.14 1874.9,1356.55 1875.15,1355.97 1875.33,1355.38 1875.5,1354.8 1875.65,1354.21 1875.78,1353.63 1875.88,1353.04 1875.95,1352.45 1875.98,1351.87 1875.94,1351.28 1875.68,1350.7 1875.25,1350.11 1874.72,1349.53 1874.14,1348.94 1873.59,1348.35 1873.13,1347.77 1872.69,1347.18 1872.24,1346.6 1871.79,1346.01 1871.33,1345.43 1870.88,1344.84 1870.43,1344.25 1869.99,1343.67 1869.56,1343.08 1869.13,1342.5 1868.69,1341.91 1868.24,1341.33 1867.78,1340.74 1867.31,1340.15 1866.84,1339.57 1866.37,1338.98 1865.91,1338.4 1865.46,1337.81 1865.03,1337.23 1864.62,1336.64 1864.24,1336.05 1863.88,1335.47 1863.56,1334.88 1863.28,1334.3 1863.05,1333.71 1862.85,1333.13 1862.67,1332.54 1862.49,1331.95 1862.33,1331.37 1862.17,1330.78 1862.02,1330.2 1861.87,1329.61 1861.74,1329.03 1861.62,1328.44 1861.5,1327.85 1861.39,1327.27 1861.29,1326.68 1861.2,1326.1 1861.12,1325.51 1861.04,1324.93 1860.97,1324.34 1860.91,1323.75 1860.86,1323.17 1860.81,1322.58 1860.76,1322 1860.72,1321.41 1860.68,1320.83 1860.64,1320.24 1860.61,1319.65 1860.57,1319.07 1860.54,1318.48 1860.5,1317.9 1860.46,1317.31 1860.41,1316.73 1860.37,1316.14 1860.31,1315.55 1860.25,1314.97 1860.19,1314.38 1860.12,1313.8 1860.05,1313.21 1859.97,1312.63 1859.89,1312.04 1859.81,1311.45 1859.72,1310.87 1859.64,1310.28 1859.55,1309.7 1859.45,1309.11 1859.36,1308.53 1859.26,1307.94 1859.17,1307.35 1859.07,1306.77 1858.98,1306.18 1858.88,1305.6 1858.77,1305.01 1858.65,1304.43 1858.52,1303.84 1858.4,1303.25 1858.27,1302.67 1858.14,1302.08 1858.01,1301.5 1857.89,1300.91 1857.77,1300.33 1857.65,1299.74 1857.55,1299.15 1857.46,1298.57 1857.38,1297.98 1857.31,1297.4 1857.25,1296.81 1857.2,1296.23 1857.15,1295.64 1857.1,1295.05 1857.05,1294.47 1857.01,1293.88 1856.97,1293.3 1856.92,1292.71 1856.88,1292.13 1856.84,1291.54 1856.81,1290.95 1856.77,1290.37 1856.74,1289.78 1856.7,1289.2 1856.67,1288.61 1856.64,1288.03 1856.61,1287.44 1856.58,1286.85 1856.55,1286.27 1856.52,1285.68 1856.5,1285.1 1856.47,1284.51 1856.45,1283.93 1856.42,1283.34 1856.4,1282.75 1856.38,1282.17 1856.36,1281.58 1856.33,1281 1856.31,1280.41 1856.29,1279.83 1856.27,1279.24 1856.25,1278.66 1856.23,1278.07 1856.21,1277.48 1856.19,1276.9 1856.17,1276.31 1856.15,1275.73 1856.13,1275.14 1856.11,1274.56 1856.09,1273.97 1856.07,1273.38 1856.05,1272.8 1856.03,1272.21 1856.01,1271.63 1855.99,1271.04 1855.97,1270.46 1855.95,1269.87 1855.94,1269.28 1855.92,1268.7 1855.9,1268.11 1855.88,1267.53 1855.86,1266.94 1855.84,1266.36 1855.82,1265.77 1855.81,1265.18 1855.79,1264.6 1855.77,1264.01 1855.75,1263.43 1855.74,1262.84 1855.72,1262.26 1855.7,1261.67 1855.69,1261.08 1855.67,1260.5 1855.65,1259.91 1855.64,1259.33 1855.62,1258.74 1855.61,1258.16 1855.59,1257.57 1855.58,1256.98 1855.56,1256.4 1855.55,1255.81 1855.53,1255.23 1855.52,1254.64 1855.51,1254.06 1855.49,1253.47 1855.48,1252.88 1855.47,1252.3 1855.46,1251.71 1855.45,1251.13 1855.43,1250.54 1855.42,1249.96 1855.41,1249.37 1855.4,1248.78 1855.39,1248.2 1855.38,1247.61 1855.38,1247.03 1855.37,1246.44 1855.36,1245.86 1855.35,1245.27 1855.34,1244.68 1855.34,1244.1 1855.33,1243.51 1855.32,1242.93 1855.32,1242.34 1855.31,1241.76 1855.31,1241.17 1855.3,1240.58 1855.3,1240 1855.3,1239.41 1855.29,1238.83 1855.29,1238.24 1855.26,1237.66 1855.23,1237.07 1855.2,1236.48 1855.17,1235.9" fill="#5291f8" fill-opacity="0.22"/>
<polygon points="1900.22,1301.57 1900.2,1301.77 1900.19,1301.96 1900.18,1302.16 1900.17,1302.35 1900.16,1302.55 1900.15,1302.74 1900.14,1302.94 1900.12,1303.13 1900.11,1303.33 1900.1,1303.52 1900.09,1303.72 1900.09,1303.91 1900.09,1304.11 1900.09,1304.3 1900.09,1304.5 1900.09,1304.69 1900.09,1304.89 1900.09,1305.09 1900.09,1305.28 1900.09,1305.48 1900.09,1305.67 1900.08,1305.87 1900.08,1306.06 1900.08,1306.26 1900.08,1306.45 1900.08,1306.65 1900.08,1306.84 1900.08,1307.04 1900.08,1307.23 1900.07,1307.43 1900.07,1307.62 1900.07,1307.82 1900.07,1308.01 1900.07,1308.21 1900.07,1308.4 1900.06,1308.6 1900.06,1308.79 1900.06,1308.99 1900.06,1309.19 1900.06,1309.38 1900.05,1309.58 1900.05,1309.77 1900.05,1309.97 1900.05,1310.16 1900.05,1310.36 1900.04,1310.55 1900.04,1310.75 1900.04,1310.94 1900.04,1311.14 1900.03,1311.33 1900.03,1311.53 1900.03,1311.72 1900.03,1311.92 1900.02,1312.11 1900.02,1312.31 1900.02,1312.5 1900.02,1312.7 1900.01,1312.89 1900.01,1313.09 1900.01,1313.29 1900,1313.48 1900,1313.68 1900,1313.87 1899.99,1314.07 1899.99,1314.26 1899.99,1314.46 1899.98,1314.65 1899.98,1314.85 1899.98,1315.04 1899.97,1315.24 1899.97,1315.43 1899.97,1315.63 1899.96,1315.82 1899.96,1316.02 1899.95,1316.21 1899.95,1316.41 1899.95,1316.6 1899.94,1316.8 1899.94,1316.99 1899.93,1317.19 1899.93,1317.39 1899.93,1317.58 1899.92,1317.78 1899.92,1317.97 1899.91,1318.17 1899.91,1318.36 1899.9,1318.56 1899.9,1318.75 1899.89,1318.95 1899.89,1319.14 1899.88,1319.34 1899.88,1319.53 1899.87,1319.73 1899.87,1319.92 1899.86,1320.12 1899.86,1320.31 1899.85,1320.51 1899.85,1320.7 1899.84,1320.9 1899.84,1321.09 1899.83,1321.29 1899.83,1321.49 1899.82,1321.68 1899.82,1321.88 1899.81,1322.07 1899.81,1322.27 1899.8,1322.46 1899.79,1322.66 1899.79,1322.85 1899.78,1323.05 1899.78,1323.24 1899.77,1323.44 1899.76,1323.63 1899.76,1323.83 1899.75,1324.02 1899.75,1324.22 1899.74,1324.41 1899.73,1324.61 1899.73,1324.8 1899.72,1325 1899.71,1325.19 1899.71,1325.39 1899.7,1325.59 1899.69,1325.78 1899.69,1325.98 1899.68,1326.17 1899.67,1326.37 1899.66,1326.56 1899.66,1326.76 1899.65,1326.95 1899.64,1327.15 1899.64,1327.34 1899.63,1327.54 1899.62,1327.73 1899.61,1327.93 1899.61,1328.12 1899.6,1328.32 1899.59,1328.51 1899.58,1328.71 1899.57,1328.9 1899.57,1329.1 1899.56,1329.29 1899.55,1329.49 1899.54,1329.69 1899.53,1329.88 1899.53,1330.08 1899.52,1330.27 1899.51,1330.47 1899.5,1330.66 1899.49,1330.86 1899.48,1331.05 1899.47,1331.25 1899.46,1331.44 1899.45,1331.64 1899.43,1331.83 1899.42,1332.03 1899.4,1332.22 1899.39,1332.42 1899.37,1332.61 1899.35,1332.81 1899.33,1333 1899.31,1333.2 1899.29,1333.39 1899.26,1333.59 1899.24,1333.79 1899.21,1333.98 1899.18,1334.18 1899.15,1334.37 1899.12,1334.57 1899.09,1334.76 1899.05,1334.96 1899.02,1335.15 1898.98,1335.35 1898.94,1335.54 1898.9,1335.74 1898.86,1335.93 1898.81,1336.13 1898.76,1336.32 1898.72,1336.52 1898.67,1336.71 1898.61,1336.91 1898.56,1337.1 1898.5,1337.3 1898.45,1337.49 1898.39,1337.69 1898.32,1337.89 1898.26,1338.08 1898.19,1338.28 1898.13,1338.47 1898.05,1338.67 1897.98,1338.86 1897.91,1339.06 1897.83,1339.25 1897.75,1339.45 1897.67,1339.64 1897.58,1339.84 1897.45,1340.03 1897.27,1340.23 1897.03,1340.42 1896.74,1340.62 1896.42,1340.81 1896.06,1341.01 1895.66,1341.2 1895.25,1341.4 1894.82,1341.59 1894.38,1341.79 1893.93,1341.99 1893.48,1342.18 1893.04,1342.38 1892.62,1342.57 1892.18,1342.77 1891.73,1342.96 1891.24,1343.16 1890.74,1343.35 1890.23,1343.55 1889.69,1343.74 1889.15,1343.94 1888.61,1344.13 1888.06,1344.33 1887.52,1344.52 1886.97,1344.72 1886.44,1344.91 1885.92,1345.11 1885.42,1345.3 1884.91,1345.5 1884.36,1345.69 1883.76,1345.89 1883.14,1346.09 1882.52,1346.28 1881.9,1346.48 1881.31,1346.67 1880.75,1346.87 1880.24,1347.06 1879.8,1347.26 1879.44,1347.45 1879.18,1347.65 1879.03,1347.84 1879,1348.04 1879,1348.23 1879,1348.43 1879,1348.62 1879,1348.82 1879,1349.01 1879,1349.21 1879,1349.4 1879,1349.6 1879,1349.79 1879.11,1349.99 1879.78,1350.19 1880.94,1350.38 1882.46,1350.58 1884.2,1350.77 1886.03,1350.97 1887.81,1351.16 1889.42,1351.36 1890.75,1351.55 1892.14,1351.75 1893.62,1351.94 1895.09,1352.14 1896.44,1352.33 1897.57,1352.53 1898.39,1352.72 1898.78,1352.92 1898.87,1353.11 1898.96,1353.31 1899.03,1353.5 1899.11,1353.7 1899.18,1353.89 1899.25,1354.09 1899.32,1354.29 1899.38,1354.48 1899.44,1354.68 1899.5,1354.87 1899.55,1355.07 1899.6,1355.26 1899.65,1355.46 1899.69,1355.65 1899.73,1355.85 1899.77,1356.04 1899.81,1356.24 1899.84,1356.43 1899.87,1356.63 1899.9,1356.82 1899.93,1357.02 1899.95,1357.21 1899.97,1357.41 1899.99,1357.6 1900.01,1357.8 1900.03,1357.99 1900.04,1358.19 1900.05,1358.39 1900.06,1358.58 1900.07,1358.78 1900.08,1358.97 1900.09,1359.17 1900.09,1359.36 1900.09,1359.56 1900.13,1359.75 1900.22,1359.95 1900.38,1359.95 1900.46,1359.75 1900.5,1359.56 1900.5,1359.36 1900.51,1359.17 1900.51,1358.97 1900.52,1358.78 1900.53,1358.58 1900.54,1358.39 1900.55,1358.19 1900.56,1357.99 1900.58,1357.8 1900.6,1357.6 1900.62,1357.41 1900.64,1357.21 1900.67,1357.02 1900.69,1356.82 1900.72,1356.63 1900.75,1356.43 1900.79,1356.24 1900.82,1356.04 1900.86,1355.85 1900.9,1355.65 1900.95,1355.46 1900.99,1355.26 1901.04,1355.07 1901.1,1354.87 1901.15,1354.68 1901.21,1354.48 1901.27,1354.29 1901.34,1354.09 1901.41,1353.89 1901.48,1353.7 1901.56,1353.5 1901.64,1353.31 1901.72,1353.11 1901.81,1352.92 1902.21,1352.72 1903.02,1352.53 1904.15,1352.33 1905.5,1352.14 1906.97,1351.94 1908.45,1351.75 1909.84,1351.55 1911.17,1351.36 1912.78,1351.16 1914.56,1350.97 1916.39,1350.77 1918.13,1350.58 1919.65,1350.38 1920.81,1350.19 1921.48,1349.99 1921.6,1349.79 1921.6,1349.6 1921.6,1349.4 1921.6,1349.21 1921.6,1349.01 1921.6,1348.82 1921.6,1348.62 1921.6,1348.43 1921.6,1348.23 1921.6,1348.04 1921.56,1347.84 1921.41,1347.65 1921.15,1347.45 1920.79,1347.26 1920.35,1347.06 1919.84,1346.87 1919.28,1346.67 1918.69,1346.48 1918.07,1346.28 1917.45,1346.09 1916.83,1345.89 1916.24,1345.69 1915.68,1345.5 1915.17,1345.3 1914.67,1345.11 1914.15,1344.91 1913.62,1344.72 1913.08,1344.52 1912.53,1344.33 1911.98,1344.13 1911.44,1343.94 1910.9,1343.74 1910.37,1343.55 1909.85,1343.35 1909.35,1343.16 1908.87,1342.96 1908.41,1342.77 1907.98,1342.57 1907.55,1342.38 1907.11,1342.18 1906.66,1341.99 1906.21,1341.79 1905.77,1341.59 1905.34,1341.4 1904.93,1341.2 1904.54,1341.01 1904.17,1340.81 1903.85,1340.62 1903.56,1340.42 1903.32,1340.23 1903.14,1340.03 1903.01,1339.84 1902.92,1339.64 1902.84,1339.45 1902.76,1339.25 1902.69,1339.06 1902.61,1338.86 1902.54,1338.67 1902.47,1338.47 1902.4,1338.28 1902.33,1338.08 1902.27,1337.89 1902.21,1337.69 1902.15,1337.49 1902.09,1337.3 1902.03,1337.1 1901.98,1336.91 1901.93,1336.71 1901.88,1336.52 1901.83,1336.32 1901.78,1336.13 1901.74,1335.93 1901.69,1335.74 1901.65,1335.54 1901.61,1335.35 1901.58,1335.15 1901.54,1334.96 1901.5,1334.76 1901.47,1334.57 1901.44,1334.37 1901.41,1334.18 1901.38,1333.98 1901.36,1333.79 1901.33,1333.59 1901.31,1333.39 1901.28,1333.2 1901.26,1333 1901.24,1332.81 1901.22,1332.61 1901.2,1332.42 1901.19,1332.22 1901.17,1332.03 1901.16,1331.83 1901.14,1331.64 1901.13,1331.44 1901.12,1331.25 1901.11,1331.05 1901.1,1330.86 1901.09,1330.66 1901.08,1330.47 1901.07,1330.27 1901.07,1330.08 1901.06,1329.88 1901.05,1329.69 1901.04,1329.49 1901.03,1329.29 1901.03,1329.1 1901.02,1328.9 1901.01,1328.71 1901,1328.51 1900.99,1328.32 1900.99,1328.12 1900.98,1327.93 1900.97,1327.73 1900.96,1327.54 1900.96,1327.34 1900.95,1327.15 1900.94,1326.95 1900.93,1326.76 1900.93,1326.56 1900.92,1326.37 1900.91,1326.17 1900.91,1325.98 1900.9,1325.78 1900.89,1325.59 1900.89,1325.39 1900.88,1325.19 1900.87,1325 1900.87,1324.8 1900.86,1324.61 1900.85,1324.41 1900.85,1324.22 1900.84,1324.02 1900.83,1323.83 1900.83,1323.63 1900.82,1323.44 1900.82,1323.24 1900.81,1323.05 1900.8,1322.85 1900.8,1322.66 1900.79,1322.46 1900.79,1322.27 1900.78,1322.07 1900.77,1321.88 1900.77,1321.68 1900.76,1321.49 1900.76,1321.29 1900.75,1321.09 1900.75,1320.9 1900.74,1320.7 1900.74,1320.51 1900.73,1320.31 1900.73,1320.12 1900.72,1319.92 1900.72,1319.73 1900.71,1319.53 1900.71,1319.34 1900.7,1319.14 1900.7,1318.95 1900.69,1318.75 1900.69,1318.56 1900.68,1318.36 1900.68,1318.17 1900.67,1317.97 1900.67,1317.78 1900.67,1317.58 1900.66,1317.39 1900.66,1317.19 1900.65,1316.99 1900.65,1316.8 1900.65,1316.6 1900.64,1316.41 1900.64,1316.21 1900.63,1316.02 1900.63,1315.82 1900.63,1315.63 1900.62,1315.43 1900.62,1315.24 1900.61,1315.04 1900.61,1314.85 1900.61,1314.65 1900.6,1314.46 1900.6,1314.26 1900.6,1314.07 1900.59,1313.87 1900.59,1313.68 1900.59,1313.48 1900.59,1313.29 1900.58,1313.09 1900.58,1312.89 1900.58,1312.7 1900.57,1312.5 1900.57,1312.31 1900.57,1312.11 1900.56,1311.92 1900.56,1311.72 1900.56,1311.53 1900.56,1311.33 1900.55,1311.14 1900.55,1310.94 1900.55,1310.75 1900.55,1310.55 1900.55,1310.36 1900.54,1310.16 1900.54,1309.97 1900.54,1309.77 1900.54,1309.58 1900.53,1309.38 1900.53,1309.19 1900.53,1308.99 1900.53,1308.79 1900.53,1308.6 1900.53,1308.4 1900.52,1308.21 1900.52,1308.01 1900.52,1307.82 1900.52,1307.62 1900.52,1307.43 1900.52,1307.23 1900.51,1307.04 1900.51,1306.84 1900.51,1306.65 1900.51,1306.45 1900.51,1306.26 1900.51,1306.06 1900.51,1305.87 1900.51,1305.67 1900.51,1305.48 1900.5,1305.28 1900.5,1305.09 1900.5,1304.89 1900.5,1304.69 1900.5,1304.5 1900.5,1304.3 1900.5,1304.11 1900.5,1303.91 1900.5,1303.72 1900.49,1303.52 1900.48,1303.33 1900.47,1303.13 1900.46,1302.94 1900.44,1302.74 1900.43,1302.55 1900.42,1302.35 1900.41,1302.16 1900.4,1301.96 1900.39,1301.77 1900.38,1301.57" fill="#9b2226" fill-opacity="0.22"/>
<polygon points="1945.42,1286.98 1945.4,1287.51 1945.39,1288.05 1945.37,1288.59 1945.35,1289.12 1945.33,1289.66 1945.31,1290.2 1945.29,1290.74 1945.27,1291.27 1945.27,1291.81 1945.26,1292.35 1945.25,1292.88 1945.24,1293.42 1945.23,1293.96 1945.21,1294.49 1945.2,1295.03 1945.19,1295.57 1945.17,1296.1 1945.16,1296.64 1945.14,1297.18 1945.12,1297.72 1945.1,1298.25 1945.09,1298.79 1945.07,1299.33 1945.05,1299.86 1945.02,1300.4 1945,1300.94 1944.98,1301.47 1944.96,1302.01 1944.93,1302.55 1944.91,1303.08 1944.88,1303.62 1944.86,1304.16 1944.83,1304.69 1944.8,1305.23 1944.78,1305.77 1944.75,1306.31 1944.72,1306.84 1944.69,1307.38 1944.67,1307.92 1944.65,1308.45 1944.64,1308.99 1944.56,1309.53 1944.51,1310.06 1944.45,1310.6 1944.39,1311.14 1944.31,1311.67 1944.24,1312.21 1944.15,1312.75 1944.06,1313.29 1943.97,1313.82 1943.88,1314.36 1943.78,1314.9 1943.68,1315.43 1943.57,1315.97 1943.46,1316.51 1943.35,1317.04 1943.23,1317.58 1943.1,1318.12 1942.97,1318.65 1942.83,1319.19 1942.68,1319.73 1942.52,1320.26 1942.36,1320.8 1942.19,1321.34 1942.01,1321.88 1941.82,1322.41 1941.62,1322.95 1941.41,1323.49 1941.2,1324.02 1940.97,1324.56 1940.71,1325.1 1940.4,1325.63 1940.06,1326.17 1939.67,1326.71 1939.26,1327.24 1938.83,1327.78 1938.37,1328.32 1937.9,1328.86 1937.41,1329.39 1936.93,1329.93 1936.44,1330.47 1935.96,1331 1935.49,1331.54 1935.03,1332.08 1934.59,1332.61 1934.18,1333.15 1933.8,1333.69 1933.42,1334.22 1933.06,1334.76 1932.69,1335.3 1932.33,1335.84 1931.98,1336.37 1931.63,1336.91 1931.28,1337.45 1930.94,1337.98 1930.6,1338.52 1930.27,1339.06 1929.94,1339.59 1929.62,1340.13 1929.3,1340.67 1928.99,1341.2 1928.68,1341.74 1928.37,1342.28 1928.07,1342.81 1927.76,1343.35 1927.44,1343.89 1927.11,1344.43 1926.78,1344.96 1926.45,1345.5 1926.12,1346.04 1925.79,1346.57 1925.48,1347.11 1925.18,1347.65 1924.9,1348.18 1924.63,1348.72 1924.39,1349.26 1924.18,1349.79 1924,1350.33 1923.85,1350.87 1923.74,1351.41 1923.66,1351.94 1923.59,1352.48 1923.52,1353.02 1923.46,1353.55 1923.41,1354.09 1923.36,1354.63 1923.33,1355.16 1923.31,1355.7 1923.31,1356.24 1923.39,1356.77 1923.58,1357.31 1923.86,1357.85 1924.21,1358.39 1924.61,1358.92 1925.04,1359.46 1925.47,1360 1925.9,1360.53 1926.33,1361.07 1926.84,1361.61 1927.42,1362.14 1928.03,1362.68 1928.64,1363.22 1929.24,1363.75 1929.78,1364.29 1930.24,1364.83 1930.6,1365.36 1930.91,1365.9 1931.18,1366.44 1931.43,1366.98 1931.67,1367.51 1931.88,1368.05 1932.09,1368.59 1932.3,1369.12 1932.52,1369.66 1932.74,1370.2 1932.95,1370.73 1933.16,1371.27 1933.36,1371.81 1933.56,1372.34 1933.75,1372.88 1933.94,1373.42 1934.13,1373.96 1934.32,1374.49 1934.51,1375.03 1934.7,1375.57 1934.9,1376.1 1935.1,1376.64 1935.3,1377.18 1935.51,1377.71 1935.72,1378.25 1935.95,1378.79 1936.18,1379.32 1936.42,1379.86 1936.66,1380.4 1936.91,1380.94 1937.17,1381.47 1937.43,1382.01 1937.69,1382.55 1937.96,1383.08 1938.23,1383.62 1938.51,1384.16 1938.78,1384.69 1939.06,1385.23 1939.34,1385.77 1939.63,1386.3 1939.91,1386.84 1940.19,1387.38 1940.48,1387.91 1940.78,1388.45 1941.11,1388.99 1941.47,1389.53 1941.82,1390.06 1942.17,1390.6 1942.47,1391.14 1942.74,1391.67 1942.93,1392.21 1943.06,1392.75 1943.16,1393.28 1943.27,1393.82 1943.36,1394.36 1943.45,1394.89 1943.54,1395.43 1943.62,1395.97 1943.69,1396.51 1943.76,1397.04 1943.83,1397.58 1943.89,1398.12 1943.95,1398.65 1944,1399.19 1944.05,1399.73 1944.09,1400.26 1944.13,1400.8 1944.17,1401.34 1944.21,1401.87 1944.24,1402.41 1944.27,1402.95 1944.29,1403.48 1944.32,1404.02 1944.34,1404.56 1944.36,1405.1 1944.39,1405.63 1944.41,1406.17 1944.43,1406.71 1944.45,1407.24 1944.47,1407.78 1944.5,1408.32 1944.52,1408.85 1944.54,1409.39 1944.56,1409.93 1944.58,1410.46 1944.6,1411 1944.62,1411.54 1944.64,1412.08 1944.66,1412.61 1944.68,1413.15 1944.7,1413.69 1944.72,1414.22 1944.73,1414.76 1944.75,1415.3 1944.77,1415.83 1944.79,1416.37 1944.8,1416.91 1944.82,1417.44 1944.84,1417.98 1944.85,1418.52 1944.87,1419.06 1944.89,1419.59 1944.9,1420.13 1944.92,1420.67 1944.93,1421.2 1944.95,1421.74 1944.96,1422.28 1944.98,1422.81 1944.99,1423.35 1945,1423.89 1945.02,1424.42 1945.03,1424.96 1945.04,1425.5 1945.05,1426.03 1945.07,1426.57 1945.08,1427.11 1945.09,1427.65 1945.1,1428.18 1945.11,1428.72 1945.12,1429.26 1945.13,1429.79 1945.14,1430.33 1945.15,1430.87 1945.16,1431.4 1945.17,1431.94 1945.18,1432.48 1945.19,1433.01 1945.2,1433.55 1945.21,1434.09 1945.21,1434.63 1945.22,1435.16 1945.23,1435.7 1945.23,1436.24 1945.24,1436.77 1945.25,1437.31 1945.25,1437.85 1945.26,1438.38 1945.26,1438.92 1945.27,1439.46 1945.27,1439.99 1945.28,1440.53 1945.28,1441.07 1945.28,1441.61 1945.29,1442.14 1945.29,1442.68 1945.29,1443.22 1945.3,1443.75 1945.3,1444.29 1945.3,1444.83 1945.3,1445.36 1945.3,1445.9 1945.3,1446.44 1945.3,1446.97 1945.42,1447.51 1945.58,1447.51 1945.7,1446.97 1945.7,1446.44 1945.71,1445.9 1945.71,1445.36 1945.71,1444.83 1945.71,1444.29 1945.71,1443.75 1945.71,1443.22 1945.72,1442.68 1945.72,1442.14 1945.72,1441.61 1945.73,1441.07 1945.73,1440.53 1945.74,1439.99 1945.74,1439.46 1945.74,1438.92 1945.75,1438.38 1945.76,1437.85 1945.76,1437.31 1945.77,1436.77 1945.77,1436.24 1945.78,1435.7 1945.79,1435.16 1945.8,1434.63 1945.8,1434.09 1945.81,1433.55 1945.82,1433.01 1945.83,1432.48 1945.84,1431.94 1945.85,1431.4 1945.86,1430.87 1945.87,1430.33 1945.88,1429.79 1945.89,1429.26 1945.9,1428.72 1945.91,1428.18 1945.92,1427.65 1945.93,1427.11 1945.94,1426.57 1945.95,1426.03 1945.97,1425.5 1945.98,1424.96 1945.99,1424.42 1946.01,1423.89 1946.02,1423.35 1946.03,1422.81 1946.05,1422.28 1946.06,1421.74 1946.08,1421.2 1946.09,1420.67 1946.11,1420.13 1946.12,1419.59 1946.14,1419.06 1946.15,1418.52 1946.17,1417.98 1946.19,1417.44 1946.2,1416.91 1946.22,1416.37 1946.24,1415.83 1946.26,1415.3 1946.27,1414.76 1946.29,1414.22 1946.31,1413.69 1946.33,1413.15 1946.35,1412.61 1946.37,1412.08 1946.39,1411.54 1946.41,1411 1946.43,1410.46 1946.45,1409.93 1946.47,1409.39 1946.49,1408.85 1946.51,1408.32 1946.53,1407.78 1946.56,1407.24 1946.58,1406.71 1946.6,1406.17 1946.62,1405.63 1946.64,1405.1 1946.67,1404.56 1946.69,1404.02 1946.72,1403.48 1946.74,1402.95 1946.77,1402.41 1946.8,1401.87 1946.84,1401.34 1946.87,1400.8 1946.92,1400.26 1946.96,1399.73 1947.01,1399.19 1947.06,1398.65 1947.12,1398.12 1947.18,1397.58 1947.25,1397.04 1947.32,1396.51 1947.39,1395.97 1947.47,1395.43 1947.56,1394.89 1947.65,1394.36 1947.74,1393.82 1947.84,1393.28 1947.95,1392.75 1948.08,1392.21 1948.27,1391.67 1948.53,1391.14 1948.84,1390.6 1949.18,1390.06 1949.54,1389.53 1949.89,1388.99 1950.23,1388.45 1950.53,1387.91 1950.81,1387.38 1951.1,1386.84 1951.38,1386.3 1951.66,1385.77 1951.94,1385.23 1952.22,1384.69 1952.5,1384.16 1952.78,1383.62 1953.05,1383.08 1953.32,1382.55 1953.58,1382.01 1953.84,1381.47 1954.1,1380.94 1954.35,1380.4 1954.59,1379.86 1954.83,1379.32 1955.06,1378.79 1955.28,1378.25 1955.5,1377.71 1955.71,1377.18 1955.91,1376.64 1956.11,1376.1 1956.3,1375.57 1956.5,1375.03 1956.69,1374.49 1956.88,1373.96 1957.07,1373.42 1957.26,1372.88 1957.45,1372.34 1957.65,1371.81 1957.85,1371.27 1958.06,1370.73 1958.27,1370.2 1958.49,1369.66 1958.7,1369.12 1958.91,1368.59 1959.12,1368.05 1959.34,1367.51 1959.57,1366.98 1959.82,1366.44 1960.1,1365.9 1960.4,1365.36 1960.76,1364.83 1961.23,1364.29 1961.77,1363.75 1962.36,1363.22 1962.98,1362.68 1963.59,1362.14 1964.17,1361.61 1964.68,1361.07 1965.11,1360.53 1965.54,1360 1965.97,1359.46 1966.4,1358.92 1966.8,1358.39 1967.15,1357.85 1967.43,1357.31 1967.62,1356.77 1967.7,1356.24 1967.7,1355.7 1967.68,1355.16 1967.65,1354.63 1967.6,1354.09 1967.55,1353.55 1967.49,1353.02 1967.42,1352.48 1967.35,1351.94 1967.27,1351.41 1967.16,1350.87 1967.01,1350.33 1966.83,1349.79 1966.61,1349.26 1966.37,1348.72 1966.11,1348.18 1965.83,1347.65 1965.53,1347.11 1965.22,1346.57 1964.89,1346.04 1964.56,1345.5 1964.23,1344.96 1963.9,1344.43 1963.57,1343.89 1963.25,1343.35 1962.94,1342.81 1962.64,1342.28 1962.33,1341.74 1962.02,1341.2 1961.71,1340.67 1961.39,1340.13 1961.07,1339.59 1960.74,1339.06 1960.41,1338.52 1960.07,1337.98 1959.73,1337.45 1959.38,1336.91 1959.03,1336.37 1958.68,1335.84 1958.32,1335.3 1957.95,1334.76 1957.58,1334.22 1957.21,1333.69 1956.83,1333.15 1956.42,1332.61 1955.98,1332.08 1955.52,1331.54 1955.05,1331 1954.57,1330.47 1954.08,1329.93 1953.59,1329.39 1953.11,1328.86 1952.64,1328.32 1952.18,1327.78 1951.75,1327.24 1951.33,1326.71 1950.95,1326.17 1950.61,1325.63 1950.3,1325.1 1950.04,1324.56 1949.81,1324.02 1949.59,1323.49 1949.39,1322.95 1949.19,1322.41 1949,1321.88 1948.82,1321.34 1948.65,1320.8 1948.49,1320.26 1948.33,1319.73 1948.18,1319.19 1948.04,1318.65 1947.91,1318.12 1947.78,1317.58 1947.66,1317.04 1947.54,1316.51 1947.43,1315.97 1947.33,1315.43 1947.23,1314.9 1947.13,1314.36 1947.04,1313.82 1946.94,1313.29 1946.86,1312.75 1946.77,1312.21 1946.69,1311.67 1946.62,1311.14 1946.56,1310.6 1946.5,1310.06 1946.45,1309.53 1946.37,1308.99 1946.35,1308.45 1946.33,1307.92 1946.32,1307.38 1946.29,1306.84 1946.26,1306.31 1946.23,1305.77 1946.2,1305.23 1946.18,1304.69 1946.15,1304.16 1946.12,1303.62 1946.1,1303.08 1946.07,1302.55 1946.05,1302.01 1946.03,1301.47 1946.01,1300.94 1945.98,1300.4 1945.96,1299.86 1945.94,1299.33 1945.92,1298.79 1945.9,1298.25 1945.89,1297.72 1945.87,1297.18 1945.85,1296.64 1945.84,1296.1 1945.82,1295.57 1945.81,1295.03 1945.8,1294.49 1945.78,1293.96 1945.77,1293.42 1945.76,1292.88 1945.75,1292.35 1945.74,1291.81 1945.73,1291.27 1945.72,1290.74 1945.7,1290.2 1945.68,1289.66 1945.66,1289.12 1945.64,1288.59 1945.62,1288.05 1945.6,1287.51 1945.58,1286.98" fill="#eca524" fill-opacity="0.22"/>
<polygon points="2080.93,1330.76 2080.93,1330.88 2080.93,1331 2080.93,1331.13 2080.93,1331.25 2080.93,1331.37 2080.92,1331.49 2080.92,1331.61 2080.92,1331.74 2080.92,1331.86 2080.92,1331.98 2080.91,1332.1 2080.91,1332.22 2080.91,1332.35 2080.9,1332.47 2080.9,1332.59 2080.9,1332.71 2080.89,1332.83 2080.89,1332.96 2080.88,1333.08 2080.88,1333.2 2080.87,1333.32 2080.87,1333.44 2080.86,1333.57 2080.86,1333.69 2080.85,1333.81 2080.84,1333.93 2080.84,1334.05 2080.83,1334.18 2080.82,1334.3 2080.81,1334.42 2080.81,1334.54 2080.8,1334.66 2080.79,1334.79 2080.78,1334.91 2080.77,1335.03 2080.76,1335.15 2080.75,1335.27 2080.74,1335.4 2080.73,1335.52 2080.72,1335.64 2080.71,1335.76 2080.7,1335.88 2080.69,1336.01 2080.68,1336.13 2080.67,1336.25 2080.65,1336.37 2080.64,1336.49 2080.63,1336.62 2080.62,1336.74 2080.6,1336.86 2080.59,1336.98 2080.57,1337.1 2080.56,1337.23 2080.55,1337.35 2080.53,1337.47 2080.52,1337.59 2080.5,1337.71 2080.48,1337.84 2080.47,1337.96 2080.45,1338.08 2080.44,1338.2 2080.42,1338.32 2080.4,1338.45 2080.38,1338.57 2080.37,1338.69 2080.35,1338.81 2080.33,1338.93 2080.31,1339.06 2080.29,1339.18 2080.27,1339.3 2080.25,1339.42 2080.23,1339.54 2080.21,1339.67 2080.19,1339.79 2080.17,1339.91 2080.15,1340.03 2080.12,1340.15 2080.1,1340.28 2080.08,1340.4 2080.06,1340.52 2080.03,1340.64 2080.01,1340.76 2079.99,1340.89 2079.96,1341.01 2079.94,1341.13 2079.91,1341.25 2079.89,1341.38 2079.86,1341.5 2079.84,1341.62 2079.81,1341.74 2079.78,1341.86 2079.76,1341.99 2079.73,1342.11 2079.7,1342.23 2079.67,1342.35 2079.65,1342.47 2079.62,1342.6 2079.59,1342.72 2079.56,1342.84 2079.53,1342.96 2079.5,1343.08 2079.47,1343.21 2079.44,1343.33 2079.41,1343.45 2079.37,1343.57 2079.34,1343.69 2079.31,1343.82 2079.28,1343.94 2079.24,1344.06 2079.21,1344.18 2079.18,1344.3 2079.14,1344.43 2079.11,1344.55 2079.05,1344.67 2078.99,1344.79 2078.9,1344.91 2078.8,1345.04 2078.69,1345.16 2078.57,1345.28 2078.43,1345.4 2078.28,1345.52 2078.12,1345.65 2077.95,1345.77 2077.77,1345.89 2077.58,1346.01 2077.39,1346.13 2077.18,1346.26 2076.97,1346.38 2076.75,1346.5 2076.53,1346.62 2076.3,1346.74 2076.07,1346.87 2075.84,1346.99 2075.6,1347.11 2075.36,1347.23 2075.12,1347.35 2074.88,1347.48 2074.64,1347.6 2074.4,1347.72 2074.16,1347.84 2073.93,1347.96 2073.7,1348.09 2073.47,1348.21 2073.25,1348.33 2073.03,1348.45 2072.82,1348.57 2072.61,1348.7 2072.41,1348.82 2072.22,1348.94 2072.04,1349.06 2071.84,1349.18 2071.63,1349.31 2071.42,1349.43 2071.19,1349.55 2070.97,1349.67 2070.73,1349.79 2070.5,1349.92 2070.26,1350.04 2070.03,1350.16 2069.8,1350.28 2069.58,1350.4 2069.37,1350.53 2069.17,1350.65 2068.98,1350.77 2068.8,1350.89 2068.64,1351.01 2068.5,1351.14 2068.38,1351.26 2068.28,1351.38 2068.2,1351.5 2068.15,1351.63 2068.13,1351.75 2068.14,1351.87 2068.16,1351.99 2068.2,1352.11 2068.26,1352.24 2068.34,1352.36 2068.44,1352.48 2068.54,1352.6 2068.67,1352.72 2068.8,1352.85 2068.95,1352.97 2069.11,1353.09 2069.28,1353.21 2069.46,1353.33 2069.65,1353.46 2069.85,1353.58 2070.05,1353.7 2070.26,1353.82 2070.47,1353.94 2070.69,1354.07 2070.92,1354.19 2071.14,1354.31 2071.37,1354.43 2071.6,1354.55 2071.82,1354.68 2072.05,1354.8 2072.29,1354.92 2072.58,1355.04 2072.93,1355.16 2073.31,1355.29 2073.73,1355.41 2074.18,1355.53 2074.65,1355.65 2075.13,1355.77 2075.61,1355.9 2076.09,1356.02 2076.57,1356.14 2077.02,1356.26 2077.45,1356.38 2077.85,1356.51 2078.21,1356.63 2078.52,1356.75 2078.78,1356.87 2078.97,1356.99 2079.1,1357.12 2079.16,1357.24 2079.21,1357.36 2079.25,1357.48 2079.3,1357.6 2079.35,1357.73 2079.4,1357.85 2079.44,1357.97 2079.49,1358.09 2079.53,1358.21 2079.57,1358.34 2079.61,1358.46 2079.66,1358.58 2079.7,1358.7 2079.74,1358.82 2079.77,1358.95 2079.81,1359.07 2079.85,1359.19 2079.89,1359.31 2079.92,1359.43 2079.96,1359.56 2079.99,1359.68 2080.03,1359.8 2080.06,1359.92 2080.09,1360.04 2080.12,1360.17 2080.15,1360.29 2080.18,1360.41 2080.21,1360.53 2080.24,1360.65 2080.27,1360.78 2080.3,1360.9 2080.32,1361.02 2080.35,1361.14 2080.38,1361.26 2080.4,1361.39 2080.42,1361.51 2080.45,1361.63 2080.47,1361.75 2080.49,1361.87 2080.51,1362 2080.53,1362.12 2080.56,1362.24 2080.57,1362.36 2080.59,1362.49 2080.61,1362.61 2080.63,1362.73 2080.65,1362.85 2080.66,1362.97 2080.68,1363.1 2080.7,1363.22 2080.71,1363.34 2080.73,1363.46 2080.74,1363.58 2080.75,1363.71 2080.76,1363.83 2080.78,1363.95 2080.79,1364.07 2080.8,1364.19 2080.81,1364.32 2080.82,1364.44 2080.83,1364.56 2080.84,1364.68 2080.85,1364.8 2080.86,1364.93 2080.86,1365.05 2080.87,1365.17 2080.88,1365.29 2080.88,1365.41 2080.89,1365.54 2080.9,1365.66 2080.9,1365.78 2080.91,1365.9 2080.91,1366.02 2080.91,1366.15 2080.92,1366.27 2080.92,1366.39 2080.92,1366.51 2080.93,1366.63 2080.95,1366.76 2080.97,1366.88 2081,1367 2081.02,1367.12 2081.05,1367.24 2081.21,1367.24 2081.23,1367.12 2081.26,1367 2081.28,1366.88 2081.31,1366.76 2081.33,1366.63 2081.34,1366.51 2081.34,1366.39 2081.34,1366.27 2081.34,1366.15 2081.35,1366.02 2081.35,1365.9 2081.36,1365.78 2081.36,1365.66 2081.37,1365.54 2081.37,1365.41 2081.38,1365.29 2081.39,1365.17 2081.39,1365.05 2081.4,1364.93 2081.41,1364.8 2081.42,1364.68 2081.43,1364.56 2081.44,1364.44 2081.45,1364.32 2081.46,1364.19 2081.47,1364.07 2081.48,1363.95 2081.49,1363.83 2081.51,1363.71 2081.52,1363.58 2081.53,1363.46 2081.55,1363.34 2081.56,1363.22 2081.58,1363.1 2081.59,1362.97 2081.61,1362.85 2081.63,1362.73 2081.65,1362.61 2081.66,1362.49 2081.68,1362.36 2081.7,1362.24 2081.72,1362.12 2081.74,1362 2081.77,1361.87 2081.79,1361.75 2081.81,1361.63 2081.83,1361.51 2081.86,1361.39 2081.88,1361.26 2081.91,1361.14 2081.93,1361.02 2081.96,1360.9 2081.99,1360.78 2082.02,1360.65 2082.04,1360.53 2082.07,1360.41 2082.1,1360.29 2082.14,1360.17 2082.17,1360.04 2082.2,1359.92 2082.23,1359.8 2082.27,1359.68 2082.3,1359.56 2082.34,1359.43 2082.37,1359.31 2082.41,1359.19 2082.45,1359.07 2082.48,1358.95 2082.52,1358.82 2082.56,1358.7 2082.6,1358.58 2082.64,1358.46 2082.69,1358.34 2082.73,1358.21 2082.77,1358.09 2082.82,1357.97 2082.86,1357.85 2082.91,1357.73 2082.96,1357.6 2083,1357.48 2083.05,1357.36 2083.1,1357.24 2083.16,1357.12 2083.29,1356.99 2083.48,1356.87 2083.74,1356.75 2084.05,1356.63 2084.41,1356.51 2084.81,1356.38 2085.24,1356.26 2085.69,1356.14 2086.17,1356.02 2086.65,1355.9 2087.13,1355.77 2087.61,1355.65 2088.08,1355.53 2088.53,1355.41 2088.95,1355.29 2089.33,1355.16 2089.67,1355.04 2089.97,1354.92 2090.21,1354.8 2090.43,1354.68 2090.66,1354.55 2090.89,1354.43 2091.12,1354.31 2091.34,1354.19 2091.57,1354.07 2091.78,1353.94 2092,1353.82 2092.21,1353.7 2092.41,1353.58 2092.61,1353.46 2092.8,1353.33 2092.98,1353.21 2093.15,1353.09 2093.31,1352.97 2093.46,1352.85 2093.59,1352.72 2093.71,1352.6 2093.82,1352.48 2093.92,1352.36 2093.99,1352.24 2094.06,1352.11 2094.1,1351.99 2094.12,1351.87 2094.13,1351.75 2094.11,1351.63 2094.06,1351.5 2093.98,1351.38 2093.88,1351.26 2093.76,1351.14 2093.62,1351.01 2093.46,1350.89 2093.28,1350.77 2093.09,1350.65 2092.89,1350.53 2092.68,1350.4 2092.45,1350.28 2092.23,1350.16 2091.99,1350.04 2091.76,1349.92 2091.53,1349.79 2091.29,1349.67 2091.06,1349.55 2090.84,1349.43 2090.62,1349.31 2090.42,1349.18 2090.22,1349.06 2090.04,1348.94 2089.85,1348.82 2089.65,1348.7 2089.44,1348.57 2089.23,1348.45 2089.01,1348.33 2088.79,1348.21 2088.56,1348.09 2088.33,1347.96 2088.09,1347.84 2087.86,1347.72 2087.62,1347.6 2087.38,1347.48 2087.14,1347.35 2086.9,1347.23 2086.66,1347.11 2086.42,1346.99 2086.19,1346.87 2085.96,1346.74 2085.73,1346.62 2085.51,1346.5 2085.29,1346.38 2085.08,1346.26 2084.87,1346.13 2084.68,1346.01 2084.49,1345.89 2084.31,1345.77 2084.14,1345.65 2083.98,1345.52 2083.83,1345.4 2083.69,1345.28 2083.57,1345.16 2083.45,1345.04 2083.36,1344.91 2083.27,1344.79 2083.2,1344.67 2083.15,1344.55 2083.11,1344.43 2083.08,1344.3 2083.05,1344.18 2083.01,1344.06 2082.98,1343.94 2082.95,1343.82 2082.92,1343.69 2082.88,1343.57 2082.85,1343.45 2082.82,1343.33 2082.79,1343.21 2082.76,1343.08 2082.73,1342.96 2082.7,1342.84 2082.67,1342.72 2082.64,1342.6 2082.61,1342.47 2082.58,1342.35 2082.56,1342.23 2082.53,1342.11 2082.5,1341.99 2082.48,1341.86 2082.45,1341.74 2082.42,1341.62 2082.4,1341.5 2082.37,1341.38 2082.35,1341.25 2082.32,1341.13 2082.3,1341.01 2082.27,1340.89 2082.25,1340.76 2082.22,1340.64 2082.2,1340.52 2082.18,1340.4 2082.16,1340.28 2082.13,1340.15 2082.11,1340.03 2082.09,1339.91 2082.07,1339.79 2082.05,1339.67 2082.03,1339.54 2082.01,1339.42 2081.99,1339.3 2081.97,1339.18 2081.95,1339.06 2081.93,1338.93 2081.91,1338.81 2081.89,1338.69 2081.88,1338.57 2081.86,1338.45 2081.84,1338.32 2081.82,1338.2 2081.81,1338.08 2081.79,1337.96 2081.77,1337.84 2081.76,1337.71 2081.74,1337.59 2081.73,1337.47 2081.71,1337.35 2081.7,1337.23 2081.68,1337.1 2081.67,1336.98 2081.66,1336.86 2081.64,1336.74 2081.63,1336.62 2081.62,1336.49 2081.6,1336.37 2081.59,1336.25 2081.58,1336.13 2081.57,1336.01 2081.56,1335.88 2081.55,1335.76 2081.54,1335.64 2081.52,1335.52 2081.51,1335.4 2081.5,1335.27 2081.5,1335.15 2081.49,1335.03 2081.48,1334.91 2081.47,1334.79 2081.46,1334.66 2081.45,1334.54 2081.44,1334.42 2081.44,1334.3 2081.43,1334.18 2081.42,1334.05 2081.41,1333.93 2081.41,1333.81 2081.4,1333.69 2081.4,1333.57 2081.39,1333.44 2081.38,1333.32 2081.38,1333.2 2081.37,1333.08 2081.37,1332.96 2081.37,1332.83 2081.36,1332.71 2081.36,1332.59 2081.35,1332.47 2081.35,1332.35 2081.35,1332.22 2081.34,1332.1 2081.34,1331.98 2081.34,1331.86 2081.34,1331.74 2081.34,1331.61 2081.33,1331.49 2081.33,1331.37 2081.33,1331.25 2081.33,1331.13 2081.33,1331 2081.33,1330.88 2081.33,1330.76" fill="#5291f8" fill-opacity="0.22"/>
<polygon points="2126.26,1345.35 2126.25,1345.4 2126.25,1345.45 2126.24,1345.5 2126.23,1345.55 2126.23,1345.6 2126.22,1345.65 2126.22,1345.69 2126.21,1345.74 2126.21,1345.79 2126.2,1345.84 2126.19,1345.89 2126.19,1345.94 2126.18,1345.99 2126.18,1346.04 2126.17,1346.09 2126.17,1346.13 2126.16,1346.18 2126.16,1346.23 2126.15,1346.28 2126.14,1346.33 2126.14,1346.38 2126.13,1346.43 2126.13,1346.48 2126.12,1346.52 2126.12,1346.57 2126.11,1346.62 2126.1,1346.67 2126.1,1346.72 2126.09,1346.77 2126.09,1346.82 2126.08,1346.87 2126.08,1346.91 2126.07,1346.96 2126.06,1347.01 2126.06,1347.06 2126.05,1347.11 2126.05,1347.16 2126.04,1347.21 2126.04,1347.26 2126.03,1347.31 2126.02,1347.35 2126.02,1347.4 2126.01,1347.45 2126.01,1347.5 2126,1347.55 2126,1347.6 2125.99,1347.65 2125.98,1347.7 2125.98,1347.74 2125.97,1347.79 2125.97,1347.84 2125.96,1347.89 2125.96,1347.94 2125.95,1347.99 2125.94,1348.04 2125.94,1348.09 2125.93,1348.14 2125.93,1348.18 2125.92,1348.23 2125.92,1348.28 2125.91,1348.33 2125.9,1348.38 2125.9,1348.43 2125.89,1348.48 2125.89,1348.53 2125.88,1348.57 2125.88,1348.62 2125.87,1348.67 2125.86,1348.72 2125.86,1348.77 2125.85,1348.82 2125.85,1348.87 2125.84,1348.92 2125.84,1348.96 2125.83,1349.01 2125.82,1349.06 2125.82,1349.11 2125.81,1349.16 2125.81,1349.21 2125.8,1349.26 2125.8,1349.31 2125.79,1349.36 2125.79,1349.4 2125.78,1349.45 2125.77,1349.5 2125.77,1349.55 2125.76,1349.6 2125.76,1349.65 2125.75,1349.7 2125.75,1349.75 2125.74,1349.79 2125.73,1349.84 2125.73,1349.89 2125.72,1349.94 2125.72,1349.99 2125.71,1350.04 2125.71,1350.09 2125.7,1350.14 2125.69,1350.19 2125.69,1350.23 2125.68,1350.28 2125.68,1350.33 2125.67,1350.38 2125.67,1350.43 2125.66,1350.48 2125.65,1350.53 2125.65,1350.58 2125.64,1350.62 2125.64,1350.67 2125.63,1350.72 2125.63,1350.77 2125.62,1350.82 2125.61,1350.87 2125.61,1350.92 2125.6,1350.97 2125.6,1351.01 2125.59,1351.06 2125.59,1351.11 2125.58,1351.16 2125.57,1351.21 2125.57,1351.26 2125.56,1351.31 2125.56,1351.36 2125.55,1351.41 2125.55,1351.45 2125.54,1351.5 2125.53,1351.55 2125.53,1351.6 2125.52,1351.65 2125.52,1351.7 2125.51,1351.75 2125.51,1351.8 2125.5,1351.84 2125.49,1351.89 2125.49,1351.94 2125.48,1351.99 2125.48,1352.04 2125.47,1352.09 2125.47,1352.14 2125.46,1352.19 2121.58,1352.24 2121.53,1352.28 2121.48,1352.33 2121.44,1352.38 2121.41,1352.43 2121.38,1352.48 2121.36,1352.53 2121.35,1352.58 2121.34,1352.63 2121.34,1352.67 2121.35,1352.72 2121.36,1352.77 2121.38,1352.82 2121.41,1352.87 2121.44,1352.92 2121.48,1352.97 2121.53,1353.02 2121.58,1353.06 2125.46,1353.11 2125.47,1353.16 2125.47,1353.21 2125.48,1353.26 2125.48,1353.31 2125.49,1353.36 2125.49,1353.41 2125.5,1353.46 2125.51,1353.5 2125.51,1353.55 2125.52,1353.6 2125.52,1353.65 2125.53,1353.7 2125.53,1353.75 2125.54,1353.8 2125.55,1353.85 2125.55,1353.89 2125.56,1353.94 2125.56,1353.99 2125.57,1354.04 2125.57,1354.09 2125.58,1354.14 2125.59,1354.19 2125.59,1354.24 2125.6,1354.29 2125.6,1354.33 2125.61,1354.38 2125.61,1354.43 2125.62,1354.48 2125.63,1354.53 2125.63,1354.58 2125.64,1354.63 2125.64,1354.68 2125.65,1354.72 2125.65,1354.77 2125.66,1354.82 2125.67,1354.87 2125.67,1354.92 2125.68,1354.97 2125.68,1355.02 2125.69,1355.07 2125.69,1355.11 2125.7,1355.16 2125.71,1355.21 2125.71,1355.26 2125.72,1355.31 2125.72,1355.36 2125.73,1355.41 2125.73,1355.46 2125.74,1355.51 2125.75,1355.55 2125.75,1355.6 2125.76,1355.65 2125.76,1355.7 2125.77,1355.75 2125.77,1355.8 2125.78,1355.85 2125.79,1355.9 2125.79,1355.94 2125.8,1355.99 2125.8,1356.04 2125.81,1356.09 2125.81,1356.14 2125.82,1356.19 2125.82,1356.24 2125.83,1356.29 2125.84,1356.34 2125.84,1356.38 2125.85,1356.43 2125.85,1356.48 2125.86,1356.53 2125.86,1356.58 2125.87,1356.63 2125.88,1356.68 2125.88,1356.73 2125.89,1356.77 2125.89,1356.82 2125.9,1356.87 2125.9,1356.92 2125.91,1356.97 2125.92,1357.02 2125.92,1357.07 2125.93,1357.12 2125.93,1357.16 2125.94,1357.21 2125.94,1357.26 2125.95,1357.31 2125.96,1357.36 2125.96,1357.41 2125.97,1357.46 2125.97,1357.51 2125.98,1357.56 2125.98,1357.6 2125.99,1357.65 2126,1357.7 2126,1357.75 2126.01,1357.8 2126.01,1357.85 2126.02,1357.9 2126.02,1357.95 2126.03,1357.99 2126.04,1358.04 2126.04,1358.09 2126.05,1358.14 2126.05,1358.19 2126.06,1358.24 2126.06,1358.29 2126.07,1358.34 2126.08,1358.39 2126.08,1358.43 2126.09,1358.48 2126.09,1358.53 2126.1,1358.58 2126.1,1358.63 2126.11,1358.68 2126.12,1358.73 2126.12,1358.78 2126.13,1358.82 2126.13,1358.87 2126.14,1358.92 2126.14,1358.97 2126.15,1359.02 2126.16,1359.07 2126.16,1359.12 2126.17,1359.17 2126.17,1359.21 2126.18,1359.26 2126.18,1359.31 2126.19,1359.36 2126.19,1359.41 2126.2,1359.46 2126.21,1359.51 2126.21,1359.56 2126.22,1359.61 2126.22,1359.65 2126.23,1359.7 2126.23,1359.75 2126.24,1359.8 2126.25,1359.85 2126.25,1359.9 2126.26,1359.95 2126.42,1359.95 2126.42,1359.9 2126.43,1359.85 2126.43,1359.8 2126.44,1359.75 2126.45,1359.7 2126.45,1359.65 2126.46,1359.61 2126.46,1359.56 2126.47,1359.51 2126.47,1359.46 2126.48,1359.41 2126.49,1359.36 2126.49,1359.31 2126.5,1359.26 2126.5,1359.21 2126.51,1359.17 2126.51,1359.12 2126.52,1359.07 2126.53,1359.02 2126.53,1358.97 2126.54,1358.92 2126.54,1358.87 2126.55,1358.82 2126.55,1358.78 2126.56,1358.73 2126.57,1358.68 2126.57,1358.63 2126.58,1358.58 2126.58,1358.53 2126.59,1358.48 2126.59,1358.43 2126.6,1358.39 2126.61,1358.34 2126.61,1358.29 2126.62,1358.24 2126.62,1358.19 2126.63,1358.14 2126.63,1358.09 2126.64,1358.04 2126.65,1357.99 2126.65,1357.95 2126.66,1357.9 2126.66,1357.85 2126.67,1357.8 2126.67,1357.75 2126.68,1357.7 2126.69,1357.65 2126.69,1357.6 2126.7,1357.56 2126.7,1357.51 2126.71,1357.46 2126.71,1357.41 2126.72,1357.36 2126.72,1357.31 2126.73,1357.26 2126.74,1357.21 2126.74,1357.16 2126.75,1357.12 2126.75,1357.07 2126.76,1357.02 2126.76,1356.97 2126.77,1356.92 2126.78,1356.87 2126.78,1356.82 2126.79,1356.77 2126.79,1356.73 2126.8,1356.68 2126.8,1356.63 2126.81,1356.58 2126.82,1356.53 2126.82,1356.48 2126.83,1356.43 2126.83,1356.38 2126.84,1356.34 2126.84,1356.29 2126.85,1356.24 2126.86,1356.19 2126.86,1356.14 2126.87,1356.09 2126.87,1356.04 2126.88,1355.99 2126.88,1355.94 2126.89,1355.9 2126.9,1355.85 2126.9,1355.8 2126.91,1355.75 2126.91,1355.7 2126.92,1355.65 2126.92,1355.6 2126.93,1355.55 2126.94,1355.51 2126.94,1355.46 2126.95,1355.41 2126.95,1355.36 2126.96,1355.31 2126.96,1355.26 2126.97,1355.21 2126.98,1355.16 2126.98,1355.11 2126.99,1355.07 2126.99,1355.02 2127,1354.97 2127,1354.92 2127.01,1354.87 2127.02,1354.82 2127.02,1354.77 2127.03,1354.72 2127.03,1354.68 2127.04,1354.63 2127.04,1354.58 2127.05,1354.53 2127.06,1354.48 2127.06,1354.43 2127.07,1354.38 2127.07,1354.33 2127.08,1354.29 2127.08,1354.24 2127.09,1354.19 2127.09,1354.14 2127.1,1354.09 2127.11,1354.04 2127.11,1353.99 2127.12,1353.94 2127.12,1353.89 2127.13,1353.85 2127.13,1353.8 2127.14,1353.75 2127.15,1353.7 2127.15,1353.65 2127.16,1353.6 2127.16,1353.55 2127.17,1353.5 2127.17,1353.46 2127.18,1353.41 2127.19,1353.36 2127.19,1353.31 2127.2,1353.26 2127.2,1353.21 2127.21,1353.16 2127.21,1353.11 2131.09,1353.06 2131.14,1353.02 2131.19,1352.97 2131.23,1352.92 2131.27,1352.87 2131.29,1352.82 2131.31,1352.77 2131.33,1352.72 2131.34,1352.67 2131.34,1352.63 2131.33,1352.58 2131.31,1352.53 2131.29,1352.48 2131.27,1352.43 2131.23,1352.38 2131.19,1352.33 2131.14,1352.28 2131.09,1352.24 2127.21,1352.19 2127.21,1352.14 2127.2,1352.09 2127.2,1352.04 2127.19,1351.99 2127.19,1351.94 2127.18,1351.89 2127.17,1351.84 2127.17,1351.8 2127.16,1351.75 2127.16,1351.7 2127.15,1351.65 2127.15,1351.6 2127.14,1351.55 2127.13,1351.5 2127.13,1351.45 2127.12,1351.41 2127.12,1351.36 2127.11,1351.31 2127.11,1351.26 2127.1,1351.21 2127.09,1351.16 2127.09,1351.11 2127.08,1351.06 2127.08,1351.01 2127.07,1350.97 2127.07,1350.92 2127.06,1350.87 2127.06,1350.82 2127.05,1350.77 2127.04,1350.72 2127.04,1350.67 2127.03,1350.62 2127.03,1350.58 2127.02,1350.53 2127.02,1350.48 2127.01,1350.43 2127,1350.38 2127,1350.33 2126.99,1350.28 2126.99,1350.23 2126.98,1350.19 2126.98,1350.14 2126.97,1350.09 2126.96,1350.04 2126.96,1349.99 2126.95,1349.94 2126.95,1349.89 2126.94,1349.84 2126.94,1349.79 2126.93,1349.75 2126.92,1349.7 2126.92,1349.65 2126.91,1349.6 2126.91,1349.55 2126.9,1349.5 2126.9,1349.45 2126.89,1349.4 2126.88,1349.36 2126.88,1349.31 2126.87,1349.26 2126.87,1349.21 2126.86,1349.16 2126.86,1349.11 2126.85,1349.06 2126.84,1349.01 2126.84,1348.96 2126.83,1348.92 2126.83,1348.87 2126.82,1348.82 2126.82,1348.77 2126.81,1348.72 2126.8,1348.67 2126.8,1348.62 2126.79,1348.57 2126.79,1348.53 2126.78,1348.48 2126.78,1348.43 2126.77,1348.38 2126.76,1348.33 2126.76,1348.28 2126.75,1348.23 2126.75,1348.18 2126.74,1348.14 2126.74,1348.09 2126.73,1348.04 2126.72,1347.99 2126.72,1347.94 2126.71,1347.89 2126.71,1347.84 2126.7,1347.79 2126.7,1347.74 2126.69,1347.7 2126.69,1347.65 2126.68,1347.6 2126.67,1347.55 2126.67,1347.5 2126.66,1347.45 2126.66,1347.4 2126.65,1347.35 2126.65,1347.31 2126.64,1347.26 2126.63,1347.21 2126.63,1347.16 2126.62,1347.11 2126.62,1347.06 2126.61,1347.01 2126.61,1346.96 2126.6,1346.91 2126.59,1346.87 2126.59,1346.82 2126.58,1346.77 2126.58,1346.72 2126.57,1346.67 2126.57,1346.62 2126.56,1346.57 2126.55,1346.52 2126.55,1346.48 2126.54,1346.43 2126.54,1346.38 2126.53,1346.33 2126.53,1346.28 2126.52,1346.23 2126.51,1346.18 2126.51,1346.13 2126.5,1346.09 2126.5,1346.04 2126.49,1345.99 2126.49,1345.94 2126.48,1345.89 2126.47,1345.84 2126.47,1345.79 2126.46,1345.74 2126.46,1345.69 2126.45,1345.65 2126.45,1345.6 2126.44,1345.55 2126.43,1345.5 2126.43,1345.45 2126.42,1345.4 2126.42,1345.35" fill="#9b2226" fill-opacity="0.22"/>
<polygon points="2171.47,1286.98 2171.44,1287.54 2171.41,1288.1 2171.38,1288.66 2171.36,1289.22 2171.33,1289.78 2171.32,1290.34 2171.31,1290.91 2171.3,1291.47 2171.29,1292.03 2171.28,1292.59 2171.26,1293.15 2171.25,1293.71 2171.23,1294.27 2171.21,1294.84 2171.19,1295.4 2171.17,1295.96 2171.15,1296.52 2171.12,1297.08 2171.1,1297.64 2171.07,1298.2 2171.04,1298.76 2171.01,1299.33 2170.98,1299.89 2170.95,1300.45 2170.92,1301.01 2170.89,1301.57 2170.85,1302.13 2170.82,1302.69 2170.78,1303.25 2170.74,1303.82 2170.7,1304.38 2170.66,1304.94 2170.62,1305.5 2170.58,1306.06 2170.53,1306.62 2170.49,1307.18 2170.44,1307.75 2170.39,1308.31 2170.35,1308.87 2170.28,1309.43 2170.19,1309.99 2170.07,1310.55 2169.93,1311.11 2169.78,1311.67 2169.62,1312.24 2169.46,1312.8 2169.3,1313.36 2169.15,1313.92 2169.01,1314.48 2168.89,1315.04 2168.79,1315.6 2168.71,1316.16 2168.63,1316.73 2168.56,1317.29 2168.5,1317.85 2168.44,1318.41 2168.39,1318.97 2168.33,1319.53 2168.27,1320.09 2168.22,1320.66 2168.15,1321.22 2168.09,1321.78 2168.01,1322.34 2167.93,1322.9 2167.84,1323.46 2167.74,1324.02 2167.62,1324.58 2167.48,1325.15 2167.29,1325.71 2167.07,1326.27 2166.82,1326.83 2166.54,1327.39 2166.23,1327.95 2165.91,1328.51 2165.56,1329.08 2165.19,1329.64 2164.81,1330.2 2164.42,1330.76 2164.03,1331.32 2163.63,1331.88 2163.22,1332.44 2162.82,1333 2162.42,1333.57 2162,1334.13 2161.53,1334.69 2161.03,1335.25 2160.5,1335.81 2159.94,1336.37 2159.37,1336.93 2158.78,1337.49 2158.2,1338.06 2157.62,1338.62 2157.05,1339.18 2156.5,1339.74 2155.97,1340.3 2155.48,1340.86 2155.03,1341.42 2154.62,1341.99 2154.27,1342.55 2153.95,1343.11 2153.64,1343.67 2153.34,1344.23 2153.06,1344.79 2152.78,1345.35 2152.52,1345.91 2152.26,1346.48 2152.02,1347.04 2151.79,1347.6 2151.56,1348.16 2151.35,1348.72 2151.16,1349.28 2150.97,1349.84 2150.79,1350.4 2150.63,1350.97 2150.47,1351.53 2150.32,1352.09 2150.17,1352.65 2150.02,1353.21 2149.88,1353.77 2149.75,1354.33 2149.65,1354.9 2149.58,1355.46 2149.55,1356.02 2149.56,1356.58 2149.62,1357.14 2149.71,1357.7 2149.84,1358.26 2150,1358.82 2150.18,1359.39 2150.38,1359.95 2150.58,1360.51 2150.82,1361.07 2151.17,1361.63 2151.61,1362.19 2152.1,1362.75 2152.62,1363.31 2153.15,1363.88 2153.65,1364.44 2154.1,1365 2154.49,1365.56 2154.84,1366.12 2155.17,1366.68 2155.49,1367.24 2155.81,1367.81 2156.12,1368.37 2156.45,1368.93 2156.8,1369.49 2157.17,1370.05 2157.57,1370.61 2157.98,1371.17 2158.42,1371.73 2158.86,1372.3 2159.3,1372.86 2159.73,1373.42 2160.15,1373.98 2160.55,1374.54 2160.93,1375.1 2161.3,1375.66 2161.66,1376.22 2162.01,1376.79 2162.36,1377.35 2162.71,1377.91 2163.06,1378.47 2163.42,1379.03 2163.77,1379.59 2164.14,1380.15 2164.5,1380.72 2164.85,1381.28 2165.21,1381.84 2165.55,1382.4 2165.88,1382.96 2166.19,1383.52 2166.5,1384.08 2166.81,1384.64 2167.12,1385.21 2167.41,1385.77 2167.69,1386.33 2167.95,1386.89 2168.17,1387.45 2168.36,1388.01 2168.53,1388.57 2168.68,1389.13 2168.83,1389.7 2168.97,1390.26 2169.1,1390.82 2169.22,1391.38 2169.33,1391.94 2169.42,1392.5 2169.5,1393.06 2169.56,1393.63 2169.61,1394.19 2169.66,1394.75 2169.72,1395.31 2169.76,1395.87 2169.81,1396.43 2169.86,1396.99 2169.9,1397.55 2169.94,1398.12 2169.98,1398.68 2170.02,1399.24 2170.06,1399.8 2170.09,1400.36 2170.13,1400.92 2170.16,1401.48 2170.19,1402.05 2170.22,1402.61 2170.25,1403.17 2170.27,1403.73 2170.3,1404.29 2170.32,1404.85 2170.35,1405.41 2170.37,1405.97 2170.39,1406.54 2170.42,1407.1 2170.44,1407.66 2170.46,1408.22 2170.47,1408.78 2170.49,1409.34 2170.51,1409.9 2170.53,1410.46 2170.55,1411.03 2170.56,1411.59 2170.58,1412.15 2170.6,1412.71 2170.61,1413.27 2170.63,1413.83 2170.65,1414.39 2170.66,1414.96 2170.68,1415.52 2170.69,1416.08 2170.71,1416.64 2170.73,1417.2 2170.74,1417.76 2170.76,1418.32 2170.77,1418.88 2170.79,1419.45 2170.8,1420.01 2170.82,1420.57 2170.83,1421.13 2170.85,1421.69 2170.86,1422.25 2170.88,1422.81 2170.89,1423.37 2170.91,1423.94 2170.92,1424.5 2170.93,1425.06 2170.95,1425.62 2170.96,1426.18 2170.97,1426.74 2170.99,1427.3 2171,1427.87 2171.01,1428.43 2171.03,1428.99 2171.04,1429.55 2171.05,1430.11 2171.06,1430.67 2171.07,1431.23 2171.09,1431.79 2171.1,1432.36 2171.11,1432.92 2171.12,1433.48 2171.13,1434.04 2171.14,1434.6 2171.15,1435.16 2171.16,1435.72 2171.17,1436.28 2171.18,1436.85 2171.19,1437.41 2171.2,1437.97 2171.21,1438.53 2171.22,1439.09 2171.23,1439.65 2171.24,1440.21 2171.24,1440.78 2171.25,1441.34 2171.26,1441.9 2171.27,1442.46 2171.27,1443.02 2171.28,1443.58 2171.29,1444.14 2171.29,1444.7 2171.3,1445.27 2171.3,1445.83 2171.31,1446.39 2171.31,1446.95 2171.32,1447.51 2171.32,1448.07 2171.32,1448.63 2171.33,1449.19 2171.33,1449.76 2171.33,1450.32 2171.34,1450.88 2171.34,1451.44 2171.34,1452 2171.34,1452.56 2171.34,1453.12 2171.35,1453.69 2171.35,1454.25 2171.35,1454.81 2171.75,1454.81 2171.75,1454.25 2171.75,1453.69 2171.75,1453.12 2171.75,1452.56 2171.75,1452 2171.75,1451.44 2171.75,1450.88 2171.76,1450.32 2171.76,1449.76 2171.76,1449.19 2171.77,1448.63 2171.77,1448.07 2171.77,1447.51 2171.78,1446.95 2171.78,1446.39 2171.79,1445.83 2171.79,1445.27 2171.8,1444.7 2171.81,1444.14 2171.81,1443.58 2171.82,1443.02 2171.83,1442.46 2171.83,1441.9 2171.84,1441.34 2171.85,1440.78 2171.86,1440.21 2171.86,1439.65 2171.87,1439.09 2171.88,1438.53 2171.89,1437.97 2171.9,1437.41 2171.91,1436.85 2171.92,1436.28 2171.93,1435.72 2171.94,1435.16 2171.95,1434.6 2171.96,1434.04 2171.97,1433.48 2171.98,1432.92 2171.99,1432.36 2172.01,1431.79 2172.02,1431.23 2172.03,1430.67 2172.04,1430.11 2172.05,1429.55 2172.07,1428.99 2172.08,1428.43 2172.09,1427.87 2172.1,1427.3 2172.12,1426.74 2172.13,1426.18 2172.14,1425.62 2172.16,1425.06 2172.17,1424.5 2172.19,1423.94 2172.2,1423.37 2172.21,1422.81 2172.23,1422.25 2172.24,1421.69 2172.26,1421.13 2172.27,1420.57 2172.29,1420.01 2172.3,1419.45 2172.32,1418.88 2172.34,1418.32 2172.35,1417.76 2172.37,1417.2 2172.38,1416.64 2172.4,1416.08 2172.41,1415.52 2172.43,1414.96 2172.45,1414.39 2172.46,1413.83 2172.48,1413.27 2172.5,1412.71 2172.51,1412.15 2172.53,1411.59 2172.55,1411.03 2172.56,1410.46 2172.58,1409.9 2172.6,1409.34 2172.62,1408.78 2172.64,1408.22 2172.66,1407.66 2172.68,1407.1 2172.7,1406.54 2172.72,1405.97 2172.74,1405.41 2172.77,1404.85 2172.79,1404.29 2172.82,1403.73 2172.85,1403.17 2172.87,1402.61 2172.9,1402.05 2172.93,1401.48 2172.97,1400.92 2173,1400.36 2173.04,1399.8 2173.07,1399.24 2173.11,1398.68 2173.15,1398.12 2173.19,1397.55 2173.24,1396.99 2173.28,1396.43 2173.33,1395.87 2173.38,1395.31 2173.43,1394.75 2173.48,1394.19 2173.53,1393.63 2173.6,1393.06 2173.67,1392.5 2173.76,1391.94 2173.87,1391.38 2173.99,1390.82 2174.12,1390.26 2174.26,1389.7 2174.41,1389.13 2174.57,1388.57 2174.73,1388.01 2174.92,1387.45 2175.14,1386.89 2175.4,1386.33 2175.68,1385.77 2175.97,1385.21 2176.28,1384.64 2176.59,1384.08 2176.9,1383.52 2177.22,1382.96 2177.54,1382.4 2177.89,1381.84 2178.24,1381.28 2178.6,1380.72 2178.96,1380.15 2179.32,1379.59 2179.67,1379.03 2180.03,1378.47 2180.38,1377.91 2180.73,1377.35 2181.08,1376.79 2181.43,1376.22 2181.8,1375.66 2182.17,1375.1 2182.55,1374.54 2182.94,1373.98 2183.36,1373.42 2183.79,1372.86 2184.23,1372.3 2184.67,1371.73 2185.11,1371.17 2185.53,1370.61 2185.92,1370.05 2186.29,1369.49 2186.64,1368.93 2186.97,1368.37 2187.28,1367.81 2187.6,1367.24 2187.92,1366.68 2188.25,1366.12 2188.61,1365.56 2188.99,1365 2189.44,1364.44 2189.94,1363.88 2190.47,1363.31 2190.99,1362.75 2191.49,1362.19 2191.92,1361.63 2192.27,1361.07 2192.51,1360.51 2192.71,1359.95 2192.91,1359.39 2193.09,1358.82 2193.25,1358.26 2193.38,1357.7 2193.47,1357.14 2193.53,1356.58 2193.54,1356.02 2193.51,1355.46 2193.44,1354.9 2193.34,1354.33 2193.21,1353.77 2193.07,1353.21 2192.92,1352.65 2192.77,1352.09 2192.62,1351.53 2192.47,1350.97 2192.3,1350.4 2192.12,1349.84 2191.94,1349.28 2191.74,1348.72 2191.53,1348.16 2191.31,1347.6 2191.07,1347.04 2190.83,1346.48 2190.58,1345.91 2190.31,1345.35 2190.03,1344.79 2189.75,1344.23 2189.45,1343.67 2189.14,1343.11 2188.83,1342.55 2188.47,1341.99 2188.06,1341.42 2187.61,1340.86 2187.12,1340.3 2186.59,1339.74 2186.04,1339.18 2185.47,1338.62 2184.89,1338.06 2184.31,1337.49 2183.72,1336.93 2183.15,1336.37 2182.59,1335.81 2182.06,1335.25 2181.56,1334.69 2181.09,1334.13 2180.67,1333.57 2180.27,1333 2179.87,1332.44 2179.47,1331.88 2179.06,1331.32 2178.67,1330.76 2178.28,1330.2 2177.9,1329.64 2177.53,1329.08 2177.19,1328.51 2176.86,1327.95 2176.55,1327.39 2176.27,1326.83 2176.02,1326.27 2175.8,1325.71 2175.61,1325.15 2175.47,1324.58 2175.35,1324.02 2175.25,1323.46 2175.16,1322.9 2175.08,1322.34 2175,1321.78 2174.94,1321.22 2174.88,1320.66 2174.82,1320.09 2174.76,1319.53 2174.71,1318.97 2174.65,1318.41 2174.59,1317.85 2174.53,1317.29 2174.46,1316.73 2174.38,1316.16 2174.3,1315.6 2174.2,1315.04 2174.08,1314.48 2173.95,1313.92 2173.8,1313.36 2173.64,1312.8 2173.47,1312.24 2173.31,1311.67 2173.16,1311.11 2173.03,1310.55 2172.91,1309.99 2172.81,1309.43 2172.75,1308.87 2172.7,1308.31 2172.65,1307.75 2172.6,1307.18 2172.56,1306.62 2172.51,1306.06 2172.47,1305.5 2172.43,1304.94 2172.39,1304.38 2172.35,1303.82 2172.31,1303.25 2172.27,1302.69 2172.24,1302.13 2172.2,1301.57 2172.17,1301.01 2172.14,1300.45 2172.11,1299.89 2172.08,1299.33 2172.05,1298.76 2172.02,1298.2 2171.99,1297.64 2171.97,1297.08 2171.95,1296.52 2171.92,1295.96 2171.9,1295.4 2171.88,1294.84 2171.86,1294.27 2171.85,1293.71 2171.83,1293.15 2171.82,1292.59 2171.8,1292.03 2171.79,1291.47 2171.78,1290.91 2171.77,1290.34 2171.76,1289.78 2171.74,1289.22 2171.71,1288.66 2171.68,1288.1 2171.65,1287.54 2171.63,1286.98" fill="#eca524" fill-opacity="0.22"/>
<polygon points="2307.09,1343.89 2307.09,1343.95 2307.08,1344.01 2307.07,1344.07 2307.07,1344.13 2307.06,1344.19 2307.06,1344.25 2307.05,1344.3 2307.05,1344.36 2307.04,1344.42 2307.03,1344.48 2307.03,1344.54 2307.02,1344.6 2307.02,1344.66 2307.01,1344.71 2307.01,1344.77 2307,1344.83 2307,1344.89 2306.99,1344.95 2306.98,1345.01 2306.98,1345.07 2306.97,1345.12 2306.97,1345.18 2306.96,1345.24 2306.96,1345.3 2306.95,1345.36 2306.94,1345.42 2306.94,1345.48 2306.93,1345.53 2306.93,1345.59 2306.92,1345.65 2306.92,1345.71 2306.91,1345.77 2306.9,1345.83 2306.9,1345.89 2306.89,1345.94 2306.89,1346 2306.88,1346.06 2306.88,1346.12 2306.87,1346.18 2306.87,1346.24 2306.86,1346.3 2306.85,1346.35 2306.85,1346.41 2306.84,1346.47 2306.84,1346.53 2306.83,1346.59 2306.83,1346.65 2306.82,1346.71 2306.81,1346.76 2306.81,1346.82 2306.8,1346.88 2306.8,1346.94 2306.79,1347 2306.79,1347.06 2306.78,1347.12 2306.78,1347.17 2306.77,1347.23 2306.76,1347.29 2306.76,1347.35 2306.75,1347.41 2306.75,1347.47 2306.74,1347.53 2306.74,1347.58 2306.73,1347.64 2306.72,1347.7 2306.72,1347.76 2306.71,1347.82 2306.71,1347.88 2306.7,1347.94 2306.7,1347.99 2306.69,1348.05 2306.69,1348.11 2306.68,1348.17 2306.67,1348.23 2306.67,1348.29 2306.66,1348.35 2306.66,1348.4 2306.65,1348.46 2306.65,1348.52 2306.64,1348.58 2306.63,1348.64 2306.63,1348.7 2306.62,1348.76 2306.62,1348.81 2306.61,1348.87 2306.61,1348.93 2306.6,1348.99 2306.6,1349.05 2306.59,1349.11 2306.58,1349.17 2306.58,1349.22 2306.57,1349.28 2306.57,1349.34 2306.56,1349.4 2306.56,1349.46 2306.55,1349.52 2306.54,1349.58 2306.54,1349.63 2306.53,1349.69 2306.53,1349.75 2306.52,1349.81 2306.52,1349.87 2306.51,1349.93 2306.51,1349.99 2306.5,1350.04 2306.49,1350.1 2306.49,1350.16 2306.48,1350.22 2306.48,1350.28 2306.47,1350.34 2306.47,1350.4 2306.46,1350.45 2306.45,1350.51 2306.45,1350.57 2306.44,1350.63 2306.44,1350.69 2306.43,1350.75 2306.43,1350.81 2306.42,1350.86 2306.41,1350.92 2306.41,1350.98 2306.4,1351.04 2306.4,1351.1 2306.39,1351.16 2306.39,1351.22 2306.38,1351.27 2306.38,1351.33 2306.37,1351.39 2306.36,1351.45 2306.36,1351.51 2306.35,1351.57 2306.35,1351.63 2306.34,1351.68 2306.34,1351.74 2306.33,1351.8 2306.32,1351.86 2306.32,1351.92 2306.31,1351.98 2306.31,1352.04 2306.3,1352.09 2306.3,1352.15 2306.29,1352.21 2302.38,1352.27 2302.33,1352.33 2302.28,1352.39 2302.24,1352.45 2302.2,1352.5 2302.18,1352.56 2302.17,1352.62 2302.17,1352.68 2302.18,1352.74 2302.2,1352.8 2302.24,1352.85 2302.28,1352.91 2302.33,1352.97 2302.38,1353.03 2306.29,1353.09 2306.3,1353.15 2306.3,1353.21 2306.31,1353.26 2306.31,1353.32 2306.32,1353.38 2306.32,1353.44 2306.33,1353.5 2306.34,1353.56 2306.34,1353.62 2306.35,1353.67 2306.35,1353.73 2306.36,1353.79 2306.36,1353.85 2306.37,1353.91 2306.38,1353.97 2306.38,1354.03 2306.39,1354.08 2306.39,1354.14 2306.4,1354.2 2306.4,1354.26 2306.41,1354.32 2306.41,1354.38 2306.42,1354.44 2306.43,1354.49 2306.43,1354.55 2306.44,1354.61 2306.44,1354.67 2306.45,1354.73 2306.45,1354.79 2306.46,1354.85 2306.47,1354.9 2306.47,1354.96 2306.48,1355.02 2306.48,1355.08 2306.49,1355.14 2306.49,1355.2 2306.5,1355.26 2306.51,1355.31 2306.51,1355.37 2306.52,1355.43 2306.52,1355.49 2306.53,1355.55 2306.53,1355.61 2306.54,1355.67 2306.54,1355.72 2306.55,1355.78 2306.56,1355.84 2306.56,1355.9 2306.57,1355.96 2306.57,1356.02 2306.58,1356.08 2306.58,1356.13 2306.59,1356.19 2306.6,1356.25 2306.6,1356.31 2306.61,1356.37 2306.61,1356.43 2306.62,1356.49 2306.62,1356.54 2306.63,1356.6 2306.63,1356.66 2306.64,1356.72 2306.65,1356.78 2306.65,1356.84 2306.66,1356.9 2306.66,1356.95 2306.67,1357.01 2306.67,1357.07 2306.68,1357.13 2306.69,1357.19 2306.69,1357.25 2306.7,1357.31 2306.7,1357.36 2306.71,1357.42 2306.71,1357.48 2306.72,1357.54 2306.72,1357.6 2306.73,1357.66 2306.74,1357.72 2306.74,1357.77 2306.75,1357.83 2306.75,1357.89 2306.76,1357.95 2306.76,1358.01 2306.77,1358.07 2306.78,1358.13 2306.78,1358.18 2306.79,1358.24 2306.79,1358.3 2306.8,1358.36 2306.8,1358.42 2306.81,1358.48 2306.81,1358.54 2306.82,1358.59 2306.83,1358.65 2306.83,1358.71 2306.84,1358.77 2306.84,1358.83 2306.85,1358.89 2306.85,1358.95 2306.86,1359 2306.87,1359.06 2306.87,1359.12 2306.88,1359.18 2306.88,1359.24 2306.89,1359.3 2306.89,1359.36 2306.9,1359.41 2306.9,1359.47 2306.91,1359.53 2306.92,1359.59 2306.92,1359.65 2306.93,1359.71 2306.93,1359.77 2306.94,1359.82 2306.94,1359.88 2306.95,1359.94 2306.96,1360 2306.96,1360.06 2306.97,1360.12 2306.97,1360.18 2306.98,1360.23 2306.98,1360.29 2306.99,1360.35 2307,1360.41 2307,1360.47 2307.01,1360.53 2307.01,1360.59 2307.02,1360.64 2307.02,1360.7 2307.03,1360.76 2307.03,1360.82 2307.04,1360.88 2307.05,1360.94 2307.05,1361 2307.06,1361.05 2307.06,1361.11 2307.07,1361.17 2307.07,1361.23 2307.08,1361.29 2307.09,1361.35 2307.09,1361.41 2307.25,1361.41 2307.26,1361.35 2307.26,1361.29 2307.27,1361.23 2307.27,1361.17 2307.28,1361.11 2307.28,1361.05 2307.29,1361 2307.3,1360.94 2307.3,1360.88 2307.31,1360.82 2307.31,1360.76 2307.32,1360.7 2307.32,1360.64 2307.33,1360.59 2307.34,1360.53 2307.34,1360.47 2307.35,1360.41 2307.35,1360.35 2307.36,1360.29 2307.36,1360.23 2307.37,1360.18 2307.37,1360.12 2307.38,1360.06 2307.39,1360 2307.39,1359.94 2307.4,1359.88 2307.4,1359.82 2307.41,1359.77 2307.41,1359.71 2307.42,1359.65 2307.43,1359.59 2307.43,1359.53 2307.44,1359.47 2307.44,1359.41 2307.45,1359.36 2307.45,1359.3 2307.46,1359.24 2307.46,1359.18 2307.47,1359.12 2307.48,1359.06 2307.48,1359 2307.49,1358.95 2307.49,1358.89 2307.5,1358.83 2307.5,1358.77 2307.51,1358.71 2307.52,1358.65 2307.52,1358.59 2307.53,1358.54 2307.53,1358.48 2307.54,1358.42 2307.54,1358.36 2307.55,1358.3 2307.56,1358.24 2307.56,1358.18 2307.57,1358.13 2307.57,1358.07 2307.58,1358.01 2307.58,1357.95 2307.59,1357.89 2307.59,1357.83 2307.6,1357.77 2307.61,1357.72 2307.61,1357.66 2307.62,1357.6 2307.62,1357.54 2307.63,1357.48 2307.63,1357.42 2307.64,1357.36 2307.65,1357.31 2307.65,1357.25 2307.66,1357.19 2307.66,1357.13 2307.67,1357.07 2307.67,1357.01 2307.68,1356.95 2307.68,1356.9 2307.69,1356.84 2307.7,1356.78 2307.7,1356.72 2307.71,1356.66 2307.71,1356.6 2307.72,1356.54 2307.72,1356.49 2307.73,1356.43 2307.74,1356.37 2307.74,1356.31 2307.75,1356.25 2307.75,1356.19 2307.76,1356.13 2307.76,1356.08 2307.77,1356.02 2307.77,1355.96 2307.78,1355.9 2307.79,1355.84 2307.79,1355.78 2307.8,1355.72 2307.8,1355.67 2307.81,1355.61 2307.81,1355.55 2307.82,1355.49 2307.83,1355.43 2307.83,1355.37 2307.84,1355.31 2307.84,1355.26 2307.85,1355.2 2307.85,1355.14 2307.86,1355.08 2307.86,1355.02 2307.87,1354.96 2307.88,1354.9 2307.88,1354.85 2307.89,1354.79 2307.89,1354.73 2307.9,1354.67 2307.9,1354.61 2307.91,1354.55 2307.92,1354.49 2307.92,1354.44 2307.93,1354.38 2307.93,1354.32 2307.94,1354.26 2307.94,1354.2 2307.95,1354.14 2307.95,1354.08 2307.96,1354.03 2307.97,1353.97 2307.97,1353.91 2307.98,1353.85 2307.98,1353.79 2307.99,1353.73 2307.99,1353.67 2308,1353.62 2308.01,1353.56 2308.01,1353.5 2308.02,1353.44 2308.02,1353.38 2308.03,1353.32 2308.03,1353.26 2308.04,1353.21 2308.05,1353.15 2308.05,1353.09 2311.96,1353.03 2312.02,1352.97 2312.07,1352.91 2312.11,1352.85 2312.14,1352.8 2312.16,1352.74 2312.17,1352.68 2312.17,1352.62 2312.16,1352.56 2312.14,1352.5 2312.11,1352.45 2312.07,1352.39 2312.02,1352.33 2311.96,1352.27 2308.05,1352.21 2308.05,1352.15 2308.04,1352.09 2308.03,1352.04 2308.03,1351.98 2308.02,1351.92 2308.02,1351.86 2308.01,1351.8 2308.01,1351.74 2308,1351.68 2307.99,1351.63 2307.99,1351.57 2307.98,1351.51 2307.98,1351.45 2307.97,1351.39 2307.97,1351.33 2307.96,1351.27 2307.95,1351.22 2307.95,1351.16 2307.94,1351.1 2307.94,1351.04 2307.93,1350.98 2307.93,1350.92 2307.92,1350.86 2307.92,1350.81 2307.91,1350.75 2307.9,1350.69 2307.9,1350.63 2307.89,1350.57 2307.89,1350.51 2307.88,1350.45 2307.88,1350.4 2307.87,1350.34 2307.86,1350.28 2307.86,1350.22 2307.85,1350.16 2307.85,1350.1 2307.84,1350.04 2307.84,1349.99 2307.83,1349.93 2307.83,1349.87 2307.82,1349.81 2307.81,1349.75 2307.81,1349.69 2307.8,1349.63 2307.8,1349.58 2307.79,1349.52 2307.79,1349.46 2307.78,1349.4 2307.77,1349.34 2307.77,1349.28 2307.76,1349.22 2307.76,1349.17 2307.75,1349.11 2307.75,1349.05 2307.74,1348.99 2307.74,1348.93 2307.73,1348.87 2307.72,1348.81 2307.72,1348.76 2307.71,1348.7 2307.71,1348.64 2307.7,1348.58 2307.7,1348.52 2307.69,1348.46 2307.68,1348.4 2307.68,1348.35 2307.67,1348.29 2307.67,1348.23 2307.66,1348.17 2307.66,1348.11 2307.65,1348.05 2307.65,1347.99 2307.64,1347.94 2307.63,1347.88 2307.63,1347.82 2307.62,1347.76 2307.62,1347.7 2307.61,1347.64 2307.61,1347.58 2307.6,1347.53 2307.59,1347.47 2307.59,1347.41 2307.58,1347.35 2307.58,1347.29 2307.57,1347.23 2307.57,1347.17 2307.56,1347.12 2307.56,1347.06 2307.55,1347 2307.54,1346.94 2307.54,1346.88 2307.53,1346.82 2307.53,1346.76 2307.52,1346.71 2307.52,1346.65 2307.51,1346.59 2307.5,1346.53 2307.5,1346.47 2307.49,1346.41 2307.49,1346.35 2307.48,1346.3 2307.48,1346.24 2307.47,1346.18 2307.46,1346.12 2307.46,1346.06 2307.45,1346 2307.45,1345.94 2307.44,1345.89 2307.44,1345.83 2307.43,1345.77 2307.43,1345.71 2307.42,1345.65 2307.41,1345.59 2307.41,1345.53 2307.4,1345.48 2307.4,1345.42 2307.39,1345.36 2307.39,1345.3 2307.38,1345.24 2307.37,1345.18 2307.37,1345.12 2307.36,1345.07 2307.36,1345.01 2307.35,1344.95 2307.35,1344.89 2307.34,1344.83 2307.34,1344.77 2307.33,1344.71 2307.32,1344.66 2307.32,1344.6 2307.31,1344.54 2307.31,1344.48 2307.3,1344.42 2307.3,1344.36 2307.29,1344.3 2307.28,1344.25 2307.28,1344.19 2307.27,1344.13 2307.27,1344.07 2307.26,1344.01 2307.26,1343.95 2307.25,1343.89" fill="#5291f8" fill-opacity="0.22"/>
<polygon points="2352.3,1345.35 2352.29,1345.4 2352.29,1345.45 2352.28,1345.5 2352.28,1345.55 2352.27,1345.6 2352.27,1345.65 2352.26,1345.69 2352.25,1345.74 2352.25,1345.79 2352.24,1345.84 2352.24,1345.89 2352.23,1345.94 2352.23,1345.99 2352.22,1346.04 2352.21,1346.09 2352.21,1346.13 2352.2,1346.18 2352.2,1346.23 2352.19,1346.28 2352.19,1346.33 2352.18,1346.38 2352.17,1346.43 2352.17,1346.48 2352.16,1346.52 2352.16,1346.57 2352.15,1346.62 2352.15,1346.67 2352.14,1346.72 2352.13,1346.77 2352.13,1346.82 2352.12,1346.87 2352.12,1346.91 2352.11,1346.96 2352.11,1347.01 2352.1,1347.06 2352.09,1347.11 2352.09,1347.16 2352.08,1347.21 2352.08,1347.26 2352.07,1347.31 2352.07,1347.35 2352.06,1347.4 2352.05,1347.45 2352.05,1347.5 2352.04,1347.55 2352.04,1347.6 2352.03,1347.65 2352.03,1347.7 2352.02,1347.74 2352.01,1347.79 2352.01,1347.84 2352,1347.89 2352,1347.94 2351.99,1347.99 2351.99,1348.04 2351.98,1348.09 2351.97,1348.14 2351.97,1348.18 2351.96,1348.23 2351.96,1348.28 2351.95,1348.33 2351.95,1348.38 2351.94,1348.43 2351.93,1348.48 2351.93,1348.53 2351.92,1348.57 2351.92,1348.62 2351.91,1348.67 2351.91,1348.72 2351.9,1348.77 2351.89,1348.82 2351.89,1348.87 2351.88,1348.92 2351.88,1348.96 2351.87,1349.01 2351.87,1349.06 2351.86,1349.11 2351.86,1349.16 2351.85,1349.21 2351.84,1349.26 2351.84,1349.31 2351.83,1349.36 2351.83,1349.4 2351.82,1349.45 2351.82,1349.5 2351.81,1349.55 2351.8,1349.6 2351.8,1349.65 2351.79,1349.7 2351.79,1349.75 2351.78,1349.79 2351.78,1349.84 2351.77,1349.89 2351.76,1349.94 2351.76,1349.99 2351.75,1350.04 2351.75,1350.09 2351.74,1350.14 2351.74,1350.19 2351.73,1350.23 2351.72,1350.28 2351.72,1350.33 2351.71,1350.38 2351.71,1350.43 2351.7,1350.48 2351.7,1350.53 2351.69,1350.58 2351.68,1350.62 2351.68,1350.67 2351.67,1350.72 2351.67,1350.77 2351.66,1350.82 2351.66,1350.87 2351.65,1350.92 2351.64,1350.97 2351.64,1351.01 2351.63,1351.06 2351.63,1351.11 2351.62,1351.16 2351.62,1351.21 2351.61,1351.26 2351.6,1351.31 2351.6,1351.36 2351.59,1351.41 2351.59,1351.45 2351.58,1351.5 2351.58,1351.55 2351.57,1351.6 2351.56,1351.65 2351.56,1351.7 2351.55,1351.75 2351.55,1351.8 2351.54,1351.84 2351.54,1351.89 2351.53,1351.94 2351.52,1351.99 2351.52,1352.04 2351.51,1352.09 2351.51,1352.14 2351.5,1352.19 2347.62,1352.24 2347.57,1352.28 2347.53,1352.33 2347.49,1352.38 2347.45,1352.43 2347.42,1352.48 2347.4,1352.53 2347.39,1352.58 2347.38,1352.63 2347.38,1352.67 2347.39,1352.72 2347.4,1352.77 2347.42,1352.82 2347.45,1352.87 2347.49,1352.92 2347.53,1352.97 2347.57,1353.02 2347.62,1353.06 2351.5,1353.11 2351.51,1353.16 2351.51,1353.21 2351.52,1353.26 2351.52,1353.31 2351.53,1353.36 2351.54,1353.41 2351.54,1353.46 2351.55,1353.5 2351.55,1353.55 2351.56,1353.6 2351.56,1353.65 2351.57,1353.7 2351.58,1353.75 2351.58,1353.8 2351.59,1353.85 2351.59,1353.89 2351.6,1353.94 2351.6,1353.99 2351.61,1354.04 2351.62,1354.09 2351.62,1354.14 2351.63,1354.19 2351.63,1354.24 2351.64,1354.29 2351.64,1354.33 2351.65,1354.38 2351.66,1354.43 2351.66,1354.48 2351.67,1354.53 2351.67,1354.58 2351.68,1354.63 2351.68,1354.68 2351.69,1354.72 2351.7,1354.77 2351.7,1354.82 2351.71,1354.87 2351.71,1354.92 2351.72,1354.97 2351.72,1355.02 2351.73,1355.07 2351.74,1355.11 2351.74,1355.16 2351.75,1355.21 2351.75,1355.26 2351.76,1355.31 2351.76,1355.36 2351.77,1355.41 2351.78,1355.46 2351.78,1355.51 2351.79,1355.55 2351.79,1355.6 2351.8,1355.65 2351.8,1355.7 2351.81,1355.75 2351.82,1355.8 2351.82,1355.85 2351.83,1355.9 2351.83,1355.94 2351.84,1355.99 2351.84,1356.04 2351.85,1356.09 2351.86,1356.14 2351.86,1356.19 2351.87,1356.24 2351.87,1356.29 2351.88,1356.34 2351.88,1356.38 2351.89,1356.43 2351.89,1356.48 2351.9,1356.53 2351.91,1356.58 2351.91,1356.63 2351.92,1356.68 2351.92,1356.73 2351.93,1356.77 2351.93,1356.82 2351.94,1356.87 2351.95,1356.92 2351.95,1356.97 2351.96,1357.02 2351.96,1357.07 2351.97,1357.12 2351.97,1357.16 2351.98,1357.21 2351.99,1357.26 2351.99,1357.31 2352,1357.36 2352,1357.41 2352.01,1357.46 2352.01,1357.51 2352.02,1357.56 2352.03,1357.6 2352.03,1357.65 2352.04,1357.7 2352.04,1357.75 2352.05,1357.8 2352.05,1357.85 2352.06,1357.9 2352.07,1357.95 2352.07,1357.99 2352.08,1358.04 2352.08,1358.09 2352.09,1358.14 2352.09,1358.19 2352.1,1358.24 2352.11,1358.29 2352.11,1358.34 2352.12,1358.39 2352.12,1358.43 2352.13,1358.48 2352.13,1358.53 2352.14,1358.58 2352.15,1358.63 2352.15,1358.68 2352.16,1358.73 2352.16,1358.78 2352.17,1358.82 2352.17,1358.87 2352.18,1358.92 2352.19,1358.97 2352.19,1359.02 2352.2,1359.07 2352.2,1359.12 2352.21,1359.17 2352.21,1359.21 2352.22,1359.26 2352.23,1359.31 2352.23,1359.36 2352.24,1359.41 2352.24,1359.46 2352.25,1359.51 2352.25,1359.56 2352.26,1359.61 2352.27,1359.65 2352.27,1359.7 2352.28,1359.75 2352.28,1359.8 2352.29,1359.85 2352.29,1359.9 2352.3,1359.95 2352.46,1359.95 2352.46,1359.9 2352.47,1359.85 2352.48,1359.8 2352.48,1359.75 2352.49,1359.7 2352.49,1359.65 2352.5,1359.61 2352.5,1359.56 2352.51,1359.51 2352.52,1359.46 2352.52,1359.41 2352.53,1359.36 2352.53,1359.31 2352.54,1359.26 2352.54,1359.21 2352.55,1359.17 2352.56,1359.12 2352.56,1359.07 2352.57,1359.02 2352.57,1358.97 2352.58,1358.92 2352.58,1358.87 2352.59,1358.82 2352.6,1358.78 2352.6,1358.73 2352.61,1358.68 2352.61,1358.63 2352.62,1358.58 2352.62,1358.53 2352.63,1358.48 2352.64,1358.43 2352.64,1358.39 2352.65,1358.34 2352.65,1358.29 2352.66,1358.24 2352.66,1358.19 2352.67,1358.14 2352.68,1358.09 2352.68,1358.04 2352.69,1357.99 2352.69,1357.95 2352.7,1357.9 2352.7,1357.85 2352.71,1357.8 2352.72,1357.75 2352.72,1357.7 2352.73,1357.65 2352.73,1357.6 2352.74,1357.56 2352.74,1357.51 2352.75,1357.46 2352.76,1357.41 2352.76,1357.36 2352.77,1357.31 2352.77,1357.26 2352.78,1357.21 2352.78,1357.16 2352.79,1357.12 2352.8,1357.07 2352.8,1357.02 2352.81,1356.97 2352.81,1356.92 2352.82,1356.87 2352.82,1356.82 2352.83,1356.77 2352.83,1356.73 2352.84,1356.68 2352.85,1356.63 2352.85,1356.58 2352.86,1356.53 2352.86,1356.48 2352.87,1356.43 2352.87,1356.38 2352.88,1356.34 2352.89,1356.29 2352.89,1356.24 2352.9,1356.19 2352.9,1356.14 2352.91,1356.09 2352.91,1356.04 2352.92,1355.99 2352.93,1355.94 2352.93,1355.9 2352.94,1355.85 2352.94,1355.8 2352.95,1355.75 2352.95,1355.7 2352.96,1355.65 2352.97,1355.6 2352.97,1355.55 2352.98,1355.51 2352.98,1355.46 2352.99,1355.41 2352.99,1355.36 2353,1355.31 2353.01,1355.26 2353.01,1355.21 2353.02,1355.16 2353.02,1355.11 2353.03,1355.07 2353.03,1355.02 2353.04,1354.97 2353.05,1354.92 2353.05,1354.87 2353.06,1354.82 2353.06,1354.77 2353.07,1354.72 2353.07,1354.68 2353.08,1354.63 2353.09,1354.58 2353.09,1354.53 2353.1,1354.48 2353.1,1354.43 2353.11,1354.38 2353.11,1354.33 2353.12,1354.29 2353.13,1354.24 2353.13,1354.19 2353.14,1354.14 2353.14,1354.09 2353.15,1354.04 2353.15,1353.99 2353.16,1353.94 2353.17,1353.89 2353.17,1353.85 2353.18,1353.8 2353.18,1353.75 2353.19,1353.7 2353.19,1353.65 2353.2,1353.6 2353.2,1353.55 2353.21,1353.5 2353.22,1353.46 2353.22,1353.41 2353.23,1353.36 2353.23,1353.31 2353.24,1353.26 2353.24,1353.21 2353.25,1353.16 2353.26,1353.11 2357.14,1353.06 2357.19,1353.02 2357.23,1352.97 2357.27,1352.92 2357.31,1352.87 2357.33,1352.82 2357.36,1352.77 2357.37,1352.72 2357.38,1352.67 2357.38,1352.63 2357.37,1352.58 2357.36,1352.53 2357.33,1352.48 2357.31,1352.43 2357.27,1352.38 2357.23,1352.33 2357.19,1352.28 2357.14,1352.24 2353.26,1352.19 2353.25,1352.14 2353.24,1352.09 2353.24,1352.04 2353.23,1351.99 2353.23,1351.94 2353.22,1351.89 2353.22,1351.84 2353.21,1351.8 2353.2,1351.75 2353.2,1351.7 2353.19,1351.65 2353.19,1351.6 2353.18,1351.55 2353.18,1351.5 2353.17,1351.45 2353.17,1351.41 2353.16,1351.36 2353.15,1351.31 2353.15,1351.26 2353.14,1351.21 2353.14,1351.16 2353.13,1351.11 2353.13,1351.06 2353.12,1351.01 2353.11,1350.97 2353.11,1350.92 2353.1,1350.87 2353.1,1350.82 2353.09,1350.77 2353.09,1350.72 2353.08,1350.67 2353.07,1350.62 2353.07,1350.58 2353.06,1350.53 2353.06,1350.48 2353.05,1350.43 2353.05,1350.38 2353.04,1350.33 2353.03,1350.28 2353.03,1350.23 2353.02,1350.19 2353.02,1350.14 2353.01,1350.09 2353.01,1350.04 2353,1349.99 2352.99,1349.94 2352.99,1349.89 2352.98,1349.84 2352.98,1349.79 2352.97,1349.75 2352.97,1349.7 2352.96,1349.65 2352.95,1349.6 2352.95,1349.55 2352.94,1349.5 2352.94,1349.45 2352.93,1349.4 2352.93,1349.36 2352.92,1349.31 2352.91,1349.26 2352.91,1349.21 2352.9,1349.16 2352.9,1349.11 2352.89,1349.06 2352.89,1349.01 2352.88,1348.96 2352.87,1348.92 2352.87,1348.87 2352.86,1348.82 2352.86,1348.77 2352.85,1348.72 2352.85,1348.67 2352.84,1348.62 2352.83,1348.57 2352.83,1348.53 2352.82,1348.48 2352.82,1348.43 2352.81,1348.38 2352.81,1348.33 2352.8,1348.28 2352.8,1348.23 2352.79,1348.18 2352.78,1348.14 2352.78,1348.09 2352.77,1348.04 2352.77,1347.99 2352.76,1347.94 2352.76,1347.89 2352.75,1347.84 2352.74,1347.79 2352.74,1347.74 2352.73,1347.7 2352.73,1347.65 2352.72,1347.6 2352.72,1347.55 2352.71,1347.5 2352.7,1347.45 2352.7,1347.4 2352.69,1347.35 2352.69,1347.31 2352.68,1347.26 2352.68,1347.21 2352.67,1347.16 2352.66,1347.11 2352.66,1347.06 2352.65,1347.01 2352.65,1346.96 2352.64,1346.91 2352.64,1346.87 2352.63,1346.82 2352.62,1346.77 2352.62,1346.72 2352.61,1346.67 2352.61,1346.62 2352.6,1346.57 2352.6,1346.52 2352.59,1346.48 2352.58,1346.43 2352.58,1346.38 2352.57,1346.33 2352.57,1346.28 2352.56,1346.23 2352.56,1346.18 2352.55,1346.13 2352.54,1346.09 2352.54,1346.04 2352.53,1345.99 2352.53,1345.94 2352.52,1345.89 2352.52,1345.84 2352.51,1345.79 2352.5,1345.74 2352.5,1345.69 2352.49,1345.65 2352.49,1345.6 2352.48,1345.55 2352.48,1345.5 2352.47,1345.45 2352.46,1345.4 2352.46,1345.35" fill="#9b2226" fill-opacity="0.22"/>
<polygon points="2397.51,1287.71 2397.48,1288.27 2397.44,1288.83 2397.41,1289.39 2397.38,1289.95 2397.37,1290.51 2397.36,1291.07 2397.35,1291.64 2397.34,1292.2 2397.33,1292.76 2397.31,1293.32 2397.3,1293.88 2397.28,1294.44 2397.27,1295 2397.25,1295.57 2397.23,1296.13 2397.21,1296.69 2397.18,1297.25 2397.16,1297.81 2397.13,1298.37 2397.11,1298.93 2397.08,1299.49 2397.05,1300.06 2397.02,1300.62 2396.99,1301.18 2396.96,1301.74 2396.92,1302.3 2396.89,1302.86 2396.85,1303.42 2396.81,1303.98 2396.77,1304.55 2396.74,1305.11 2396.69,1305.67 2396.65,1306.23 2396.61,1306.79 2396.56,1307.35 2396.52,1307.91 2396.47,1308.48 2396.42,1309.04 2396.38,1309.6 2396.31,1310.16 2396.21,1310.72 2396.09,1311.28 2395.95,1311.84 2395.8,1312.4 2395.64,1312.97 2395.48,1313.53 2395.32,1314.09 2395.16,1314.65 2395.02,1315.21 2394.91,1315.77 2394.81,1316.33 2394.72,1316.89 2394.65,1317.46 2394.58,1318.02 2394.51,1318.58 2394.45,1319.14 2394.4,1319.7 2394.34,1320.26 2394.28,1320.82 2394.22,1321.39 2394.16,1321.95 2394.09,1322.51 2394.02,1323.07 2393.94,1323.63 2393.85,1324.19 2393.74,1324.75 2393.63,1325.31 2393.48,1325.88 2393.29,1326.44 2393.07,1327 2392.82,1327.56 2392.53,1328.12 2392.22,1328.68 2391.89,1329.24 2391.54,1329.8 2391.17,1330.37 2390.79,1330.93 2390.39,1331.49 2389.99,1332.05 2389.59,1332.61 2389.18,1333.17 2388.77,1333.73 2388.37,1334.3 2387.95,1334.86 2387.48,1335.42 2386.97,1335.98 2386.43,1336.54 2385.87,1337.1 2385.29,1337.66 2384.7,1338.22 2384.11,1338.79 2383.52,1339.35 2382.95,1339.91 2382.39,1340.47 2381.86,1341.03 2381.36,1341.59 2380.9,1342.15 2380.49,1342.71 2380.13,1343.28 2379.81,1343.84 2379.5,1344.4 2379.2,1344.96 2378.91,1345.52 2378.64,1346.08 2378.37,1346.64 2378.11,1347.21 2377.87,1347.77 2377.63,1348.33 2377.41,1348.89 2377.19,1349.45 2376.99,1350.01 2376.8,1350.57 2376.63,1351.13 2376.46,1351.7 2376.3,1352.26 2376.15,1352.82 2376,1353.38 2375.85,1353.94 2375.7,1354.5 2375.58,1355.06 2375.47,1355.62 2375.4,1356.19 2375.37,1356.75 2375.38,1357.31 2375.44,1357.87 2375.54,1358.43 2375.67,1358.99 2375.83,1359.55 2376.01,1360.12 2376.21,1360.68 2376.42,1361.24 2376.66,1361.8 2377.01,1362.36 2377.45,1362.92 2377.95,1363.48 2378.47,1364.04 2379.01,1364.61 2379.51,1365.17 2379.97,1365.73 2380.36,1366.29 2380.71,1366.85 2381.05,1367.41 2381.37,1367.97 2381.69,1368.54 2382.01,1369.1 2382.34,1369.66 2382.69,1370.22 2383.07,1370.78 2383.47,1371.34 2383.89,1371.9 2384.33,1372.46 2384.78,1373.03 2385.22,1373.59 2385.66,1374.15 2386.08,1374.71 2386.48,1375.27 2386.86,1375.83 2387.23,1376.39 2387.6,1376.95 2387.96,1377.52 2388.31,1378.08 2388.67,1378.64 2389.02,1379.2 2389.38,1379.76 2389.74,1380.32 2390.1,1380.88 2390.47,1381.45 2390.83,1382.01 2391.18,1382.57 2391.53,1383.13 2391.86,1383.69 2392.18,1384.25 2392.49,1384.81 2392.8,1385.37 2393.12,1385.94 2393.41,1386.5 2393.7,1387.06 2393.95,1387.62 2394.18,1388.18 2394.37,1388.74 2394.54,1389.3 2394.7,1389.86 2394.85,1390.43 2394.99,1390.99 2395.12,1391.55 2395.24,1392.11 2395.35,1392.67 2395.44,1393.23 2395.52,1393.79 2395.58,1394.36 2395.63,1394.92 2395.69,1395.48 2395.74,1396.04 2395.79,1396.6 2395.84,1397.16 2395.88,1397.72 2395.93,1398.28 2395.97,1398.85 2396.01,1399.41 2396.05,1399.97 2396.08,1400.53 2396.12,1401.09 2396.15,1401.65 2396.19,1402.21 2396.22,1402.77 2396.25,1403.34 2396.28,1403.9 2396.3,1404.46 2396.33,1405.02 2396.35,1405.58 2396.38,1406.14 2396.4,1406.7 2396.42,1407.27 2396.45,1407.83 2396.47,1408.39 2396.49,1408.95 2396.51,1409.51 2396.52,1410.07 2396.54,1410.63 2396.56,1411.19 2396.58,1411.76 2396.59,1412.32 2396.61,1412.88 2396.63,1413.44 2396.64,1414 2396.66,1414.56 2396.68,1415.12 2396.69,1415.68 2396.71,1416.25 2396.73,1416.81 2396.74,1417.37 2396.76,1417.93 2396.77,1418.49 2396.79,1419.05 2396.81,1419.61 2396.82,1420.18 2396.84,1420.74 2396.85,1421.3 2396.87,1421.86 2396.88,1422.42 2396.9,1422.98 2396.91,1423.54 2396.93,1424.1 2396.94,1424.67 2396.95,1425.23 2396.97,1425.79 2396.98,1426.35 2397,1426.91 2397.01,1427.47 2397.02,1428.03 2397.04,1428.59 2397.05,1429.16 2397.06,1429.72 2397.08,1430.28 2397.09,1430.84 2397.1,1431.4 2397.11,1431.96 2397.12,1432.52 2397.14,1433.09 2397.15,1433.65 2397.16,1434.21 2397.17,1434.77 2397.18,1435.33 2397.19,1435.89 2397.2,1436.45 2397.21,1437.01 2397.22,1437.58 2397.23,1438.14 2397.24,1438.7 2397.25,1439.26 2397.26,1439.82 2397.27,1440.38 2397.27,1440.94 2397.28,1441.51 2397.29,1442.07 2397.3,1442.63 2397.3,1443.19 2397.31,1443.75 2397.32,1444.31 2397.32,1444.87 2397.33,1445.43 2397.34,1446 2397.34,1446.56 2397.35,1447.12 2397.35,1447.68 2397.36,1448.24 2397.36,1448.8 2397.36,1449.36 2397.37,1449.92 2397.37,1450.49 2397.37,1451.05 2397.38,1451.61 2397.38,1452.17 2397.38,1452.73 2397.38,1453.29 2397.38,1453.85 2397.38,1454.42 2397.43,1454.98 2397.51,1455.54 2397.67,1455.54 2397.74,1454.98 2397.79,1454.42 2397.79,1453.85 2397.79,1453.29 2397.79,1452.73 2397.8,1452.17 2397.8,1451.61 2397.8,1451.05 2397.8,1450.49 2397.81,1449.92 2397.81,1449.36 2397.81,1448.8 2397.82,1448.24 2397.82,1447.68 2397.83,1447.12 2397.83,1446.56 2397.84,1446 2397.84,1445.43 2397.85,1444.87 2397.86,1444.31 2397.86,1443.75 2397.87,1443.19 2397.88,1442.63 2397.89,1442.07 2397.89,1441.51 2397.9,1440.94 2397.91,1440.38 2397.92,1439.82 2397.93,1439.26 2397.94,1438.7 2397.95,1438.14 2397.95,1437.58 2397.96,1437.01 2397.97,1436.45 2397.98,1435.89 2398,1435.33 2398.01,1434.77 2398.02,1434.21 2398.03,1433.65 2398.04,1433.09 2398.05,1432.52 2398.06,1431.96 2398.08,1431.4 2398.09,1430.84 2398.1,1430.28 2398.11,1429.72 2398.13,1429.16 2398.14,1428.59 2398.15,1428.03 2398.16,1427.47 2398.18,1426.91 2398.19,1426.35 2398.21,1425.79 2398.22,1425.23 2398.23,1424.67 2398.25,1424.1 2398.26,1423.54 2398.28,1422.98 2398.29,1422.42 2398.31,1421.86 2398.32,1421.3 2398.34,1420.74 2398.35,1420.18 2398.37,1419.61 2398.38,1419.05 2398.4,1418.49 2398.42,1417.93 2398.43,1417.37 2398.45,1416.81 2398.46,1416.25 2398.48,1415.68 2398.5,1415.12 2398.51,1414.56 2398.53,1414 2398.55,1413.44 2398.56,1412.88 2398.58,1412.32 2398.6,1411.76 2398.61,1411.19 2398.63,1410.63 2398.65,1410.07 2398.67,1409.51 2398.69,1408.95 2398.71,1408.39 2398.73,1407.83 2398.75,1407.27 2398.77,1406.7 2398.8,1406.14 2398.82,1405.58 2398.85,1405.02 2398.87,1404.46 2398.9,1403.9 2398.93,1403.34 2398.96,1402.77 2398.99,1402.21 2399.02,1401.65 2399.06,1401.09 2399.09,1400.53 2399.13,1399.97 2399.17,1399.41 2399.21,1398.85 2399.25,1398.28 2399.29,1397.72 2399.34,1397.16 2399.39,1396.6 2399.44,1396.04 2399.49,1395.48 2399.54,1394.92 2399.6,1394.36 2399.66,1393.79 2399.74,1393.23 2399.83,1392.67 2399.93,1392.11 2400.05,1391.55 2400.18,1390.99 2400.33,1390.43 2400.48,1389.86 2400.64,1389.3 2400.81,1388.74 2401,1388.18 2401.22,1387.62 2401.48,1387.06 2401.76,1386.5 2402.06,1385.94 2402.37,1385.37 2402.69,1384.81 2403,1384.25 2403.31,1383.69 2403.65,1383.13 2403.99,1382.57 2404.35,1382.01 2404.71,1381.45 2405.07,1380.88 2405.44,1380.32 2405.8,1379.76 2406.15,1379.2 2406.51,1378.64 2406.86,1378.08 2407.22,1377.52 2407.58,1376.95 2407.94,1376.39 2408.31,1375.83 2408.7,1375.27 2409.1,1374.71 2409.52,1374.15 2409.95,1373.59 2410.4,1373.03 2410.85,1372.46 2411.28,1371.9 2411.71,1371.34 2412.11,1370.78 2412.48,1370.22 2412.83,1369.66 2413.16,1369.1 2413.48,1368.54 2413.8,1367.97 2414.13,1367.41 2414.46,1366.85 2414.82,1366.29 2415.21,1365.73 2415.66,1365.17 2416.17,1364.61 2416.7,1364.04 2417.23,1363.48 2417.73,1362.92 2418.17,1362.36 2418.52,1361.8 2418.76,1361.24 2418.97,1360.68 2419.16,1360.12 2419.35,1359.55 2419.51,1358.99 2419.64,1358.43 2419.74,1357.87 2419.79,1357.31 2419.81,1356.75 2419.77,1356.19 2419.7,1355.62 2419.6,1355.06 2419.47,1354.5 2419.33,1353.94 2419.18,1353.38 2419.02,1352.82 2418.87,1352.26 2418.72,1351.7 2418.55,1351.13 2418.37,1350.57 2418.18,1350.01 2417.98,1349.45 2417.77,1348.89 2417.54,1348.33 2417.31,1347.77 2417.06,1347.21 2416.81,1346.64 2416.54,1346.08 2416.26,1345.52 2415.97,1344.96 2415.67,1344.4 2415.36,1343.84 2415.04,1343.28 2414.68,1342.71 2414.27,1342.15 2413.81,1341.59 2413.31,1341.03 2412.78,1340.47 2412.23,1339.91 2411.65,1339.35 2411.07,1338.79 2410.48,1338.22 2409.89,1337.66 2409.31,1337.1 2408.75,1336.54 2408.21,1335.98 2407.7,1335.42 2407.23,1334.86 2406.8,1334.3 2406.4,1333.73 2405.99,1333.17 2405.59,1332.61 2405.18,1332.05 2404.78,1331.49 2404.39,1330.93 2404,1330.37 2403.64,1329.8 2403.28,1329.24 2402.95,1328.68 2402.64,1328.12 2402.36,1327.56 2402.11,1327 2401.88,1326.44 2401.7,1325.88 2401.55,1325.31 2401.43,1324.75 2401.33,1324.19 2401.24,1323.63 2401.15,1323.07 2401.08,1322.51 2401.01,1321.95 2400.95,1321.39 2400.89,1320.82 2400.84,1320.26 2400.78,1319.7 2400.72,1319.14 2400.66,1318.58 2400.6,1318.02 2400.53,1317.46 2400.45,1316.89 2400.37,1316.33 2400.27,1315.77 2400.15,1315.21 2400.01,1314.65 2399.86,1314.09 2399.7,1313.53 2399.54,1312.97 2399.37,1312.4 2399.22,1311.84 2399.08,1311.28 2398.96,1310.72 2398.87,1310.16 2398.8,1309.6 2398.75,1309.04 2398.7,1308.48 2398.66,1307.91 2398.61,1307.35 2398.57,1306.79 2398.52,1306.23 2398.48,1305.67 2398.44,1305.11 2398.4,1304.55 2398.36,1303.98 2398.32,1303.42 2398.29,1302.86 2398.25,1302.3 2398.22,1301.74 2398.19,1301.18 2398.15,1300.62 2398.12,1300.06 2398.09,1299.49 2398.07,1298.93 2398.04,1298.37 2398.02,1297.81 2397.99,1297.25 2397.97,1296.69 2397.95,1296.13 2397.93,1295.57 2397.91,1295 2397.89,1294.44 2397.88,1293.88 2397.86,1293.32 2397.85,1292.76 2397.84,1292.2 2397.82,1291.64 2397.82,1291.07 2397.81,1290.51 2397.79,1289.95 2397.76,1289.39 2397.73,1288.83 2397.7,1288.27 2397.67,1287.71" fill="#eca524" fill-opacity="0.22"/>
<g stroke="#5291f8" stroke-width="4.5" stroke-linecap="square">
<line x1="1403" y1="1214.01" x2="1403" y2="1618.99"/>
<line x1="1391.7" y1="1214.01" x2="1414.3" y2="1214.01"/>
<line x1="1391.7" y1="1618.99" x2="1414.3" y2="1618.99"/>
</g>
<g stroke="#9b2226" stroke-width="4.5" stroke-linecap="square">
<line x1="1448.21" y1="1203.94" x2="1448.21" y2="1359.07"/>
<line x1="1436.91" y1="1203.94" x2="1459.51" y2="1203.94"/>
<line x1="1436.91" y1="1359.07" x2="1459.51" y2="1359.07"/>
</g>
<g stroke="#eca524" stroke-width="4.5" stroke-linecap="square">
<line x1="1493.42" y1="1328.13" x2="1493.42" y2="1414.24"/>
<line x1="1482.12" y1="1328.13" x2="1504.72" y2="1328.13"/>
<line x1="1482.12" y1="1414.24" x2="1504.72" y2="1414.24"/>
</g>
<g stroke="#5291f8" stroke-width="4.5" stroke-linecap="square">
<line x1="1629.05" y1="1144.25" x2="1629.05" y2="1498.88"/>
<line x1="1617.75" y1="1144.25" x2="1640.35" y2="1144.25"/>
<line x1="1617.75" y1="1498.88" x2="1640.35" y2="1498.88"/>
</g>
<g stroke="#9b2226" stroke-width="4.5" stroke-linecap="square">
<line x1="1674.25" y1="1238.96" x2="1674.25" y2="1360.09"/>
<line x1="1662.95" y1="1238.96" x2="1685.55" y2="1238.96"/>
<line x1="1662.95" y1="1360.09" x2="1685.55" y2="1360.09"/>
</g>
<g stroke="#eca524" stroke-width="4.5" stroke-linecap="square">
<line x1="1719.46" y1="1299.09" x2="1719.46" y2="1441.97"/>
<line x1="1708.16" y1="1299.09" x2="1730.76" y2="1299.09"/>
<line x1="1708.16" y1="1441.97" x2="1730.76" y2="1441.97"/>
</g>
<g stroke="#5291f8" stroke-width="4.5" stroke-linecap="square">
<line x1="1855.09" y1="1250.93" x2="1855.09" y2="1391.03"/>
<line x1="1843.79" y1="1250.93" x2="1866.39" y2="1250.93"/>
<line x1="1843.79" y1="1391.03" x2="1866.39" y2="1391.03"/>
</g>
<g stroke="#9b2226" stroke-width="4.5" stroke-linecap="square">
<line x1="1900.3" y1="1315.29" x2="1900.3" y2="1358.05"/>
<line x1="1889" y1="1315.29" x2="1911.6" y2="1315.29"/>
<line x1="1889" y1="1358.05" x2="1911.6" y2="1358.05"/>
</g>
<g stroke="#eca524" stroke-width="4.5" stroke-linecap="square">
<line x1="1945.5" y1="1309.31" x2="1945.5" y2="1445.18"/>
<line x1="1934.2" y1="1309.31" x2="1956.8" y2="1309.31"/>
<line x1="1934.2" y1="1445.18" x2="1956.8" y2="1445.18"/>
</g>
<g stroke="#5291f8" stroke-width="4.5" stroke-linecap="square">
<line x1="2081.13" y1="1287.12" x2="2081.13" y2="1363.3"/>
<line x1="2069.83" y1="1287.12" x2="2092.43" y2="1287.12"/>
<line x1="2069.83" y1="1363.3" x2="2092.43" y2="1363.3"/>
</g>
<g stroke="#9b2226" stroke-width="4.5" stroke-linecap="square">
<line x1="2126.34" y1="1352.21" x2="2126.34" y2="1353.09"/>
<line x1="2115.04" y1="1352.21" x2="2137.64" y2="1352.21"/>
<line x1="2115.04" y1="1353.09" x2="2137.64" y2="1353.09"/>
</g>
<g stroke="#eca524" stroke-width="4.5" stroke-linecap="square">
<line x1="2171.55" y1="1303.32" x2="2171.55" y2="1457.14"/>
<line x1="2160.25" y1="1303.32" x2="2182.85" y2="1303.32"/>
<line x1="2160.25" y1="1457.14" x2="2182.85" y2="1457.14"/>
</g>
<g stroke="#5291f8" stroke-width="4.5" stroke-linecap="square">
<line x1="2307.17" y1="1352.21" x2="2307.17" y2="1353.09"/>
<line x1="2295.87" y1="1352.21" x2="2318.47" y2="1352.21"/>
<line x1="2295.87" y1="1353.09" x2="2318.47" y2="1353.09"/>
</g>
<g stroke="#9b2226" stroke-width="4.5" stroke-linecap="square">
<line x1="2352.38" y1="1352.21" x2="2352.38" y2="1353.09"/>
<line x1="2341.08" y1="1352.21" x2="2363.68" y2="1352.21"/>
<line x1="2341.08" y1="1353.09" x2="2363.68" y2="1353.09"/>
</g>
<g stroke="#eca524" stroke-width="4.5" stroke-linecap="square">
<line x1="2397.59" y1="1302.01" x2="2397.59" y2="1449.41"/>
<line x1="2386.29" y1="1302.01" x2="2408.89" y2="1302.01"/>
<line x1="2386.29" y1="1449.41" x2="2408.89" y2="1449.41"/>
</g>
<line x1="1380.4" y1="1352.65" x2="2465.4" y2="1352.65" stroke="#000" stroke-width="4.5" stroke-dasharray="16.65 7.2"/>
<text x="1470.82" y="1708.3" font-size="45" text-anchor="middle" font-weight="bold">CORE</text>
<text x="1787.28" y="1708.3" font-size="45" text-anchor="middle" font-weight="bold">INTERMEDIATE</text>
<text x="2239.36" y="1708.3" font-size="45" text-anchor="middle" font-weight="bold">OUTER</text>
</g>
<rect x="1380.4" y="987.8" width="1085" height="729.7" fill="none" stroke="#000" stroke-width="2.4" stroke-linejoin="miter"/>
<path d="M1561.23 1717.5V1728M1787.28 1717.5V1728M2013.32 1717.5V1728M2239.36 1717.5V1728M2465.4 1717.5V1728M1380.4 1060.77H1369.9M1380.4 1206.71H1369.9M1380.4 1352.65H1369.9M1380.4 1498.59H1369.9M1380.4 1644.53H1369.9" stroke="#000" stroke-width="2.4" fill="none"/>
<text x="1561.23" y="1773" font-size="45" text-anchor="middle">0.5</text>
<text x="1787.28" y="1773" font-size="45" text-anchor="middle">1.0</text>
<text x="2013.32" y="1773" font-size="45" text-anchor="middle">1.5</text>
<text x="2239.36" y="1773" font-size="45" text-anchor="middle">2.0</text>
<text x="2465.4" y="1773" font-size="45" text-anchor="middle">2.5</text>
<text x="1922.9" y="1828" font-size="45" text-anchor="middle">Oxygen minimum [ml/l]</text>
<text x="1922.5" y="901.9" font-size="60" text-anchor="middle" font-weight="bold">Individual Factors</text>
<text x="1922.5" y="969.1" font-size="60" text-anchor="middle" font-weight="bold">(full range)</text>
<text x="1413.7" y="1062.8" font-size="60" text-anchor="start" font-weight="bold">d</text>
<rect x="2081.8" y="150.7" width="366.2" height="221.6" rx="7.2" ry="7.2" fill="#fff" fill-opacity="0.8" stroke="#cccccc" stroke-opacity="0.8" stroke-width="3"/>
<line x1="2095.7" y1="179.2" x2="2167.9" y2="179.2" stroke="#5291f8" stroke-width="9" stroke-linecap="square"/>
<text x="2196.6" y="192.1" font-size="36" text-anchor="start">oxy. effect</text>
<line x1="2095.7" y1="232.2" x2="2167.9" y2="232.2" stroke="#9b2226" stroke-width="9" stroke-linecap="square"/>
<text x="2196.6" y="244.8" font-size="36" text-anchor="start">temp. effect</text>
<line x1="2095.7" y1="285.2" x2="2167.9" y2="285.2" stroke="#eca524" stroke-width="9" stroke-linecap="square"/>
<text x="2196.6" y="297.4" font-size="36" text-anchor="start">light effect</text>
<line x1="2095.7" y1="338.3" x2="2167.9" y2="338.3" stroke="#808080" stroke-width="9" stroke-dasharray="33.3 14.4"/>
<text x="2196.6" y="350" font-size="36" text-anchor="start">nonlin. effect</text>
<rect x="2096.6" y="1005.8" width="350.4" height="169.5" rx="7.2" ry="7.2" fill="#fff" fill-opacity="0.8" stroke="#cccccc" stroke-opacity="0.8" stroke-width="3"/>
<rect x="2110.8" y="1022.5" width="72.1" height="25.1" fill="#5291f8"/>
<text x="2211" y="1047.3" font-size="36" text-anchor="start">oxy. effect</text>
<rect x="2110.8" y="1075.5" width="72.1" height="25.1" fill="#9b2226"/>
<text x="2211" y="1100.1" font-size="36" text-anchor="start">temp. effect</text>
<rect x="2110.8" y="1128.6" width="72.1" height="25.1" fill="#eca524"/>
<text x="2211" y="1153.1" font-size="36" text-anchor="start">light effect</text></svg>
</body></html>
